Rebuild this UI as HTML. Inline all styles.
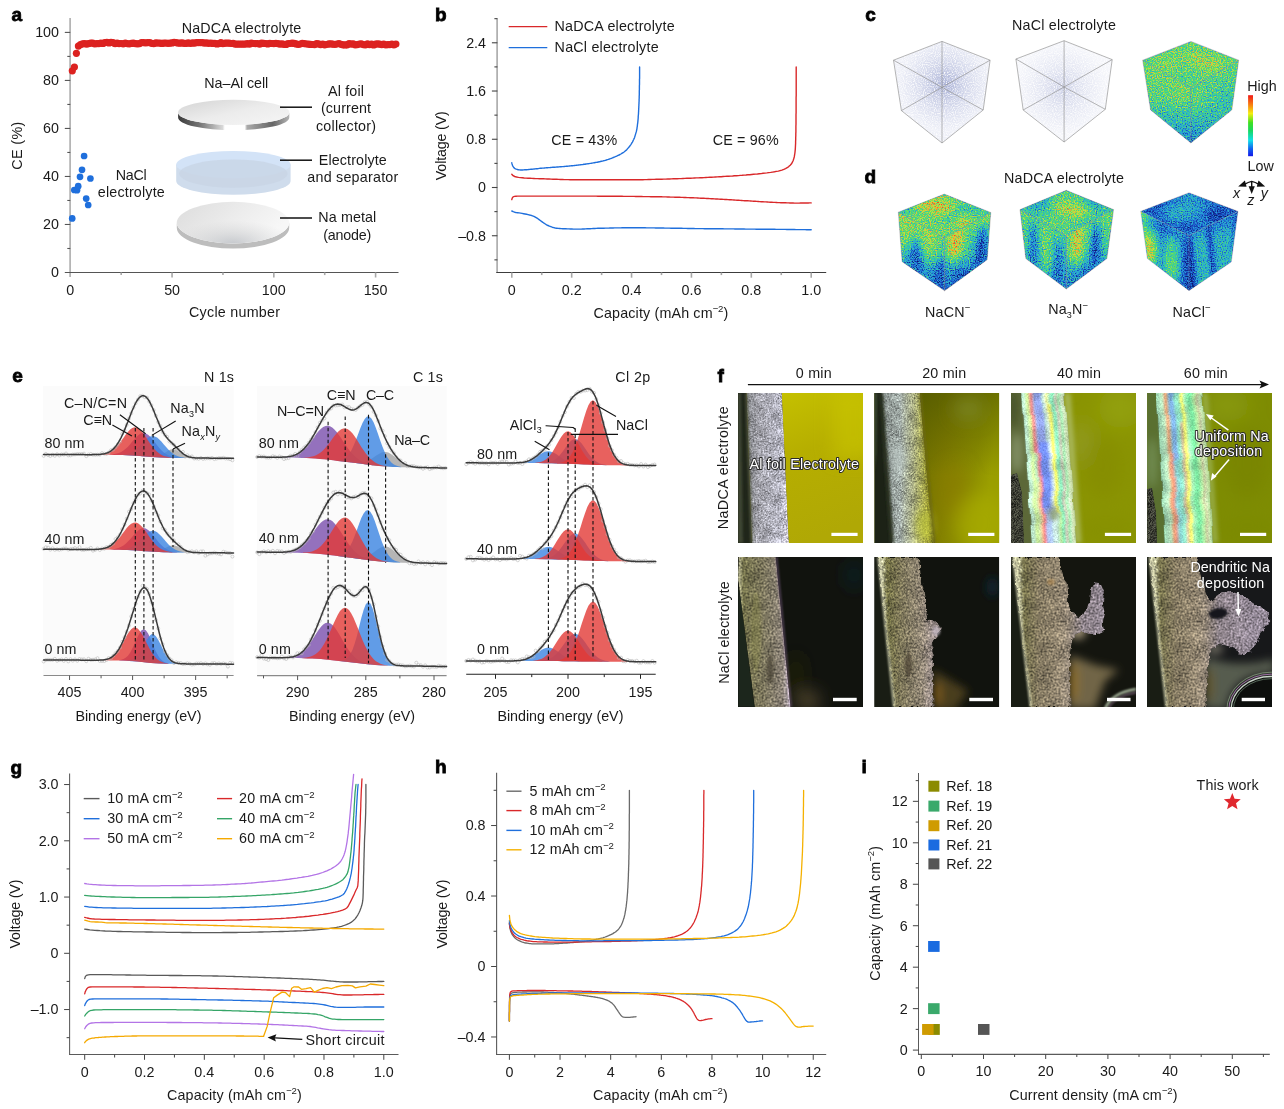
<!DOCTYPE html>
<html><head><meta charset="utf-8"><title>Figure</title>
<style>html,body{margin:0;padding:0;background:#fff}svg{display:block;will-change:transform;transform:translateZ(0)}text{font-family:"Liberation Sans",sans-serif}</style>
</head><body>
<svg width="1284" height="1109" viewBox="0 0 1284 1109">
<rect width="1284" height="1109" fill="#fff"/>
<g id="pa">
<text x="11.5" y="21" font-size="19" font-weight="bold" fill="#000" stroke="#000" stroke-width="0.8">a</text>
<line x1="70.10" y1="18.00" x2="70.10" y2="277.00" stroke="#b2b2b2" stroke-width="1.7"/>
<line x1="64.80" y1="272.50" x2="398.50" y2="272.50" stroke="#555" stroke-width="1.15"/>
<line x1="64.80" y1="224.48" x2="70.30" y2="224.48" stroke="#555" stroke-width="1.1"/><line x1="64.80" y1="176.46" x2="70.30" y2="176.46" stroke="#555" stroke-width="1.1"/><line x1="64.80" y1="128.44" x2="70.30" y2="128.44" stroke="#555" stroke-width="1.1"/><line x1="64.80" y1="80.42" x2="70.30" y2="80.42" stroke="#555" stroke-width="1.1"/><line x1="64.80" y1="32.40" x2="70.30" y2="32.40" stroke="#555" stroke-width="1.1"/><line x1="67.30" y1="248.49" x2="70.30" y2="248.49" stroke="#555" stroke-width="1.1"/><line x1="67.30" y1="200.47" x2="70.30" y2="200.47" stroke="#555" stroke-width="1.1"/><line x1="67.30" y1="152.45" x2="70.30" y2="152.45" stroke="#555" stroke-width="1.1"/><line x1="67.30" y1="104.43" x2="70.30" y2="104.43" stroke="#555" stroke-width="1.1"/><line x1="67.30" y1="56.41" x2="70.30" y2="56.41" stroke="#555" stroke-width="1.1"/>
<line x1="172.06" y1="272.50" x2="172.06" y2="277.50" stroke="#a8a8a8" stroke-width="1.6"/><line x1="273.83" y1="272.50" x2="273.83" y2="277.50" stroke="#a8a8a8" stroke-width="1.6"/><line x1="375.59" y1="272.50" x2="375.59" y2="277.50" stroke="#a8a8a8" stroke-width="1.6"/><line x1="121.18" y1="272.50" x2="121.18" y2="275.10" stroke="#a8a8a8" stroke-width="1.6"/><line x1="222.95" y1="272.50" x2="222.95" y2="275.10" stroke="#a8a8a8" stroke-width="1.6"/><line x1="324.71" y1="272.50" x2="324.71" y2="275.10" stroke="#a8a8a8" stroke-width="1.6"/>
<text x="59.0" y="277.3" font-size="14.3" text-anchor="end" fill="#1a1a1a">0</text>
<text x="59.0" y="229.3" font-size="14.3" text-anchor="end" fill="#1a1a1a">20</text>
<text x="59.0" y="181.3" font-size="14.3" text-anchor="end" fill="#1a1a1a">40</text>
<text x="59.0" y="133.2" font-size="14.3" text-anchor="end" fill="#1a1a1a">60</text>
<text x="59.0" y="85.2" font-size="14.3" text-anchor="end" fill="#1a1a1a">80</text>
<text x="59.0" y="37.2" font-size="14.3" text-anchor="end" fill="#1a1a1a">100</text>
<text x="70.3" y="295.0" font-size="14.3" text-anchor="middle" fill="#1a1a1a">0</text>
<text x="172.1" y="295.0" font-size="14.3" text-anchor="middle" fill="#1a1a1a">50</text>
<text x="273.8" y="295.0" font-size="14.3" text-anchor="middle" fill="#1a1a1a">100</text>
<text x="375.6" y="295.0" font-size="14.3" text-anchor="middle" fill="#1a1a1a">150</text>
<text x="22.3" y="145.5" font-size="14.3" text-anchor="middle" letter-spacing="0.4" transform="rotate(-90 22.3 145.5)" fill="#1a1a1a">CE (%)</text>
<text x="234.5" y="316.5" font-size="14.3" text-anchor="middle" textLength="91.0" lengthAdjust="spacing" fill="#1a1a1a">Cycle number</text>
<text x="241.5" y="33.3" font-size="14.3" text-anchor="middle" textLength="119.6" lengthAdjust="spacing" fill="#1a1a1a">NaDCA electrolyte</text>
<text x="131.3" y="179.8" font-size="14.3" text-anchor="middle" textLength="31.0" lengthAdjust="spacing" fill="#1a1a1a">NaCl</text>
<text x="131.3" y="196.6" font-size="14.3" text-anchor="middle" textLength="67.0" lengthAdjust="spacing" fill="#1a1a1a">electrolyte</text>
<g fill="#dc2220"><circle cx="72.3" cy="70.8" r="3.6"/><circle cx="74.4" cy="67.0" r="3.6"/><circle cx="76.4" cy="53.3" r="3.6"/><circle cx="78.4" cy="46.1" r="3.6"/><circle cx="80.5" cy="44.6" r="3.6"/><circle cx="82.5" cy="43.8" r="3.6"/><circle cx="84.5" cy="43.6" r="3.6"/><circle cx="86.6" cy="44.1" r="3.6"/><circle cx="88.6" cy="43.7" r="3.6"/><circle cx="90.7" cy="43.1" r="3.6"/><circle cx="92.7" cy="43.0" r="3.6"/><circle cx="94.7" cy="44.0" r="3.6"/><circle cx="96.8" cy="43.7" r="3.6"/><circle cx="98.8" cy="43.7" r="3.6"/><circle cx="100.8" cy="43.0" r="3.6"/><circle cx="102.9" cy="43.4" r="3.6"/><circle cx="104.9" cy="42.7" r="3.6"/><circle cx="106.9" cy="42.4" r="3.6"/><circle cx="109.0" cy="42.9" r="3.6"/><circle cx="111.0" cy="42.4" r="3.6"/><circle cx="113.0" cy="42.7" r="3.6"/><circle cx="115.1" cy="43.7" r="3.6"/><circle cx="117.1" cy="43.0" r="3.6"/><circle cx="119.1" cy="43.6" r="3.6"/><circle cx="121.2" cy="43.5" r="3.6"/><circle cx="123.2" cy="43.8" r="3.6"/><circle cx="125.3" cy="43.2" r="3.6"/><circle cx="127.3" cy="43.6" r="3.6"/><circle cx="129.3" cy="44.0" r="3.6"/><circle cx="131.4" cy="43.4" r="3.6"/><circle cx="133.4" cy="43.1" r="3.6"/><circle cx="135.4" cy="43.7" r="3.6"/><circle cx="137.5" cy="43.8" r="3.6"/><circle cx="139.5" cy="43.6" r="3.6"/><circle cx="141.5" cy="42.7" r="3.6"/><circle cx="143.6" cy="42.6" r="3.6"/><circle cx="145.6" cy="43.0" r="3.6"/><circle cx="147.6" cy="42.7" r="3.6"/><circle cx="149.7" cy="42.7" r="3.6"/><circle cx="151.7" cy="43.3" r="3.6"/><circle cx="153.7" cy="43.7" r="3.6"/><circle cx="155.8" cy="42.9" r="3.6"/><circle cx="157.8" cy="43.0" r="3.6"/><circle cx="159.9" cy="43.2" r="3.6"/><circle cx="161.9" cy="43.4" r="3.6"/><circle cx="163.9" cy="43.1" r="3.6"/><circle cx="166.0" cy="43.0" r="3.6"/><circle cx="168.0" cy="43.3" r="3.6"/><circle cx="170.0" cy="43.2" r="3.6"/><circle cx="172.1" cy="42.9" r="3.6"/><circle cx="174.1" cy="42.4" r="3.6"/><circle cx="176.1" cy="42.7" r="3.6"/><circle cx="178.2" cy="43.2" r="3.6"/><circle cx="180.2" cy="43.2" r="3.6"/><circle cx="182.2" cy="42.9" r="3.6"/><circle cx="184.3" cy="43.3" r="3.6"/><circle cx="186.3" cy="43.3" r="3.6"/><circle cx="188.3" cy="42.8" r="3.6"/><circle cx="190.4" cy="43.5" r="3.6"/><circle cx="192.4" cy="42.9" r="3.6"/><circle cx="194.5" cy="43.1" r="3.6"/><circle cx="196.5" cy="42.6" r="3.6"/><circle cx="198.5" cy="42.6" r="3.6"/><circle cx="200.6" cy="42.7" r="3.6"/><circle cx="202.6" cy="42.7" r="3.6"/><circle cx="204.6" cy="43.2" r="3.6"/><circle cx="206.7" cy="42.8" r="3.6"/><circle cx="208.7" cy="43.3" r="3.6"/><circle cx="210.7" cy="43.0" r="3.6"/><circle cx="212.8" cy="43.4" r="3.6"/><circle cx="214.8" cy="43.3" r="3.6"/><circle cx="216.8" cy="43.9" r="3.6"/><circle cx="218.9" cy="43.7" r="3.6"/><circle cx="220.9" cy="42.6" r="3.6"/><circle cx="222.9" cy="43.7" r="3.6"/><circle cx="225.0" cy="43.1" r="3.6"/><circle cx="227.0" cy="43.2" r="3.6"/><circle cx="229.1" cy="43.1" r="3.6"/><circle cx="231.1" cy="43.5" r="3.6"/><circle cx="233.1" cy="43.4" r="3.6"/><circle cx="235.2" cy="44.2" r="3.6"/><circle cx="237.2" cy="44.2" r="3.6"/><circle cx="239.2" cy="44.1" r="3.6"/><circle cx="241.3" cy="44.1" r="3.6"/><circle cx="243.3" cy="44.2" r="3.6"/><circle cx="245.3" cy="44.2" r="3.6"/><circle cx="247.4" cy="43.6" r="3.6"/><circle cx="249.4" cy="44.2" r="3.6"/><circle cx="251.4" cy="43.1" r="3.6"/><circle cx="253.5" cy="43.5" r="3.6"/><circle cx="255.5" cy="43.7" r="3.6"/><circle cx="257.5" cy="43.5" r="3.6"/><circle cx="259.6" cy="44.2" r="3.6"/><circle cx="261.6" cy="43.2" r="3.6"/><circle cx="263.7" cy="43.4" r="3.6"/><circle cx="265.7" cy="43.5" r="3.6"/><circle cx="267.7" cy="43.9" r="3.6"/><circle cx="269.8" cy="43.4" r="3.6"/><circle cx="271.8" cy="43.5" r="3.6"/><circle cx="273.8" cy="43.7" r="3.6"/><circle cx="275.9" cy="43.3" r="3.6"/><circle cx="277.9" cy="43.7" r="3.6"/><circle cx="279.9" cy="44.1" r="3.6"/><circle cx="282.0" cy="43.8" r="3.6"/><circle cx="284.0" cy="44.3" r="3.6"/><circle cx="286.0" cy="44.4" r="3.6"/><circle cx="288.1" cy="43.6" r="3.6"/><circle cx="290.1" cy="43.5" r="3.6"/><circle cx="292.1" cy="43.2" r="3.6"/><circle cx="294.2" cy="43.4" r="3.6"/><circle cx="296.2" cy="43.9" r="3.6"/><circle cx="298.3" cy="44.5" r="3.6"/><circle cx="300.3" cy="44.0" r="3.6"/><circle cx="302.3" cy="43.4" r="3.6"/><circle cx="304.4" cy="43.6" r="3.6"/><circle cx="306.4" cy="44.0" r="3.6"/><circle cx="308.4" cy="44.1" r="3.6"/><circle cx="310.5" cy="44.4" r="3.6"/><circle cx="312.5" cy="44.5" r="3.6"/><circle cx="314.5" cy="44.7" r="3.6"/><circle cx="316.6" cy="43.5" r="3.6"/><circle cx="318.6" cy="43.9" r="3.6"/><circle cx="320.6" cy="44.6" r="3.6"/><circle cx="322.7" cy="44.2" r="3.6"/><circle cx="324.7" cy="44.8" r="3.6"/><circle cx="326.7" cy="44.5" r="3.6"/><circle cx="328.8" cy="43.8" r="3.6"/><circle cx="330.8" cy="43.9" r="3.6"/><circle cx="332.9" cy="44.2" r="3.6"/><circle cx="334.9" cy="44.5" r="3.6"/><circle cx="336.9" cy="44.0" r="3.6"/><circle cx="339.0" cy="43.5" r="3.6"/><circle cx="341.0" cy="44.3" r="3.6"/><circle cx="343.0" cy="44.8" r="3.6"/><circle cx="345.1" cy="44.9" r="3.6"/><circle cx="347.1" cy="44.8" r="3.6"/><circle cx="349.1" cy="43.6" r="3.6"/><circle cx="351.2" cy="44.2" r="3.6"/><circle cx="353.2" cy="43.8" r="3.6"/><circle cx="355.2" cy="44.8" r="3.6"/><circle cx="357.3" cy="44.6" r="3.6"/><circle cx="359.3" cy="44.0" r="3.6"/><circle cx="361.3" cy="43.8" r="3.6"/><circle cx="363.4" cy="44.6" r="3.6"/><circle cx="365.4" cy="45.0" r="3.6"/><circle cx="367.5" cy="43.8" r="3.6"/><circle cx="369.5" cy="44.7" r="3.6"/><circle cx="371.5" cy="44.0" r="3.6"/><circle cx="373.6" cy="44.9" r="3.6"/><circle cx="375.6" cy="44.1" r="3.6"/><circle cx="377.6" cy="43.9" r="3.6"/><circle cx="379.7" cy="44.1" r="3.6"/><circle cx="381.7" cy="44.6" r="3.6"/><circle cx="383.7" cy="44.1" r="3.6"/><circle cx="385.8" cy="45.0" r="3.6"/><circle cx="387.8" cy="44.7" r="3.6"/><circle cx="389.8" cy="44.6" r="3.6"/><circle cx="391.9" cy="44.0" r="3.6"/><circle cx="393.9" cy="45.0" r="3.6"/><circle cx="395.9" cy="44.0" r="3.6"/></g>
<g fill="#1f6fdc"><circle cx="72.2" cy="218.4" r="3.35"/><circle cx="74.3" cy="190.0" r="3.35"/><circle cx="77" cy="190.2" r="3.35"/><circle cx="78.2" cy="186.2" r="3.35"/><circle cx="80" cy="176.8" r="3.35"/><circle cx="82" cy="169.8" r="3.35"/><circle cx="84.1" cy="156" r="3.35"/><circle cx="86.2" cy="198.6" r="3.35"/><circle cx="88.2" cy="205" r="3.35"/><circle cx="90.4" cy="178.5" r="3.35"/></g>
<defs>
<linearGradient id="alTop" x1="0" y1="0" x2="1" y2="1"><stop offset="0" stop-color="#d4d4d4"/><stop offset="0.5" stop-color="#ececec"/><stop offset="1" stop-color="#f6f6f6"/></linearGradient>
<linearGradient id="alRim" x1="0" y1="0" x2="1" y2="0"><stop offset="0" stop-color="#3a3a3a"/><stop offset="0.2" stop-color="#777"/><stop offset="0.4" stop-color="#d8d8d8"/><stop offset="0.42" stop-color="#fff"/><stop offset="0.6" stop-color="#fff"/><stop offset="0.62" stop-color="#aaa"/><stop offset="0.85" stop-color="#666"/><stop offset="1" stop-color="#b5b5b5"/></linearGradient>
<linearGradient id="naTop" x1="0" y1="0" x2="1" y2="0.4"><stop offset="0" stop-color="#dcdcdc"/><stop offset="0.6" stop-color="#ededed"/><stop offset="1" stop-color="#f7f7f7"/></linearGradient>
<radialGradient id="naShade" cx="0.5" cy="1" r="0.55"><stop offset="0" stop-color="#b8bcc2" stop-opacity="0.75"/><stop offset="1" stop-color="#d0d0d0" stop-opacity="0"/></radialGradient>
</defs>
<path d="M178.1 112.4 A55.6 12.6 0 0 0 289.3 112.4 L289.3 117.60000000000001 A55.6 12.6 0 0 1 178.1 117.60000000000001 Z" fill="url(#alRim)"/>
<ellipse cx="233.7" cy="112.4" rx="55.6" ry="12.6" fill="url(#alTop)"/>
<path d="M176.2 164.6 L176.2 181.1 A57.2 13.6 0 0 0 290.6 181.1 L290.6 164.6 Z" fill="#cfdcec"/>
<ellipse cx="233.4" cy="164.6" rx="57.2" ry="13.6" fill="#d3e3f7"/>
<ellipse cx="233.4" cy="173.6" rx="54.2" ry="14.1" fill="#c8d5e5" opacity="0.8"/>
<path d="M176.8 222.6 A56.2 20.8 0 0 0 289.2 222.6 L289.2 227.79999999999998 A56.2 20.8 0 0 1 176.8 227.79999999999998 Z" fill="#bdbdbd"/>
<ellipse cx="233.0" cy="222.6" rx="56.2" ry="20.8" fill="url(#naTop)"/>
<ellipse cx="233.0" cy="222.6" rx="56.2" ry="20.8" fill="url(#naShade)"/>
<line x1="280.00" y1="107.20" x2="312.00" y2="107.20" stroke="#111" stroke-width="1.5"/>
<line x1="280.00" y1="160.20" x2="312.00" y2="160.20" stroke="#111" stroke-width="1.5"/>
<line x1="280.00" y1="218.00" x2="312.00" y2="218.00" stroke="#111" stroke-width="1.5"/>
<text x="236.3" y="87.7" font-size="14.3" text-anchor="middle" textLength="64.0" lengthAdjust="spacing" fill="#1a1a1a">Na–Al cell</text>
<text x="346.0" y="96.0" font-size="14.3" text-anchor="middle" textLength="36.0" lengthAdjust="spacing" fill="#1a1a1a">Al foil</text>
<text x="346.0" y="113.2" font-size="14.3" text-anchor="middle" textLength="50.0" lengthAdjust="spacing" fill="#1a1a1a">(current</text>
<text x="346.0" y="130.5" font-size="14.3" text-anchor="middle" textLength="60.0" lengthAdjust="spacing" fill="#1a1a1a">collector)</text>
<text x="352.8" y="164.9" font-size="14.3" text-anchor="middle" textLength="68.0" lengthAdjust="spacing" fill="#1a1a1a">Electrolyte</text>
<text x="352.8" y="181.9" font-size="14.3" text-anchor="middle" textLength="91.0" lengthAdjust="spacing" fill="#1a1a1a">and separator</text>
<text x="347.3" y="222.0" font-size="14.3" text-anchor="middle" textLength="58.0" lengthAdjust="spacing" fill="#1a1a1a">Na metal</text>
<text x="347.3" y="239.8" font-size="14.3" text-anchor="middle" textLength="48.0" lengthAdjust="spacing" fill="#1a1a1a">(anode)</text>
</g>
<g id="pb">
<text x="434.9" y="21" font-size="19" font-weight="bold" fill="#000" stroke="#000" stroke-width="0.8">b</text>
<line x1="497.10" y1="18.20" x2="497.10" y2="273.00" stroke="#a8a8a8" stroke-width="1.6"/>
<line x1="496.30" y1="272.50" x2="826.20" y2="272.50" stroke="#3c3c3c" stroke-width="1.2"/>
<line x1="491.90" y1="235.74" x2="497.40" y2="235.74" stroke="#444" stroke-width="1.1"/><line x1="491.90" y1="187.50" x2="497.40" y2="187.50" stroke="#444" stroke-width="1.1"/><line x1="491.90" y1="139.26" x2="497.40" y2="139.26" stroke="#444" stroke-width="1.1"/><line x1="491.90" y1="91.02" x2="497.40" y2="91.02" stroke="#444" stroke-width="1.1"/><line x1="491.90" y1="42.78" x2="497.40" y2="42.78" stroke="#444" stroke-width="1.1"/><line x1="494.40" y1="259.86" x2="497.40" y2="259.86" stroke="#444" stroke-width="1.1"/><line x1="494.40" y1="211.62" x2="497.40" y2="211.62" stroke="#444" stroke-width="1.1"/><line x1="494.40" y1="163.38" x2="497.40" y2="163.38" stroke="#444" stroke-width="1.1"/><line x1="494.40" y1="115.14" x2="497.40" y2="115.14" stroke="#444" stroke-width="1.1"/><line x1="494.40" y1="66.90" x2="497.40" y2="66.90" stroke="#444" stroke-width="1.1"/><line x1="494.40" y1="18.66" x2="497.40" y2="18.66" stroke="#444" stroke-width="1.1"/>
<line x1="511.80" y1="272.50" x2="511.80" y2="277.70" stroke="#a8a8a8" stroke-width="1.6"/><line x1="571.68" y1="272.50" x2="571.68" y2="277.70" stroke="#a8a8a8" stroke-width="1.6"/><line x1="631.56" y1="272.50" x2="631.56" y2="277.70" stroke="#a8a8a8" stroke-width="1.6"/><line x1="691.44" y1="272.50" x2="691.44" y2="277.70" stroke="#a8a8a8" stroke-width="1.6"/><line x1="751.32" y1="272.50" x2="751.32" y2="277.70" stroke="#a8a8a8" stroke-width="1.6"/><line x1="811.20" y1="272.50" x2="811.20" y2="277.70" stroke="#a8a8a8" stroke-width="1.6"/><line x1="541.74" y1="272.50" x2="541.74" y2="275.10" stroke="#a8a8a8" stroke-width="1.6"/><line x1="601.62" y1="272.50" x2="601.62" y2="275.10" stroke="#a8a8a8" stroke-width="1.6"/><line x1="661.50" y1="272.50" x2="661.50" y2="275.10" stroke="#a8a8a8" stroke-width="1.6"/><line x1="721.38" y1="272.50" x2="721.38" y2="275.10" stroke="#a8a8a8" stroke-width="1.6"/><line x1="781.26" y1="272.50" x2="781.26" y2="275.10" stroke="#a8a8a8" stroke-width="1.6"/>
<text x="486.0" y="240.5" font-size="14.3" text-anchor="end" fill="#1a1a1a">–0.8</text>
<text x="486.0" y="192.3" font-size="14.3" text-anchor="end" fill="#1a1a1a">0</text>
<text x="486.0" y="144.1" font-size="14.3" text-anchor="end" fill="#1a1a1a">0.8</text>
<text x="486.0" y="95.8" font-size="14.3" text-anchor="end" fill="#1a1a1a">1.6</text>
<text x="486.0" y="47.6" font-size="14.3" text-anchor="end" fill="#1a1a1a">2.4</text>
<text x="511.8" y="295.0" font-size="14.3" text-anchor="middle" fill="#1a1a1a">0</text>
<text x="571.7" y="295.0" font-size="14.3" text-anchor="middle" fill="#1a1a1a">0.2</text>
<text x="631.6" y="295.0" font-size="14.3" text-anchor="middle" fill="#1a1a1a">0.4</text>
<text x="691.4" y="295.0" font-size="14.3" text-anchor="middle" fill="#1a1a1a">0.6</text>
<text x="751.3" y="295.0" font-size="14.3" text-anchor="middle" fill="#1a1a1a">0.8</text>
<text x="811.2" y="295.0" font-size="14.3" text-anchor="middle" fill="#1a1a1a">1.0</text>
<text x="446.5" y="145.7" font-size="14.3" text-anchor="middle" textLength="69.0" lengthAdjust="spacing" transform="rotate(-90 446.5 145.7)" fill="#1a1a1a">Voltage (V)</text>
<text x="661.0" y="317.5" font-size="14.3" text-anchor="middle" letter-spacing="0.15" fill="#1a1a1a">Capacity (mAh cm<tspan dy="-5.6" font-size="9.6" letter-spacing="-0.3">−2</tspan><tspan dy="5.6" font-size="1"> </tspan>)</text>
<line x1="508.70" y1="26.50" x2="547.30" y2="26.50" stroke="#d9282a" stroke-width="1.25"/>
<line x1="508.70" y1="47.50" x2="547.30" y2="47.50" stroke="#1f6fdc" stroke-width="1.25"/>
<text x="554.6" y="30.8" font-size="14.3" textLength="120.0" lengthAdjust="spacing" fill="#1a1a1a">NaDCA electrolyte</text>
<text x="554.6" y="51.9" font-size="14.3" textLength="104.0" lengthAdjust="spacing" fill="#1a1a1a">NaCl electrolyte</text>
<text x="551.3" y="144.7" font-size="14.3" textLength="66.0" lengthAdjust="spacing" fill="#1a1a1a">CE = 43%</text>
<text x="712.7" y="144.7" font-size="14.3" textLength="66.0" lengthAdjust="spacing" fill="#1a1a1a">CE = 96%</text>
<path d="M511.8 162.8 L512.0 163.9 L512.3 164.9 L512.7 165.8 L513.2 166.7 L513.8 167.6 L514.6 168.3 L515.5 168.8 L516.4 169.2 L517.4 169.5 L518.4 169.8 L519.5 169.9 L520.6 170.0 L521.6 170.0 L522.6 170.0 L523.7 169.9 L524.7 169.8 L525.8 169.8 L526.8 169.7 L527.8 169.6 L528.9 169.5 L529.9 169.4 L531.0 169.3 L532.0 169.2 L533.0 169.1 L534.1 169.0 L535.1 168.9 L536.1 168.8 L537.2 168.7 L538.2 168.6 L539.3 168.4 L540.3 168.3 L541.3 168.2 L542.4 168.1 L543.4 168.1 L544.5 168.0 L545.5 167.9 L546.5 167.8 L547.6 167.7 L548.6 167.6 L549.7 167.6 L550.7 167.5 L551.7 167.4 L552.8 167.3 L553.8 167.3 L554.9 167.2 L555.9 167.1 L556.9 167.0 L558.0 167.0 L559.0 166.9 L560.1 166.8 L561.1 166.7 L562.1 166.6 L563.2 166.6 L564.2 166.5 L565.3 166.4 L566.3 166.3 L567.3 166.2 L568.4 166.1 L569.4 166.0 L570.4 165.9 L571.5 165.8 L572.5 165.7 L573.5 165.6 L574.6 165.5 L575.6 165.4 L576.7 165.2 L577.7 165.1 L578.7 165.0 L579.8 164.9 L580.8 164.7 L581.9 164.6 L582.9 164.5 L583.9 164.3 L585.0 164.2 L586.0 164.0 L587.0 163.9 L588.1 163.7 L589.1 163.6 L590.2 163.4 L591.2 163.3 L592.2 163.1 L593.2 162.9 L594.3 162.7 L595.3 162.5 L596.3 162.4 L597.3 162.2 L598.3 162.0 L599.4 161.8 L600.4 161.5 L601.4 161.3 L602.4 161.1 L603.4 160.8 L604.4 160.6 L605.4 160.3 L606.4 160.0 L607.4 159.7 L608.4 159.4 L609.4 159.0 L610.4 158.7 L611.4 158.3 L612.4 157.9 L613.3 157.5 L614.3 157.1 L615.3 156.7 L616.2 156.3 L617.1 155.9 L618.1 155.4 L619.0 155.0 L620.0 154.5 L620.9 154.0 L621.8 153.4 L622.7 152.8 L623.6 152.3 L624.4 151.7 L625.2 151.0 L626.0 150.4 L626.7 149.7 L627.4 148.9 L628.1 148.1 L628.8 147.3 L629.5 146.5 L630.1 145.6 L630.7 144.8 L631.3 143.9 L631.8 143.0 L632.4 142.1 L632.9 141.2 L633.3 140.3 L633.8 139.3 L634.2 138.4 L634.6 137.4 L634.9 136.4 L635.2 135.4 L635.5 134.4 L635.8 133.4 L636.1 132.4 L636.4 131.4 L636.6 130.4 L636.8 129.3 L637.0 128.3 L637.1 127.3 L637.3 126.3 L637.4 125.2 L637.5 124.2 L637.7 123.2 L637.8 122.1 L637.9 121.1 L638.0 120.1 L638.1 119.0 L638.2 118.0 L638.2 116.9 L638.3 115.9 L638.4 114.8 L638.5 113.8 L638.5 112.8 L638.6 111.7 L638.6 110.7 L638.7 109.6 L638.7 108.6 L638.8 107.6 L638.8 106.5 L638.9 105.5 L638.9 104.4 L639.0 103.4 L639.0 102.3 L639.1 101.3 L639.1 100.3 L639.1 99.2 L639.2 98.2 L639.2 97.1 L639.2 96.1 L639.3 95.0 L639.3 94.0 L639.3 93.0 L639.3 91.9 L639.3 90.9 L639.4 89.8 L639.4 88.8 L639.4 87.8 L639.4 86.7 L639.4 85.7 L639.5 84.6 L639.5 83.6 L639.5 82.5 L639.5 81.5 L639.5 80.5 L639.5 79.4 L639.6 78.4 L639.6 77.3 L639.6 76.3 L639.6 75.2 L639.6 74.2 L639.6 73.2 L639.6 72.1 L639.6 71.1 L639.6 70.0 L639.6 69.0 L639.6 67.9 L639.6 66.9" fill="none" stroke="#1f6fdc" stroke-width="1.4" stroke-linejoin="round" stroke-linecap="round"/>
<path d="M511.8 174.2 L513.1 175.7 L514.7 176.5 L516.6 177.0 L518.5 177.4 L520.4 177.6 L522.3 177.8 L524.2 178.0 L526.1 178.1 L528.0 178.2 L530.0 178.3 L531.9 178.4 L533.8 178.5 L535.7 178.6 L537.6 178.6 L539.5 178.7 L541.4 178.7 L543.3 178.8 L545.2 178.9 L547.2 179.0 L549.1 179.0 L551.0 179.1 L552.9 179.2 L554.8 179.3 L556.7 179.3 L558.6 179.4 L560.5 179.5 L562.5 179.5 L564.4 179.6 L566.3 179.6 L568.2 179.6 L570.1 179.7 L572.0 179.7 L573.9 179.7 L575.8 179.7 L577.8 179.7 L579.7 179.7 L581.6 179.7 L583.5 179.7 L585.4 179.7 L587.3 179.7 L589.2 179.7 L591.1 179.7 L593.1 179.7 L595.0 179.7 L596.9 179.7 L598.8 179.7 L600.7 179.8 L602.6 179.8 L604.5 179.8 L606.5 179.8 L608.4 179.8 L610.3 179.8 L612.2 179.8 L614.1 179.8 L616.0 179.8 L617.9 179.8 L619.8 179.8 L621.8 179.8 L623.7 179.8 L625.6 179.8 L627.5 179.8 L629.4 179.8 L631.3 179.8 L633.2 179.8 L635.1 179.8 L637.1 179.7 L639.0 179.7 L640.9 179.7 L642.8 179.7 L644.7 179.6 L646.6 179.6 L648.5 179.5 L650.4 179.5 L652.4 179.4 L654.3 179.4 L656.2 179.3 L658.1 179.3 L660.0 179.2 L661.9 179.2 L663.8 179.1 L665.7 179.1 L667.7 179.0 L669.6 179.0 L671.5 178.9 L673.4 178.8 L675.3 178.8 L677.2 178.7 L679.1 178.6 L681.0 178.6 L683.0 178.5 L684.9 178.4 L686.8 178.3 L688.7 178.3 L690.6 178.2 L692.5 178.1 L694.4 178.0 L696.3 177.9 L698.2 177.9 L700.2 177.8 L702.1 177.7 L704.0 177.6 L705.9 177.5 L707.8 177.4 L709.7 177.3 L711.6 177.2 L713.5 177.1 L715.4 177.0 L717.3 176.9 L719.3 176.8 L721.2 176.7 L723.1 176.5 L725.0 176.4 L726.9 176.3 L728.8 176.2 L730.7 176.1 L732.6 176.0 L734.5 175.8 L736.4 175.7 L738.4 175.6 L740.3 175.4 L742.2 175.3 L744.1 175.1 L746.0 175.0 L747.9 174.8 L749.8 174.7 L751.7 174.5 L753.6 174.3 L755.5 174.1 L757.4 174.0 L759.3 173.8 L761.2 173.6 L763.1 173.3 L765.0 173.1 L766.9 172.9 L768.8 172.6 L770.7 172.4 L772.6 172.1 L774.5 171.8 L776.4 171.4 L778.3 171.1 L780.1 170.6 L781.9 170.1 L783.8 169.4 L785.5 168.6 L787.2 167.7 L788.7 166.6 L790.2 165.2 L791.5 163.8 L792.4 162.2 L793.2 160.5 L793.8 158.6 L794.3 156.7 L794.6 154.9 L794.9 153.0 L795.1 151.1 L795.3 149.1 L795.4 147.2 L795.5 145.3 L795.6 143.4 L795.6 141.5 L795.7 139.6 L795.7 137.7 L795.8 135.8 L795.8 133.9 L795.9 131.9 L795.9 130.0 L795.9 128.1 L795.9 126.2 L796.0 124.3 L796.0 122.4 L796.0 120.5 L796.0 118.6 L796.0 116.6 L796.0 114.7 L796.1 112.8 L796.1 110.9 L796.1 109.0 L796.1 107.1 L796.1 105.2 L796.1 103.2 L796.1 101.3 L796.1 99.4 L796.1 97.5 L796.2 95.6 L796.2 93.7 L796.2 91.8 L796.2 89.9 L796.2 87.9 L796.2 86.0 L796.2 84.1 L796.2 82.2 L796.2 80.3 L796.2 78.4 L796.2 76.5 L796.2 74.6 L796.2 72.6 L796.2 70.7 L796.2 68.8 L796.2 66.9" fill="none" stroke="#d9282a" stroke-width="1.4" stroke-linejoin="round" stroke-linecap="round"/>
<path d="M511.8 199.6 L512.2 198.1 L513.1 196.8 L514.4 196.4 L516.0 196.2 L517.5 196.1 L519.0 196.1 L520.6 196.1 L522.1 196.1 L523.6 196.1 L525.1 196.1 L526.6 196.1 L528.1 196.1 L529.6 196.1 L531.1 196.1 L532.6 196.1 L534.2 196.1 L535.7 196.1 L537.2 196.1 L538.7 196.1 L540.2 196.1 L541.7 196.1 L543.3 196.1 L544.8 196.1 L546.3 196.1 L547.8 196.1 L549.3 196.1 L550.8 196.1 L552.4 196.1 L553.9 196.1 L555.4 196.1 L556.9 196.1 L558.4 196.1 L559.9 196.1 L561.5 196.1 L563.0 196.1 L564.5 196.1 L566.0 196.1 L567.5 196.1 L569.0 196.1 L570.5 196.1 L572.1 196.1 L573.6 196.1 L575.1 196.1 L576.6 196.1 L578.1 196.1 L579.6 196.1 L581.1 196.1 L582.7 196.1 L584.2 196.1 L585.7 196.1 L587.2 196.1 L588.7 196.1 L590.2 196.1 L591.7 196.1 L593.3 196.1 L594.8 196.1 L596.3 196.1 L597.8 196.2 L599.3 196.2 L600.8 196.2 L602.4 196.2 L603.9 196.2 L605.4 196.2 L606.9 196.2 L608.4 196.2 L609.9 196.2 L611.4 196.3 L613.0 196.3 L614.5 196.3 L616.0 196.3 L617.5 196.3 L619.0 196.3 L620.5 196.3 L622.0 196.3 L623.6 196.4 L625.1 196.4 L626.6 196.4 L628.1 196.4 L629.6 196.4 L631.1 196.4 L632.6 196.4 L634.2 196.4 L635.7 196.5 L637.2 196.5 L638.7 196.5 L640.2 196.5 L641.7 196.5 L643.2 196.6 L644.8 196.6 L646.3 196.6 L647.8 196.6 L649.3 196.6 L650.8 196.7 L652.3 196.7 L653.8 196.7 L655.4 196.7 L656.9 196.8 L658.4 196.8 L659.9 196.8 L661.4 196.8 L662.9 196.9 L664.4 196.9 L666.0 196.9 L667.5 197.0 L669.0 197.0 L670.5 197.1 L672.0 197.1 L673.5 197.1 L675.0 197.2 L676.6 197.2 L678.1 197.3 L679.6 197.3 L681.1 197.4 L682.6 197.4 L684.1 197.5 L685.6 197.5 L687.2 197.6 L688.7 197.6 L690.2 197.7 L691.7 197.8 L693.2 197.8 L694.7 197.9 L696.2 197.9 L697.7 198.0 L699.3 198.1 L700.8 198.2 L702.3 198.2 L703.8 198.3 L705.3 198.4 L706.8 198.5 L708.3 198.5 L709.8 198.6 L711.4 198.7 L712.9 198.8 L714.4 198.9 L715.9 199.0 L717.4 199.0 L718.9 199.1 L720.4 199.2 L721.9 199.3 L723.5 199.4 L725.0 199.5 L726.5 199.5 L728.0 199.6 L729.5 199.7 L731.0 199.8 L732.5 199.9 L734.0 200.0 L735.6 200.1 L737.1 200.2 L738.6 200.3 L740.1 200.4 L741.6 200.5 L743.1 200.6 L744.6 200.7 L746.1 200.8 L747.6 200.8 L749.2 200.9 L750.7 201.0 L752.2 201.1 L753.7 201.2 L755.2 201.3 L756.7 201.4 L758.2 201.5 L759.7 201.6 L761.3 201.7 L762.8 201.8 L764.3 201.9 L765.8 201.9 L767.3 202.0 L768.8 202.1 L770.3 202.2 L771.8 202.3 L773.3 202.4 L774.9 202.4 L776.4 202.5 L777.9 202.6 L779.4 202.6 L780.9 202.7 L782.4 202.7 L783.9 202.8 L785.5 202.8 L787.0 202.9 L788.5 202.9 L790.0 203.0 L791.5 203.0 L793.0 203.0 L794.5 203.1 L796.1 203.1 L797.6 203.1 L799.1 203.1 L800.6 203.0 L802.1 203.0 L803.6 203.0 L805.1 203.0 L806.7 203.0 L808.2 203.0 L809.7 202.9 L811.2 202.9" fill="none" stroke="#d9282a" stroke-width="1.4" stroke-linejoin="round" stroke-linecap="round"/>
<path d="M511.8 211.0 L513.2 211.7 L514.6 212.2 L516.1 212.5 L517.6 212.7 L519.1 212.9 L520.6 213.1 L522.1 213.4 L523.6 213.7 L525.1 214.0 L526.6 214.3 L528.1 214.6 L529.6 215.0 L531.1 215.3 L532.5 215.8 L533.9 216.3 L535.3 217.1 L536.6 217.9 L537.9 218.7 L539.1 219.6 L540.3 220.5 L541.5 221.4 L542.8 222.3 L544.0 223.2 L545.3 224.0 L546.6 224.8 L548.0 225.5 L549.4 226.2 L550.8 226.7 L552.2 227.2 L553.7 227.6 L555.2 228.0 L556.7 228.2 L558.2 228.4 L559.7 228.5 L561.2 228.6 L562.8 228.7 L564.3 228.7 L565.8 228.8 L567.3 228.9 L568.9 228.9 L570.4 229.0 L571.9 229.0 L573.4 229.1 L575.0 229.1 L576.5 229.1 L578.0 229.1 L579.5 229.1 L581.1 229.1 L582.6 229.0 L584.1 229.0 L585.6 228.9 L587.2 228.8 L588.7 228.8 L590.2 228.7 L591.7 228.6 L593.2 228.5 L594.8 228.5 L596.3 228.4 L597.8 228.3 L599.3 228.3 L600.9 228.2 L602.4 228.2 L603.9 228.2 L605.4 228.1 L607.0 228.1 L608.5 228.1 L610.0 228.0 L611.5 228.0 L613.1 228.0 L614.6 227.9 L616.1 227.9 L617.6 227.9 L619.1 227.9 L620.7 227.9 L622.2 227.8 L623.7 227.8 L625.2 227.8 L626.8 227.8 L628.3 227.8 L629.8 227.8 L631.3 227.8 L632.9 227.8 L634.4 227.8 L635.9 227.8 L637.4 227.8 L639.0 227.8 L640.5 227.8 L642.0 227.8 L643.5 227.8 L645.1 227.8 L646.6 227.9 L648.1 227.9 L649.6 227.9 L651.2 227.9 L652.7 227.9 L654.2 227.9 L655.7 228.0 L657.3 228.0 L658.8 228.0 L660.3 228.0 L661.8 228.0 L663.4 228.0 L664.9 228.1 L666.4 228.1 L667.9 228.1 L669.4 228.1 L671.0 228.2 L672.5 228.2 L674.0 228.2 L675.5 228.2 L677.1 228.3 L678.6 228.3 L680.1 228.3 L681.6 228.3 L683.2 228.4 L684.7 228.4 L686.2 228.4 L687.7 228.5 L689.3 228.5 L690.8 228.5 L692.3 228.5 L693.8 228.5 L695.4 228.6 L696.9 228.6 L698.4 228.6 L699.9 228.6 L701.5 228.6 L703.0 228.6 L704.5 228.7 L706.0 228.7 L707.6 228.7 L709.1 228.7 L710.6 228.7 L712.1 228.7 L713.6 228.8 L715.2 228.8 L716.7 228.8 L718.2 228.8 L719.7 228.8 L721.3 228.8 L722.8 228.8 L724.3 228.9 L725.8 228.9 L727.4 228.9 L728.9 228.9 L730.4 228.9 L731.9 228.9 L733.5 228.9 L735.0 229.0 L736.5 229.0 L738.0 229.0 L739.6 229.0 L741.1 229.0 L742.6 229.0 L744.1 229.0 L745.7 229.1 L747.2 229.1 L748.7 229.1 L750.2 229.1 L751.8 229.1 L753.3 229.1 L754.8 229.1 L756.3 229.2 L757.9 229.2 L759.4 229.2 L760.9 229.2 L762.4 229.2 L763.9 229.2 L765.5 229.2 L767.0 229.3 L768.5 229.3 L770.0 229.3 L771.6 229.3 L773.1 229.3 L774.6 229.3 L776.1 229.4 L777.7 229.4 L779.2 229.4 L780.7 229.4 L782.2 229.4 L783.8 229.4 L785.3 229.4 L786.8 229.5 L788.3 229.5 L789.9 229.5 L791.4 229.5 L792.9 229.5 L794.4 229.5 L796.0 229.6 L797.5 229.6 L799.0 229.6 L800.5 229.6 L802.1 229.6 L803.6 229.6 L805.1 229.6 L806.6 229.7 L808.2 229.7 L809.7 229.7 L811.2 229.7" fill="none" stroke="#1f6fdc" stroke-width="1.4" stroke-linejoin="round" stroke-linecap="round"/>
</g>
<g id="pcd">
<text x="865.2" y="21" font-size="19" font-weight="bold" fill="#000" stroke="#000" stroke-width="0.8">c</text>
<text x="864.6" y="182.5" font-size="19" font-weight="bold" fill="#000" stroke="#000" stroke-width="0.8">d</text>
<text x="1064.0" y="30.4" font-size="14.3" text-anchor="middle" textLength="104.0" lengthAdjust="spacing" fill="#1a1a1a">NaCl electrolyte</text>
<text x="1064.0" y="183.2" font-size="14.3" text-anchor="middle" textLength="120.0" lengthAdjust="spacing" fill="#1a1a1a">NaDCA electrolyte</text>
<defs><filter id="blob" x="-50%" y="-50%" width="200%" height="200%"><feGaussianBlur stdDeviation="4"/></filter>
<filter id="haze" x="0" y="0" width="1" height="1" color-interpolation-filters="sRGB"><feTurbulence type="fractalNoise" baseFrequency="0.9" numOctaves="1" seed="8" result="n"/><feColorMatrix in="n" type="matrix" values="0 0 0 0 0 0 0 0 0 0 0 0 0 0 0 0 0 0 2.6 -0.5" result="a"/><feComposite in="SourceGraphic" in2="a" operator="in"/></filter>
<linearGradient id="cbar" x1="0" y1="0" x2="0" y2="1"><stop offset="0" stop-color="#f01818"/><stop offset="0.17" stop-color="#f88a10"/><stop offset="0.3" stop-color="#f4ee10"/><stop offset="0.45" stop-color="#40e020"/><stop offset="0.58" stop-color="#18d860"/><stop offset="0.74" stop-color="#10e0e8"/><stop offset="0.88" stop-color="#1060f0"/><stop offset="1" stop-color="#1418e8"/></linearGradient></defs>
<defs><radialGradient id="hz1" gradientUnits="userSpaceOnUse" cx="945" cy="84.3" r="46"><stop offset="0" stop-color="#9aa3cf" stop-opacity="0.85"/><stop offset="0.5" stop-color="#aab2d8" stop-opacity="0.5"/><stop offset="1" stop-color="#bcc3e2" stop-opacity="0.25"/></radialGradient></defs>
<polygon points="893.5,60.2 942.0,41.4 990.1,60.2 983.2,110.0 942.0,143.0 901.4,110.6" fill="url(#hz1)" filter="url(#haze)"/>
<path d="M893.5 60.2 L942.0 41.4 L990.1 60.2 L983.2 110.0 L942.0 143.0 L901.4 110.6Z M942.0 87.3 L893.5 60.2 M942.0 87.3 L942.0 41.4 M942.0 87.3 L990.1 60.2 M942.0 87.3 L983.2 110.0 M942.0 87.3 L942.0 143.0 M942.0 87.3 L901.4 110.6" fill="none" stroke="#8e8e8e" stroke-width="0.65"/>
<defs><radialGradient id="hz2" gradientUnits="userSpaceOnUse" cx="1062.1" cy="89" r="46"><stop offset="0" stop-color="#9aa3cf" stop-opacity="0.51"/><stop offset="0.5" stop-color="#aab2d8" stop-opacity="0.3"/><stop offset="1" stop-color="#bcc3e2" stop-opacity="0.15"/></radialGradient></defs>
<polygon points="1015.9,59.0 1064.1,40.7 1112.2,59.6 1105.3,109.3 1064.1,142.0 1023.2,110.0" fill="url(#hz2)" filter="url(#haze)"/>
<path d="M1015.9 59.0 L1064.1 40.7 L1112.2 59.6 L1105.3 109.3 L1064.1 142.0 L1023.2 110.0Z M1064.1 87.0 L1015.9 59.0 M1064.1 87.0 L1064.1 40.7 M1064.1 87.0 L1112.2 59.6 M1064.1 87.0 L1105.3 109.3 M1064.1 87.0 L1064.1 142.0 M1064.1 87.0 L1023.2 110.0" fill="none" stroke="#8e8e8e" stroke-width="0.65"/>
<defs>
<filter id="jetc3" filterUnits="userSpaceOnUse" x="1140" y="38" width="102" height="108" color-interpolation-filters="sRGB">
<feTurbulence type="fractalNoise" baseFrequency="0.8" numOctaves="2" seed="5" result="n"/>
<feColorMatrix in="n" type="matrix" values="1.8 0 0 0 -0.4  1.8 0 0 0 -0.4  1.8 0 0 0 -0.4  0 0 0 0 1" result="ng"/>
<feComposite in="SourceGraphic" in2="ng" operator="arithmetic" k1="0" k2="1" k3="0.5" k4="-0.25" result="mix"/>
<feComponentTransfer in="mix" result="col"><feFuncR type="table" tableValues="0.047 0.086 0.118 0.157 0.212 0.384 0.769 0.965 0.933"/><feFuncG type="table" tableValues="0.110 0.204 0.408 0.643 0.800 0.863 0.878 0.627 0.251"/><feFuncB type="table" tableValues="0.408 0.659 0.816 0.847 0.643 0.384 0.251 0.188 0.157"/></feComponentTransfer>
<feGaussianBlur in="col" stdDeviation="0.5" result="colb"/>
<feComposite in="colb" in2="SourceGraphic" operator="in"/>
</filter>
<clipPath id="clc3top"><polygon points="1142.7,60.2 1190.9,41.4 1238.7,60.2 1190.9,87.9"/></clipPath>
<linearGradient id="grc3top" gradientUnits="userSpaceOnUse" x1="1143" y1="60" x2="1239" y2="60"><stop offset="0" stop-color="#999999"/><stop offset="0.5" stop-color="#999999"/><stop offset="1" stop-color="#9e9e9e"/></linearGradient>
<clipPath id="clc3left"><polygon points="1142.7,60.2 1190.9,87.9 1190.9,143.0 1150.6,110.0"/></clipPath>
<linearGradient id="grc3left" gradientUnits="userSpaceOnUse" x1="1170" y1="62" x2="1170" y2="140"><stop offset="0" stop-color="#a1a1a1"/><stop offset="0.45" stop-color="#949494"/><stop offset="0.75" stop-color="#737373"/><stop offset="1" stop-color="#525252"/></linearGradient>
<clipPath id="clc3right"><polygon points="1190.9,87.9 1238.7,60.2 1231.8,110.0 1190.9,143.0"/></clipPath>
<linearGradient id="grc3right" gradientUnits="userSpaceOnUse" x1="1212" y1="62" x2="1212" y2="140"><stop offset="0" stop-color="#999999"/><stop offset="0.4" stop-color="#8c8c8c"/><stop offset="0.75" stop-color="#737373"/><stop offset="1" stop-color="#545454"/></linearGradient>
</defs>
<g filter="url(#jetc3)">
<g clip-path="url(#clc3top)">
<polygon points="1142.7,60.2 1190.9,41.4 1238.7,60.2 1190.9,87.9" fill="url(#grc3top)" stroke="url(#grc3top)" stroke-width="0.8"/>
<g filter="url(#blob)">
<ellipse cx="1203" cy="62" rx="20" ry="7" transform="rotate(20 1203 62)" fill="#b8b8b8" opacity="0.8"/>
<ellipse cx="1165" cy="64" rx="14" ry="6" transform="rotate(-20 1165 64)" fill="#adadad" opacity="0.7"/>
<ellipse cx="1188" cy="74" rx="10" ry="4" transform="rotate(0 1188 74)" fill="#808080" opacity="0.6"/>
</g>
</g>
<g clip-path="url(#clc3left)">
<polygon points="1142.7,60.2 1190.9,87.9 1190.9,143.0 1150.6,110.0" fill="url(#grc3left)" stroke="url(#grc3left)" stroke-width="0.8"/>
<g filter="url(#blob)">
<ellipse cx="1180" cy="92" rx="8" ry="12" transform="rotate(0 1180 92)" fill="#adadad" opacity="0.6"/>
</g>
</g>
<g clip-path="url(#clc3right)">
<polygon points="1190.9,87.9 1238.7,60.2 1231.8,110.0 1190.9,143.0" fill="url(#grc3right)" stroke="url(#grc3right)" stroke-width="0.8"/>
<g filter="url(#blob)">
<ellipse cx="1197" cy="100" rx="5" ry="14" transform="rotate(0 1197 100)" fill="#adadad" opacity="0.6"/>
<ellipse cx="1226" cy="95" rx="5" ry="12" transform="rotate(0 1226 95)" fill="#666666" opacity="0.5"/>
</g>
</g>
</g>
<path d="M1142.7 60.2 1190.9 41.4 1238.7 60.2 1231.8 110.0 1190.9 143.0 1150.6 110.0Z M1142.7 60.2 1190.9 87.9 1238.7 60.2 M1190.9 87.9 1190.9 143.0" fill="none" stroke="#7a7466" stroke-width="0.7" stroke-opacity="0.5"/>
<defs>
<filter id="jetd1" filterUnits="userSpaceOnUse" x="895" y="191" width="98" height="103" color-interpolation-filters="sRGB">
<feTurbulence type="fractalNoise" baseFrequency="0.85" numOctaves="2" seed="11" result="n"/>
<feColorMatrix in="n" type="matrix" values="1.8 0 0 0 -0.4  1.8 0 0 0 -0.4  1.8 0 0 0 -0.4  0 0 0 0 1" result="ng"/>
<feComposite in="SourceGraphic" in2="ng" operator="arithmetic" k1="0" k2="1" k3="0.5" k4="-0.25" result="mix"/>
<feComponentTransfer in="mix" result="col"><feFuncR type="table" tableValues="0.047 0.086 0.118 0.157 0.212 0.384 0.769 0.965 0.933"/><feFuncG type="table" tableValues="0.110 0.204 0.408 0.643 0.800 0.863 0.878 0.627 0.251"/><feFuncB type="table" tableValues="0.408 0.659 0.816 0.847 0.643 0.384 0.251 0.188 0.157"/></feComponentTransfer>
<feGaussianBlur in="col" stdDeviation="0.5" result="colb"/>
<feComposite in="colb" in2="SourceGraphic" operator="in"/>
</filter>
<clipPath id="cld1top"><polygon points="898.3,212.2 944.3,194.1 990.8,212.5 944.6,237.9"/></clipPath>
<linearGradient id="grd1top" gradientUnits="userSpaceOnUse" x1="898" y1="212" x2="991" y2="212"><stop offset="0" stop-color="#8f8f8f"/><stop offset="0.5" stop-color="#9e9e9e"/><stop offset="1" stop-color="#8f8f8f"/></linearGradient>
<clipPath id="cld1left"><polygon points="898.3,212.2 944.6,237.9 944.6,290.8 902.1,261.7"/></clipPath>
<linearGradient id="grd1left" gradientUnits="userSpaceOnUse" x1="920" y1="215" x2="920" y2="290"><stop offset="0" stop-color="#adadad"/><stop offset="0.35" stop-color="#949494"/><stop offset="0.7" stop-color="#6b6b6b"/><stop offset="1" stop-color="#424242"/></linearGradient>
<clipPath id="cld1right"><polygon points="944.6,237.9 990.8,212.5 987.2,259.7 944.6,290.8"/></clipPath>
<linearGradient id="grd1right" gradientUnits="userSpaceOnUse" x1="965" y1="215" x2="965" y2="290"><stop offset="0" stop-color="#a8a8a8"/><stop offset="0.35" stop-color="#8a8a8a"/><stop offset="0.7" stop-color="#616161"/><stop offset="1" stop-color="#383838"/></linearGradient>
</defs>
<g filter="url(#jetd1)">
<g clip-path="url(#cld1top)">
<polygon points="898.3,212.2 944.3,194.1 990.8,212.5 944.6,237.9" fill="url(#grd1top)" stroke="url(#grd1top)" stroke-width="0.8"/>
<g filter="url(#blob)">
<ellipse cx="935" cy="206" rx="22" ry="7" transform="rotate(10 935 206)" fill="#cccccc" opacity="0.9"/>
<ellipse cx="964" cy="223" rx="12" ry="6" transform="rotate(30 964 223)" fill="#c7c7c7" opacity="0.8"/>
<ellipse cx="957" cy="213" rx="17" ry="3.5" transform="rotate(-24 957 213)" fill="#575757" opacity="0.9"/>
<ellipse cx="907" cy="206" rx="8" ry="4" transform="rotate(-20 907 206)" fill="#4c4c4c" opacity="0.85"/>
<ellipse cx="917" cy="224" rx="12" ry="5" transform="rotate(25 917 224)" fill="#bdbdbd" opacity="0.7"/>
<ellipse cx="978" cy="210" rx="6" ry="3" transform="rotate(20 978 210)" fill="#595959" opacity="0.7"/>
</g>
</g>
<g clip-path="url(#cld1left)">
<polygon points="898.3,212.2 944.6,237.9 944.6,290.8 902.1,261.7" fill="url(#grd1left)" stroke="url(#grd1left)" stroke-width="0.8"/>
<g filter="url(#blob)">
<ellipse cx="917" cy="257" rx="4.5" ry="19" transform="rotate(-8 917 257)" fill="#1a1a1a" opacity="0.95"/>
<ellipse cx="930" cy="240" rx="5" ry="20" transform="rotate(-3 930 240)" fill="#bdbdbd" opacity="0.75"/>
<ellipse cx="940" cy="274" rx="4.5" ry="16" transform="rotate(0 940 274)" fill="#1f1f1f" opacity="0.9"/>
<ellipse cx="906" cy="232" rx="3.5" ry="14" transform="rotate(0 906 232)" fill="#b8b8b8" opacity="0.6"/>
<ellipse cx="908" cy="262" rx="3" ry="10" transform="rotate(-8 908 262)" fill="#333333" opacity="0.7"/>
</g>
</g>
<g clip-path="url(#cld1right)">
<polygon points="944.6,237.9 990.8,212.5 987.2,259.7 944.6,290.8" fill="url(#grd1right)" stroke="url(#grd1right)" stroke-width="0.8"/>
<g filter="url(#blob)">
<ellipse cx="955" cy="243" rx="7" ry="18" transform="rotate(8 955 243)" fill="#dbdbdb" opacity="0.9"/>
<ellipse cx="981" cy="248" rx="5" ry="22" transform="rotate(5 981 248)" fill="#0d0d0d" opacity="0.97"/>
<ellipse cx="966" cy="277" rx="11" ry="8" transform="rotate(0 966 277)" fill="#262626" opacity="0.85"/>
<ellipse cx="969" cy="240" rx="4" ry="16" transform="rotate(5 969 240)" fill="#808080" opacity="0.5"/>
</g>
</g>
</g>
<path d="M898.3 212.2 944.3 194.1 990.8 212.5 987.2 259.7 944.6 290.8 902.1 261.7Z M898.3 212.2 944.6 237.9 990.8 212.5 M944.6 237.9 944.6 290.8" fill="none" stroke="#7a7466" stroke-width="0.7" stroke-opacity="0.5"/>
<defs>
<filter id="jetd2" filterUnits="userSpaceOnUse" x="1017" y="187" width="100" height="105" color-interpolation-filters="sRGB">
<feTurbulence type="fractalNoise" baseFrequency="0.85" numOctaves="2" seed="17" result="n"/>
<feColorMatrix in="n" type="matrix" values="1.8 0 0 0 -0.4  1.8 0 0 0 -0.4  1.8 0 0 0 -0.4  0 0 0 0 1" result="ng"/>
<feComposite in="SourceGraphic" in2="ng" operator="arithmetic" k1="0" k2="1" k3="0.5" k4="-0.25" result="mix"/>
<feComponentTransfer in="mix" result="col"><feFuncR type="table" tableValues="0.047 0.086 0.118 0.157 0.212 0.384 0.769 0.965 0.933"/><feFuncG type="table" tableValues="0.110 0.204 0.408 0.643 0.800 0.863 0.878 0.627 0.251"/><feFuncB type="table" tableValues="0.408 0.659 0.816 0.847 0.643 0.384 0.251 0.188 0.157"/></feComponentTransfer>
<feGaussianBlur in="col" stdDeviation="0.5" result="colb"/>
<feComposite in="colb" in2="SourceGraphic" operator="in"/>
</filter>
<clipPath id="cld2top"><polygon points="1020.0,209.6 1066.3,190.3 1113.6,209.6 1066.3,235.6"/></clipPath>
<linearGradient id="grd2top" gradientUnits="userSpaceOnUse" x1="1020" y1="209" x2="1114" y2="209"><stop offset="0" stop-color="#7a7a7a"/><stop offset="0.5" stop-color="#949494"/><stop offset="1" stop-color="#7a7a7a"/></linearGradient>
<clipPath id="cld2left"><polygon points="1020.0,209.6 1066.3,235.6 1066.3,289.0 1025.8,258.6"/></clipPath>
<linearGradient id="grd2left" gradientUnits="userSpaceOnUse" x1="1040" y1="212" x2="1040" y2="288"><stop offset="0" stop-color="#949494"/><stop offset="0.5" stop-color="#858585"/><stop offset="1" stop-color="#525252"/></linearGradient>
<clipPath id="cld2right"><polygon points="1066.3,235.6 1113.6,209.6 1106.9,258.6 1066.3,289.0"/></clipPath>
<linearGradient id="grd2right" gradientUnits="userSpaceOnUse" x1="1090" y1="212" x2="1090" y2="288"><stop offset="0" stop-color="#999999"/><stop offset="0.5" stop-color="#808080"/><stop offset="1" stop-color="#4c4c4c"/></linearGradient>
</defs>
<g filter="url(#jetd2)">
<g clip-path="url(#cld2top)">
<polygon points="1020.0,209.6 1066.3,190.3 1113.6,209.6 1066.3,235.6" fill="url(#grd2top)" stroke="url(#grd2top)" stroke-width="0.8"/>
<g filter="url(#blob)">
<ellipse cx="1072" cy="210" rx="18" ry="6" transform="rotate(10 1072 210)" fill="#c7c7c7" opacity="0.85"/>
<ellipse cx="1040" cy="204" rx="12" ry="3.5" transform="rotate(-20 1040 204)" fill="#474747" opacity="0.9"/>
<ellipse cx="1093" cy="203" rx="10" ry="3.5" transform="rotate(20 1093 203)" fill="#474747" opacity="0.9"/>
<ellipse cx="1050" cy="222" rx="10" ry="4" transform="rotate(25 1050 222)" fill="#adadad" opacity="0.6"/>
<ellipse cx="1085" cy="222" rx="10" ry="3" transform="rotate(-22 1085 222)" fill="#5c5c5c" opacity="0.6"/>
</g>
</g>
<g clip-path="url(#cld2left)">
<polygon points="1020.0,209.6 1066.3,235.6 1066.3,289.0 1025.8,258.6" fill="url(#grd2left)" stroke="url(#grd2left)" stroke-width="0.8"/>
<g filter="url(#blob)">
<ellipse cx="1034" cy="245" rx="4.5" ry="24" transform="rotate(-5 1034 245)" fill="#1a1a1a" opacity="0.95"/>
<ellipse cx="1046" cy="250" rx="3.5" ry="24" transform="rotate(-2 1046 250)" fill="#b8b8b8" opacity="0.8"/>
<ellipse cx="1057" cy="262" rx="4" ry="24" transform="rotate(0 1057 262)" fill="#1f1f1f" opacity="0.9"/>
<ellipse cx="1026" cy="232" rx="2.5" ry="16" transform="rotate(0 1026 232)" fill="#9e9e9e" opacity="0.6"/>
</g>
</g>
<g clip-path="url(#cld2right)">
<polygon points="1066.3,235.6 1113.6,209.6 1106.9,258.6 1066.3,289.0" fill="url(#grd2right)" stroke="url(#grd2right)" stroke-width="0.8"/>
<g filter="url(#blob)">
<ellipse cx="1077" cy="242" rx="5.5" ry="22" transform="rotate(5 1077 242)" fill="#dbdbdb" opacity="0.9"/>
<ellipse cx="1096" cy="246" rx="4.5" ry="24" transform="rotate(5 1096 246)" fill="#141414" opacity="0.95"/>
<ellipse cx="1107" cy="232" rx="3" ry="18" transform="rotate(0 1107 232)" fill="#999999" opacity="0.6"/>
<ellipse cx="1086" cy="274" rx="7" ry="8" transform="rotate(0 1086 274)" fill="#333333" opacity="0.7"/>
</g>
</g>
</g>
<path d="M1020.0 209.6 1066.3 190.3 1113.6 209.6 1106.9 258.6 1066.3 289.0 1025.8 258.6Z M1020.0 209.6 1066.3 235.6 1113.6 209.6 M1066.3 235.6 1066.3 289.0" fill="none" stroke="#7a7466" stroke-width="0.7" stroke-opacity="0.5"/>
<defs>
<filter id="jetd3" filterUnits="userSpaceOnUse" x="1138" y="190" width="103" height="104" color-interpolation-filters="sRGB">
<feTurbulence type="fractalNoise" baseFrequency="0.8" numOctaves="2" seed="23" result="n"/>
<feColorMatrix in="n" type="matrix" values="1.8 0 0 0 -0.4  1.8 0 0 0 -0.4  1.8 0 0 0 -0.4  0 0 0 0 1" result="ng"/>
<feComposite in="SourceGraphic" in2="ng" operator="arithmetic" k1="0" k2="1" k3="0.4" k4="-0.2" result="mix"/>
<feComponentTransfer in="mix" result="col"><feFuncR type="table" tableValues="0.047 0.086 0.118 0.157 0.212 0.384 0.769 0.965 0.933"/><feFuncG type="table" tableValues="0.110 0.204 0.408 0.643 0.800 0.863 0.878 0.627 0.251"/><feFuncB type="table" tableValues="0.408 0.659 0.816 0.847 0.643 0.384 0.251 0.188 0.157"/></feComponentTransfer>
<feGaussianBlur in="col" stdDeviation="0.5" result="colb"/>
<feComposite in="colb" in2="SourceGraphic" operator="in"/>
</filter>
<clipPath id="cld3top"><polygon points="1140.7,211.3 1189.0,192.7 1238.0,211.3 1189.0,235.6"/></clipPath>
<linearGradient id="grd3top" gradientUnits="userSpaceOnUse" x1="1141" y1="211" x2="1238" y2="211"><stop offset="0" stop-color="#383838"/><stop offset="0.5" stop-color="#575757"/><stop offset="1" stop-color="#333333"/></linearGradient>
<clipPath id="cld3left"><polygon points="1140.7,211.3 1189.0,235.6 1189.0,290.7 1147.4,258.6"/></clipPath>
<linearGradient id="grd3left" gradientUnits="userSpaceOnUse" x1="1141" y1="240" x2="1189" y2="250"><stop offset="0" stop-color="#999999"/><stop offset="0.2" stop-color="#808080"/><stop offset="0.4" stop-color="#5c5c5c"/><stop offset="0.62" stop-color="#808080"/><stop offset="0.8" stop-color="#6b6b6b"/><stop offset="1" stop-color="#333333"/></linearGradient>
<clipPath id="cld3right"><polygon points="1189.0,235.6 1238.0,211.3 1231.3,262.0 1189.0,290.7"/></clipPath>
<linearGradient id="grd3right" gradientUnits="userSpaceOnUse" x1="1189" y1="240" x2="1238" y2="235"><stop offset="0" stop-color="#242424"/><stop offset="0.12" stop-color="#666666"/><stop offset="0.3" stop-color="#707070"/><stop offset="0.42" stop-color="#333333"/><stop offset="0.55" stop-color="#6b6b6b"/><stop offset="0.8" stop-color="#666666"/><stop offset="1" stop-color="#404040"/></linearGradient>
</defs>
<g filter="url(#jetd3)">
<g clip-path="url(#cld3top)">
<polygon points="1140.7,211.3 1189.0,192.7 1238.0,211.3 1189.0,235.6" fill="url(#grd3top)" stroke="url(#grd3top)" stroke-width="0.8"/>
<g filter="url(#blob)">
<ellipse cx="1178" cy="212" rx="14" ry="5" transform="rotate(-15 1178 212)" fill="#757575" opacity="0.85"/>
<ellipse cx="1203" cy="207" rx="9" ry="3.5" transform="rotate(15 1203 207)" fill="#707070" opacity="0.8"/>
<ellipse cx="1190" cy="200" rx="8" ry="3" transform="rotate(0 1190 200)" fill="#6b6b6b" opacity="0.7"/>
<ellipse cx="1158" cy="200" rx="11" ry="4" transform="rotate(-20 1158 200)" fill="#050505" opacity="0.95"/>
<ellipse cx="1213" cy="214" rx="11" ry="4.5" transform="rotate(20 1213 214)" fill="#0a0a0a" opacity="0.95"/>
<ellipse cx="1205" cy="199" rx="6" ry="2.5" transform="rotate(15 1205 199)" fill="#0d0d0d" opacity="0.8"/>
<ellipse cx="1188" cy="228" rx="12" ry="4" transform="rotate(0 1188 228)" fill="#141414" opacity="0.9"/>
<ellipse cx="1165" cy="222" rx="10" ry="3" transform="rotate(20 1165 222)" fill="#1a1a1a" opacity="0.8"/>
</g>
</g>
<g clip-path="url(#cld3left)">
<polygon points="1140.7,211.3 1189.0,235.6 1189.0,290.7 1147.4,258.6" fill="url(#grd3left)" stroke="url(#grd3left)" stroke-width="0.8"/>
<g filter="url(#blob)">
<ellipse cx="1150" cy="250" rx="3.5" ry="16" transform="rotate(-5 1150 250)" fill="#f7f7f7" opacity="0.95"/>
<ellipse cx="1173" cy="266" rx="3.5" ry="18" transform="rotate(-8 1173 266)" fill="#b2b2b2" opacity="0.9"/>
<ellipse cx="1160" cy="255" rx="3" ry="22" transform="rotate(-6 1160 255)" fill="#474747" opacity="0.8"/>
<ellipse cx="1185" cy="258" rx="2.5" ry="26" transform="rotate(0 1185 258)" fill="#1f1f1f" opacity="0.9"/>
<ellipse cx="1165" cy="228" rx="22" ry="5" transform="rotate(22 1165 228)" fill="#2e2e2e" opacity="0.85"/>
</g>
</g>
<g clip-path="url(#cld3right)">
<polygon points="1189.0,235.6 1238.0,211.3 1231.3,262.0 1189.0,290.7" fill="url(#grd3right)" stroke="url(#grd3right)" stroke-width="0.8"/>
<g filter="url(#blob)">
<ellipse cx="1213" cy="226" rx="24" ry="5" transform="rotate(-18 1213 226)" fill="#333333" opacity="0.7"/>
</g>
</g>
</g>
<path d="M1140.7 211.3 1189.0 192.7 1238.0 211.3 1231.3 262.0 1189.0 290.7 1147.4 258.6Z M1140.7 211.3 1189.0 235.6 1238.0 211.3 M1189.0 235.6 1189.0 290.7" fill="none" stroke="#8a8a96" stroke-width="0.7" stroke-opacity="0.5"/>
<rect x="1248.1" y="95.2" width="4.9" height="61" fill="url(#cbar)"/>
<text x="1247.2" y="90.6" font-size="14.3" textLength="29.5" lengthAdjust="spacing" fill="#1a1a1a">High</text>
<text x="1247.6" y="170.9" font-size="14.3" textLength="26.3" lengthAdjust="spacing" fill="#1a1a1a">Low</text>
<g stroke="#111" stroke-width="1.4" fill="#111"><path d="M1244 184.6 Q1248.5 182 1251.7 181.4 Q1255 182 1259.4 184.6" fill="none"/><line x1="1251.7" y1="181.4" x2="1251.7" y2="188"/><path d="M1238.2 186.5 L1244.9 180.4 L1246.6 186.7Z" stroke="none"/><path d="M1265.2 186.5 L1258.5 180.4 L1256.8 186.7Z" stroke="none"/><path d="M1251.7 194 L1248.6 186.3 L1254.8 186.3Z" stroke="none"/></g>
<text x="1233.0" y="197.8" font-size="14.3" font-style="italic" fill="#1a1a1a">x</text>
<text x="1247.3" y="204.7" font-size="14.3" font-style="italic" fill="#1a1a1a">z</text>
<text x="1260.8" y="197.8" font-size="14.3" font-style="italic" fill="#1a1a1a">y</text>
<text x="947.5" y="317.0" font-size="14.3" text-anchor="middle" letter-spacing="0.2" fill="#1a1a1a">NaCN<tspan dy="-5.6" font-size="9.6" letter-spacing="-0.3">−</tspan><tspan dy="5.6" font-size="1"> </tspan></text>
<text x="1068.0" y="314.3" font-size="14.3" text-anchor="middle" letter-spacing="0.2" fill="#1a1a1a">Na<tspan dy="3.5" font-size="9">3</tspan><tspan dy="-3.5" font-size="1">&#8203;</tspan>N<tspan dy="-5.6" font-size="9.6" letter-spacing="-0.3">−</tspan><tspan dy="5.6" font-size="1"> </tspan></text>
<text x="1191.4" y="317.0" font-size="14.3" text-anchor="middle" letter-spacing="0.2" fill="#1a1a1a">NaCl<tspan dy="-5.6" font-size="9.6" letter-spacing="-0.3">−</tspan><tspan dy="5.6" font-size="1"> </tspan></text>
</g>
<g id="pe">
<text x="12.3" y="382.3" font-size="19" font-weight="bold" fill="#000" stroke="#000" stroke-width="0.8">e</text>
<rect x="43.2" y="386" width="190.4" height="289" fill="#fbfbfb"/>
<path d="M152.6 456.7 L154.8 456.6 L157.1 456.2 L159.3 455.5 L161.6 454.5 L163.8 453.3 L166.1 451.9 L168.3 450.6 L170.6 449.6 L172.8 449.3 L175.0 449.6 L177.3 450.6 L179.5 452.0 L181.8 453.5 L184.0 454.9 L186.3 456.0 L188.5 456.9 L190.8 457.4 L193.0 457.7 L193.0 458.0 L188.5 458.0 L184.0 458.0 L179.5 457.9 L175.0 457.8 L170.6 457.7 L166.1 457.6 L161.6 457.5 L157.1 457.3 L152.6 457.0Z" fill="#a4a4a4" fill-opacity="0.8"/>
<path d="M109.9 454.6 L112.1 454.4 L114.4 454.1 L116.6 453.6 L118.9 452.9 L121.1 451.9 L123.4 450.6 L125.6 448.8 L127.9 446.7 L130.1 444.2 L132.3 441.6 L134.6 438.9 L136.8 436.5 L139.1 434.6 L141.3 433.3 L143.6 432.9 L145.8 433.4 L148.1 434.7 L150.3 436.8 L152.6 439.4 L154.8 442.3 L157.1 445.2 L159.3 448.0 L161.6 450.4 L163.8 452.5 L166.1 454.1 L168.3 455.3 L170.6 456.2 L172.8 456.9 L175.0 457.3 L177.3 457.6 L177.3 457.9 L172.8 457.8 L168.3 457.7 L163.8 457.6 L159.3 457.4 L154.8 457.2 L150.3 456.9 L145.8 456.5 L141.3 456.2 L136.8 455.8 L132.3 455.5 L127.9 455.3 L123.4 455.1 L118.9 455.0 L114.4 454.9 L109.9 454.8Z" fill="#7a4fae" fill-opacity="0.8"/>
<path d="M121.1 454.7 L123.4 454.5 L125.6 454.2 L127.9 453.7 L130.1 452.9 L132.3 451.8 L134.6 450.4 L136.8 448.6 L139.1 446.5 L141.3 444.1 L143.6 441.7 L145.8 439.5 L148.1 437.7 L150.3 436.5 L152.6 436.0 L154.8 436.4 L157.1 437.6 L159.3 439.5 L161.6 441.8 L163.8 444.5 L166.1 447.1 L168.3 449.6 L170.6 451.7 L172.8 453.5 L175.0 454.9 L177.3 456.0 L179.5 456.7 L181.8 457.2 L184.0 457.6 L185.2 458.0 L180.7 457.9 L176.2 457.9 L171.7 457.8 L167.2 457.7 L162.7 457.5 L158.2 457.3 L153.7 457.1 L149.2 456.8 L144.7 456.4 L140.2 456.1 L135.7 455.8 L131.2 455.5 L126.7 455.2 L122.2 455.1Z" fill="#3b84e2" fill-opacity="0.8"/>
<path d="M98.6 454.5 L100.9 454.3 L103.1 454.0 L105.4 453.5 L107.6 452.9 L109.9 451.9 L112.1 450.5 L114.4 448.8 L116.6 446.6 L118.9 443.9 L121.1 441.0 L123.4 437.9 L125.6 434.7 L127.9 431.9 L130.1 429.5 L132.3 427.9 L134.6 427.2 L136.8 427.6 L139.1 428.8 L141.3 431.0 L143.6 433.8 L145.8 437.1 L148.1 440.5 L150.3 443.8 L152.6 446.8 L154.8 449.5 L157.1 451.7 L159.3 453.5 L161.6 454.9 L163.8 455.9 L166.1 456.6 L168.3 457.0 L170.6 457.4 L171.7 457.8 L167.2 457.7 L162.7 457.5 L158.2 457.3 L153.7 457.1 L149.2 456.8 L144.7 456.4 L140.2 456.1 L135.7 455.8 L131.2 455.5 L126.7 455.2 L122.2 455.1 L117.7 454.9 L113.2 454.9 L108.7 454.8 L104.3 454.8 L99.8 454.7Z" fill="#e23a36" fill-opacity="0.8"/>
<g fill="none" stroke="#b9b9b9" stroke-width="0.6"><circle cx="43.6" cy="455.9" r="1.5"/><circle cx="45.8" cy="453.9" r="1.5"/><circle cx="48.1" cy="455.2" r="1.5"/><circle cx="50.3" cy="456.0" r="1.5"/><circle cx="52.6" cy="454.7" r="1.5"/><circle cx="54.8" cy="455.8" r="1.5"/><circle cx="57.1" cy="454.2" r="1.5"/><circle cx="59.3" cy="455.5" r="1.5"/><circle cx="61.6" cy="454.4" r="1.5"/><circle cx="63.8" cy="454.6" r="1.5"/><circle cx="66.0" cy="453.5" r="1.5"/><circle cx="68.3" cy="455.4" r="1.5"/><circle cx="70.5" cy="455.4" r="1.5"/><circle cx="72.8" cy="454.5" r="1.5"/><circle cx="75.0" cy="454.4" r="1.5"/><circle cx="77.3" cy="454.0" r="1.5"/><circle cx="79.5" cy="454.0" r="1.5"/><circle cx="81.8" cy="454.0" r="1.5"/><circle cx="84.0" cy="453.6" r="1.5"/><circle cx="86.3" cy="456.2" r="1.5"/><circle cx="88.5" cy="454.5" r="1.5"/><circle cx="90.8" cy="454.0" r="1.5"/><circle cx="93.0" cy="454.7" r="1.5"/><circle cx="95.3" cy="454.8" r="1.5"/><circle cx="97.5" cy="454.6" r="1.5"/><circle cx="99.8" cy="454.7" r="1.5"/><circle cx="102.0" cy="453.1" r="1.5"/><circle cx="104.3" cy="453.6" r="1.5"/><circle cx="106.5" cy="453.9" r="1.5"/><circle cx="108.7" cy="452.5" r="1.5"/><circle cx="111.0" cy="450.2" r="1.5"/><circle cx="113.2" cy="449.5" r="1.5"/><circle cx="115.5" cy="447.1" r="1.5"/><circle cx="117.7" cy="444.6" r="1.5"/><circle cx="120.0" cy="441.7" r="1.5"/><circle cx="122.2" cy="433.9" r="1.5"/><circle cx="124.5" cy="430.3" r="1.5"/><circle cx="126.7" cy="424.9" r="1.5"/><circle cx="129.0" cy="418.5" r="1.5"/><circle cx="131.2" cy="413.3" r="1.5"/><circle cx="133.5" cy="407.5" r="1.5"/><circle cx="135.7" cy="403.2" r="1.5"/><circle cx="138.0" cy="399.5" r="1.5"/><circle cx="140.2" cy="396.2" r="1.5"/><circle cx="142.5" cy="395.8" r="1.5"/><circle cx="144.7" cy="397.2" r="1.5"/><circle cx="147.0" cy="397.6" r="1.5"/><circle cx="149.2" cy="401.5" r="1.5"/><circle cx="151.4" cy="405.2" r="1.5"/><circle cx="153.7" cy="410.1" r="1.5"/><circle cx="155.9" cy="415.8" r="1.5"/><circle cx="158.2" cy="422.1" r="1.5"/><circle cx="160.4" cy="425.9" r="1.5"/><circle cx="162.7" cy="432.1" r="1.5"/><circle cx="164.9" cy="434.9" r="1.5"/><circle cx="167.2" cy="436.9" r="1.5"/><circle cx="169.4" cy="441.4" r="1.5"/><circle cx="171.7" cy="443.1" r="1.5"/><circle cx="173.9" cy="444.9" r="1.5"/><circle cx="176.2" cy="448.2" r="1.5"/><circle cx="178.4" cy="449.4" r="1.5"/><circle cx="180.7" cy="452.8" r="1.5"/><circle cx="182.9" cy="451.9" r="1.5"/><circle cx="185.2" cy="456.6" r="1.5"/><circle cx="187.4" cy="455.2" r="1.5"/><circle cx="189.7" cy="456.9" r="1.5"/><circle cx="191.9" cy="456.4" r="1.5"/><circle cx="194.2" cy="458.5" r="1.5"/><circle cx="196.4" cy="458.4" r="1.5"/><circle cx="198.6" cy="458.8" r="1.5"/><circle cx="200.9" cy="457.9" r="1.5"/><circle cx="203.1" cy="458.9" r="1.5"/><circle cx="205.4" cy="458.6" r="1.5"/><circle cx="207.6" cy="458.2" r="1.5"/><circle cx="209.9" cy="458.4" r="1.5"/><circle cx="212.1" cy="457.9" r="1.5"/><circle cx="214.4" cy="459.1" r="1.5"/><circle cx="216.6" cy="458.6" r="1.5"/><circle cx="218.9" cy="458.1" r="1.5"/><circle cx="221.1" cy="458.2" r="1.5"/><circle cx="223.4" cy="457.8" r="1.5"/><circle cx="225.6" cy="458.5" r="1.5"/><circle cx="227.9" cy="458.7" r="1.5"/><circle cx="230.1" cy="459.2" r="1.5"/><circle cx="232.4" cy="460.3" r="1.5"/></g>
<path d="M43.6 454.4 L44.7 454.4 L45.8 454.4 L46.9 454.4 L48.1 454.4 L49.2 454.4 L50.3 454.4 L51.4 454.4 L52.6 454.5 L53.7 454.5 L54.8 454.5 L55.9 454.5 L57.1 454.5 L58.2 454.5 L59.3 454.5 L60.4 454.5 L61.6 454.5 L62.7 454.5 L63.8 454.5 L64.9 454.5 L66.0 454.5 L67.2 454.5 L68.3 454.6 L69.4 454.6 L70.5 454.6 L71.7 454.6 L72.8 454.6 L73.9 454.6 L75.0 454.6 L76.2 454.6 L77.3 454.6 L78.4 454.6 L79.5 454.6 L80.7 454.6 L81.8 454.6 L82.9 454.6 L84.0 454.6 L85.2 454.7 L86.3 454.7 L87.4 454.7 L88.5 454.7 L89.6 454.7 L90.8 454.7 L91.9 454.7 L93.0 454.6 L94.1 454.6 L95.3 454.6 L96.4 454.6 L97.5 454.5 L98.6 454.5 L99.8 454.4 L100.9 454.3 L102.0 454.1 L103.1 454.0 L104.3 453.8 L105.4 453.5 L106.5 453.1 L107.6 452.7 L108.7 452.2 L109.9 451.6 L111.0 450.9 L112.1 450.0 L113.2 449.1 L114.4 447.9 L115.5 446.6 L116.6 445.2 L117.7 443.5 L118.9 441.7 L120.0 439.7 L121.1 437.6 L122.2 435.2 L123.4 432.7 L124.5 430.1 L125.6 427.4 L126.7 424.6 L127.9 421.7 L129.0 418.8 L130.1 415.9 L131.2 413.0 L132.3 410.3 L133.5 407.7 L134.6 405.2 L135.7 403.0 L136.8 401.0 L138.0 399.3 L139.1 397.9 L140.2 396.8 L141.3 396.1 L142.5 395.7 L143.6 395.7 L144.7 396.1 L145.8 396.8 L147.0 398.0 L148.1 399.4 L149.2 401.2 L150.3 403.2 L151.4 405.5 L152.6 408.0 L153.7 410.6 L154.8 413.4 L155.9 416.2 L157.1 419.0 L158.2 421.7 L159.3 424.4 L160.4 426.9 L161.6 429.2 L162.7 431.4 L163.8 433.4 L164.9 435.1 L166.1 436.7 L167.2 438.1 L168.3 439.4 L169.4 440.6 L170.6 441.7 L171.7 442.8 L172.8 443.9 L173.9 444.9 L175.0 446.0 L176.2 447.2 L177.3 448.3 L178.4 449.4 L179.5 450.6 L180.7 451.6 L181.8 452.6 L182.9 453.6 L184.0 454.4 L185.2 455.1 L186.3 455.8 L187.4 456.3 L188.5 456.7 L189.7 457.1 L190.8 457.3 L191.9 457.5 L193.0 457.7 L194.2 457.8 L195.3 457.9 L196.4 458.0 L197.5 458.0 L198.6 458.0 L199.8 458.1 L200.9 458.1 L202.0 458.1 L203.1 458.1 L204.3 458.1 L205.4 458.1 L206.5 458.1 L207.6 458.1 L208.8 458.1 L209.9 458.2 L211.0 458.2 L212.1 458.2 L213.3 458.2 L214.4 458.2 L215.5 458.2 L216.6 458.2 L217.7 458.2 L218.9 458.2 L220.0 458.2 L221.1 458.2 L222.2 458.2 L223.4 458.2 L224.5 458.2 L225.6 458.3 L226.7 458.3 L227.9 458.3 L229.0 458.3 L230.1 458.3 L231.2 458.3 L232.4 458.3 L233.5 458.3" fill="none" stroke="#3a3a3a" stroke-width="1.5" stroke-linejoin="round" stroke-linecap="round"/>
<path d="M153.7 551.4 L155.9 551.2 L158.2 550.8 L160.4 550.2 L162.7 549.2 L164.9 548.1 L167.2 547.0 L169.4 546.0 L171.7 545.5 L173.9 545.5 L176.2 546.1 L178.4 547.1 L180.7 548.3 L182.9 549.5 L185.2 550.5 L187.4 551.4 L189.7 551.9 L191.9 552.3 L193.0 552.7 L188.5 552.6 L184.0 552.6 L179.5 552.6 L175.0 552.5 L170.6 552.4 L166.1 552.3 L161.6 552.1 L157.1 551.9Z" fill="#a4a4a4" fill-opacity="0.8"/>
<path d="M109.9 549.4 L112.1 549.2 L114.4 548.9 L116.6 548.4 L118.9 547.8 L121.1 546.8 L123.4 545.4 L125.6 543.7 L127.9 541.6 L130.1 539.2 L132.3 536.7 L134.6 534.1 L136.8 531.7 L139.1 529.8 L141.3 528.5 L143.6 528.1 L145.8 528.6 L148.1 529.9 L150.3 531.9 L152.6 534.5 L154.8 537.3 L157.1 540.2 L159.3 542.9 L161.6 545.2 L163.8 547.2 L166.1 548.8 L168.3 550.0 L170.6 550.9 L172.8 551.5 L175.0 551.9 L177.3 552.2 L177.3 552.5 L172.8 552.4 L168.3 552.3 L163.8 552.2 L159.3 552.1 L154.8 551.8 L150.3 551.6 L145.8 551.2 L141.3 550.9 L136.8 550.6 L132.3 550.3 L127.9 550.1 L123.4 549.9 L118.9 549.8 L114.4 549.7 L109.9 549.6Z" fill="#7a4fae" fill-opacity="0.8"/>
<path d="M121.1 549.5 L123.4 549.3 L125.6 549.0 L127.9 548.5 L130.1 547.7 L132.3 546.6 L134.6 545.1 L136.8 543.3 L139.1 541.2 L141.3 538.8 L143.6 536.5 L145.8 534.2 L148.1 532.4 L150.3 531.2 L152.6 530.7 L154.8 531.1 L157.1 532.3 L159.3 534.2 L161.6 536.5 L163.8 539.1 L166.1 541.7 L168.3 544.2 L170.6 546.4 L172.8 548.1 L175.0 549.6 L177.3 550.6 L179.5 551.3 L181.8 551.8 L184.0 552.2 L185.2 552.6 L180.7 552.6 L176.2 552.5 L171.7 552.4 L167.2 552.3 L162.7 552.2 L158.2 552.0 L153.7 551.8 L149.2 551.5 L144.7 551.2 L140.2 550.8 L135.7 550.5 L131.2 550.2 L126.7 550.0 L122.2 549.8Z" fill="#3b84e2" fill-opacity="0.8"/>
<path d="M97.5 549.3 L99.8 549.1 L102.0 548.8 L104.3 548.4 L106.5 547.8 L108.7 546.9 L111.0 545.6 L113.2 544.0 L115.5 542.0 L117.7 539.6 L120.0 536.9 L122.2 533.9 L124.5 530.9 L126.7 528.1 L129.0 525.6 L131.2 523.8 L133.5 522.7 L135.7 522.5 L138.0 523.3 L140.2 524.9 L142.5 527.2 L144.7 530.1 L147.0 533.3 L149.2 536.5 L151.4 539.6 L153.7 542.4 L155.9 544.9 L158.2 546.9 L160.4 548.5 L162.7 549.7 L164.9 550.6 L167.2 551.3 L169.4 551.7 L171.7 552.0 L172.8 552.4 L168.3 552.3 L163.8 552.2 L159.3 552.1 L154.8 551.8 L150.3 551.6 L145.8 551.2 L141.3 550.9 L136.8 550.6 L132.3 550.3 L127.9 550.1 L123.4 549.9 L118.9 549.8 L114.4 549.7 L109.9 549.6 L105.4 549.6 L100.9 549.5Z" fill="#e23a36" fill-opacity="0.8"/>
<g fill="none" stroke="#b9b9b9" stroke-width="0.6"><circle cx="43.6" cy="548.8" r="1.5"/><circle cx="45.8" cy="547.3" r="1.5"/><circle cx="48.1" cy="547.6" r="1.5"/><circle cx="50.3" cy="549.7" r="1.5"/><circle cx="52.6" cy="548.3" r="1.5"/><circle cx="54.8" cy="549.8" r="1.5"/><circle cx="57.1" cy="549.3" r="1.5"/><circle cx="59.3" cy="549.8" r="1.5"/><circle cx="61.6" cy="549.3" r="1.5"/><circle cx="63.8" cy="548.6" r="1.5"/><circle cx="66.0" cy="548.5" r="1.5"/><circle cx="68.3" cy="549.6" r="1.5"/><circle cx="70.5" cy="549.1" r="1.5"/><circle cx="72.8" cy="548.8" r="1.5"/><circle cx="75.0" cy="548.1" r="1.5"/><circle cx="77.3" cy="549.2" r="1.5"/><circle cx="79.5" cy="547.2" r="1.5"/><circle cx="81.8" cy="549.8" r="1.5"/><circle cx="84.0" cy="549.9" r="1.5"/><circle cx="86.3" cy="549.4" r="1.5"/><circle cx="88.5" cy="549.2" r="1.5"/><circle cx="90.8" cy="547.8" r="1.5"/><circle cx="93.0" cy="550.7" r="1.5"/><circle cx="95.3" cy="549.9" r="1.5"/><circle cx="97.5" cy="548.5" r="1.5"/><circle cx="99.8" cy="550.0" r="1.5"/><circle cx="102.0" cy="548.5" r="1.5"/><circle cx="104.3" cy="548.7" r="1.5"/><circle cx="106.5" cy="547.1" r="1.5"/><circle cx="108.7" cy="546.9" r="1.5"/><circle cx="111.0" cy="544.9" r="1.5"/><circle cx="113.2" cy="543.4" r="1.5"/><circle cx="115.5" cy="539.1" r="1.5"/><circle cx="117.7" cy="537.3" r="1.5"/><circle cx="120.0" cy="534.6" r="1.5"/><circle cx="122.2" cy="529.2" r="1.5"/><circle cx="124.5" cy="524.5" r="1.5"/><circle cx="126.7" cy="518.6" r="1.5"/><circle cx="129.0" cy="511.6" r="1.5"/><circle cx="131.2" cy="509.1" r="1.5"/><circle cx="133.5" cy="503.1" r="1.5"/><circle cx="135.7" cy="499.4" r="1.5"/><circle cx="138.0" cy="494.5" r="1.5"/><circle cx="140.2" cy="493.5" r="1.5"/><circle cx="142.5" cy="490.7" r="1.5"/><circle cx="144.7" cy="491.6" r="1.5"/><circle cx="147.0" cy="493.1" r="1.5"/><circle cx="149.2" cy="494.4" r="1.5"/><circle cx="151.4" cy="500.5" r="1.5"/><circle cx="153.7" cy="506.3" r="1.5"/><circle cx="155.9" cy="511.8" r="1.5"/><circle cx="158.2" cy="515.4" r="1.5"/><circle cx="160.4" cy="521.5" r="1.5"/><circle cx="162.7" cy="528.2" r="1.5"/><circle cx="164.9" cy="529.9" r="1.5"/><circle cx="167.2" cy="533.5" r="1.5"/><circle cx="169.4" cy="535.7" r="1.5"/><circle cx="171.7" cy="538.6" r="1.5"/><circle cx="173.9" cy="540.4" r="1.5"/><circle cx="176.2" cy="545.5" r="1.5"/><circle cx="178.4" cy="544.3" r="1.5"/><circle cx="180.7" cy="546.9" r="1.5"/><circle cx="182.9" cy="549.6" r="1.5"/><circle cx="185.2" cy="550.9" r="1.5"/><circle cx="187.4" cy="552.2" r="1.5"/><circle cx="189.7" cy="551.7" r="1.5"/><circle cx="191.9" cy="551.3" r="1.5"/><circle cx="194.2" cy="552.3" r="1.5"/><circle cx="196.4" cy="551.3" r="1.5"/><circle cx="198.6" cy="553.1" r="1.5"/><circle cx="200.9" cy="551.4" r="1.5"/><circle cx="203.1" cy="551.3" r="1.5"/><circle cx="205.4" cy="555.7" r="1.5"/><circle cx="207.6" cy="554.4" r="1.5"/><circle cx="209.9" cy="553.4" r="1.5"/><circle cx="212.1" cy="553.3" r="1.5"/><circle cx="214.4" cy="552.6" r="1.5"/><circle cx="216.6" cy="553.4" r="1.5"/><circle cx="218.9" cy="553.8" r="1.5"/><circle cx="221.1" cy="554.4" r="1.5"/><circle cx="223.4" cy="551.7" r="1.5"/><circle cx="225.6" cy="552.4" r="1.5"/><circle cx="227.9" cy="553.0" r="1.5"/><circle cx="230.1" cy="553.1" r="1.5"/><circle cx="232.4" cy="556.6" r="1.5"/></g>
<path d="M43.6 549.2 L44.7 549.2 L45.8 549.2 L46.9 549.2 L48.1 549.2 L49.2 549.2 L50.3 549.2 L51.4 549.2 L52.6 549.3 L53.7 549.3 L54.8 549.3 L55.9 549.3 L57.1 549.3 L58.2 549.3 L59.3 549.3 L60.4 549.3 L61.6 549.3 L62.7 549.3 L63.8 549.3 L64.9 549.3 L66.0 549.3 L67.2 549.3 L68.3 549.3 L69.4 549.4 L70.5 549.4 L71.7 549.4 L72.8 549.4 L73.9 549.4 L75.0 549.4 L76.2 549.4 L77.3 549.4 L78.4 549.4 L79.5 549.4 L80.7 549.4 L81.8 549.4 L82.9 549.4 L84.0 549.4 L85.2 549.4 L86.3 549.4 L87.4 549.4 L88.5 549.4 L89.6 549.4 L90.8 549.4 L91.9 549.4 L93.0 549.4 L94.1 549.4 L95.3 549.4 L96.4 549.3 L97.5 549.3 L98.6 549.2 L99.8 549.1 L100.9 549.0 L102.0 548.8 L103.1 548.6 L104.3 548.3 L105.4 548.0 L106.5 547.6 L107.6 547.2 L108.7 546.7 L109.9 546.0 L111.0 545.3 L112.1 544.4 L113.2 543.4 L114.4 542.2 L115.5 541.0 L116.6 539.5 L117.7 537.9 L118.9 536.1 L120.0 534.2 L121.1 532.1 L122.2 529.8 L123.4 527.4 L124.5 524.9 L125.6 522.3 L126.7 519.5 L127.9 516.8 L129.0 514.0 L130.1 511.2 L131.2 508.4 L132.3 505.8 L133.5 503.2 L134.6 500.8 L135.7 498.6 L136.8 496.6 L138.0 494.9 L139.1 493.4 L140.2 492.3 L141.3 491.5 L142.5 491.1 L143.6 491.0 L144.7 491.3 L145.8 491.9 L147.0 493.0 L148.1 494.3 L149.2 496.0 L150.3 498.0 L151.4 500.2 L152.6 502.6 L153.7 505.2 L154.8 508.0 L155.9 510.8 L157.1 513.6 L158.2 516.4 L159.3 519.2 L160.4 521.8 L161.6 524.2 L162.7 526.5 L163.8 528.6 L164.9 530.5 L166.1 532.3 L167.2 533.8 L168.3 535.2 L169.4 536.5 L170.6 537.7 L171.7 538.9 L172.8 540.0 L173.9 541.0 L175.0 542.1 L176.2 543.2 L177.3 544.2 L178.4 545.2 L179.5 546.2 L180.7 547.2 L181.8 548.0 L182.9 548.8 L184.0 549.6 L185.2 550.2 L186.3 550.7 L187.4 551.2 L188.5 551.5 L189.7 551.8 L190.8 552.1 L191.9 552.2 L193.0 552.4 L194.2 552.5 L195.3 552.5 L196.4 552.6 L197.5 552.6 L198.6 552.7 L199.8 552.7 L200.9 552.7 L202.0 552.7 L203.1 552.7 L204.3 552.7 L205.4 552.7 L206.5 552.7 L207.6 552.7 L208.8 552.8 L209.9 552.8 L211.0 552.8 L212.1 552.8 L213.3 552.8 L214.4 552.8 L215.5 552.8 L216.6 552.8 L217.7 552.8 L218.9 552.8 L220.0 552.8 L221.1 552.8 L222.2 552.8 L223.4 552.8 L224.5 552.8 L225.6 552.9 L226.7 552.9 L227.9 552.9 L229.0 552.9 L230.1 552.9 L231.2 552.9 L232.4 552.9 L233.5 552.9" fill="none" stroke="#3a3a3a" stroke-width="1.5" stroke-linejoin="round" stroke-linecap="round"/>
<path d="M118.9 660.2 L121.1 659.8 L123.4 659.1 L125.6 657.8 L127.9 655.8 L130.1 652.7 L132.3 648.6 L134.6 643.7 L136.8 638.6 L139.1 633.9 L141.3 630.5 L143.6 629.2 L145.8 630.2 L148.1 633.5 L150.3 638.3 L152.6 643.8 L154.8 649.2 L157.1 653.8 L159.3 657.5 L161.6 660.1 L163.8 661.7 L166.1 662.7 L168.3 663.3 L169.4 663.7 L164.9 663.7 L160.4 663.5 L155.9 663.3 L151.4 663.0 L147.0 662.5 L142.5 662.1 L138.0 661.6 L133.5 661.2 L129.0 660.9 L124.5 660.7 L120.0 660.5Z" fill="#7a4fae" fill-opacity="0.8"/>
<path d="M126.7 660.5 L129.0 660.3 L131.2 659.8 L133.5 658.9 L135.7 657.4 L138.0 655.1 L140.2 651.9 L142.5 648.0 L144.7 643.7 L147.0 639.5 L149.2 636.2 L151.4 634.3 L153.7 634.3 L155.9 636.2 L158.2 639.7 L160.4 644.1 L162.7 648.7 L164.9 653.1 L167.2 656.6 L169.4 659.3 L171.7 661.2 L173.9 662.4 L176.2 663.1 L178.4 663.5 L178.4 663.8 L173.9 663.8 L169.4 663.7 L164.9 663.7 L160.4 663.5 L155.9 663.3 L151.4 663.0 L147.0 662.5 L142.5 662.1 L138.0 661.6 L133.5 661.2 L129.0 660.9Z" fill="#3b84e2" fill-opacity="0.8"/>
<path d="M102.0 660.0 L104.3 659.7 L106.5 659.3 L108.7 658.6 L111.0 657.5 L113.2 656.0 L115.5 653.8 L117.7 651.1 L120.0 647.7 L122.2 643.8 L124.5 639.7 L126.7 635.6 L129.0 631.9 L131.2 629.2 L133.5 627.6 L135.7 627.4 L138.0 628.7 L140.2 631.4 L142.5 635.0 L144.7 639.3 L147.0 643.8 L149.2 648.1 L151.4 652.0 L153.7 655.3 L155.9 657.9 L158.2 659.9 L160.4 661.3 L162.7 662.3 L164.9 662.9 L167.2 663.3 L168.3 663.7 L163.8 663.6 L159.3 663.5 L154.8 663.2 L150.3 662.9 L145.8 662.4 L141.3 661.9 L136.8 661.5 L132.3 661.1 L127.9 660.8 L123.4 660.6 L118.9 660.5 L114.4 660.4 L109.9 660.4 L105.4 660.3Z" fill="#e23a36" fill-opacity="0.8"/>
<g fill="none" stroke="#b9b9b9" stroke-width="0.6"><circle cx="43.6" cy="661.5" r="1.5"/><circle cx="45.8" cy="660.0" r="1.5"/><circle cx="48.1" cy="659.7" r="1.5"/><circle cx="50.3" cy="659.9" r="1.5"/><circle cx="52.6" cy="659.9" r="1.5"/><circle cx="54.8" cy="658.8" r="1.5"/><circle cx="57.1" cy="660.8" r="1.5"/><circle cx="59.3" cy="660.1" r="1.5"/><circle cx="61.6" cy="659.5" r="1.5"/><circle cx="63.8" cy="660.9" r="1.5"/><circle cx="66.0" cy="659.0" r="1.5"/><circle cx="68.3" cy="661.4" r="1.5"/><circle cx="70.5" cy="659.2" r="1.5"/><circle cx="72.8" cy="660.7" r="1.5"/><circle cx="75.0" cy="659.4" r="1.5"/><circle cx="77.3" cy="660.8" r="1.5"/><circle cx="79.5" cy="659.0" r="1.5"/><circle cx="81.8" cy="659.4" r="1.5"/><circle cx="84.0" cy="659.3" r="1.5"/><circle cx="86.3" cy="661.2" r="1.5"/><circle cx="88.5" cy="658.7" r="1.5"/><circle cx="90.8" cy="659.9" r="1.5"/><circle cx="93.0" cy="659.7" r="1.5"/><circle cx="95.3" cy="659.4" r="1.5"/><circle cx="97.5" cy="658.2" r="1.5"/><circle cx="99.8" cy="661.0" r="1.5"/><circle cx="102.0" cy="661.0" r="1.5"/><circle cx="104.3" cy="661.1" r="1.5"/><circle cx="106.5" cy="660.0" r="1.5"/><circle cx="108.7" cy="658.0" r="1.5"/><circle cx="111.0" cy="658.4" r="1.5"/><circle cx="113.2" cy="655.7" r="1.5"/><circle cx="115.5" cy="653.1" r="1.5"/><circle cx="117.7" cy="651.0" r="1.5"/><circle cx="120.0" cy="647.5" r="1.5"/><circle cx="122.2" cy="641.8" r="1.5"/><circle cx="124.5" cy="637.3" r="1.5"/><circle cx="126.7" cy="631.8" r="1.5"/><circle cx="129.0" cy="625.4" r="1.5"/><circle cx="131.2" cy="616.4" r="1.5"/><circle cx="133.5" cy="609.1" r="1.5"/><circle cx="135.7" cy="603.7" r="1.5"/><circle cx="138.0" cy="596.9" r="1.5"/><circle cx="140.2" cy="591.6" r="1.5"/><circle cx="142.5" cy="585.8" r="1.5"/><circle cx="144.7" cy="587.3" r="1.5"/><circle cx="147.0" cy="589.0" r="1.5"/><circle cx="149.2" cy="594.0" r="1.5"/><circle cx="151.4" cy="602.0" r="1.5"/><circle cx="153.7" cy="609.6" r="1.5"/><circle cx="155.9" cy="619.9" r="1.5"/><circle cx="158.2" cy="628.4" r="1.5"/><circle cx="160.4" cy="638.3" r="1.5"/><circle cx="162.7" cy="644.3" r="1.5"/><circle cx="164.9" cy="651.5" r="1.5"/><circle cx="167.2" cy="655.1" r="1.5"/><circle cx="169.4" cy="658.4" r="1.5"/><circle cx="171.7" cy="660.3" r="1.5"/><circle cx="173.9" cy="663.1" r="1.5"/><circle cx="176.2" cy="662.3" r="1.5"/><circle cx="178.4" cy="662.9" r="1.5"/><circle cx="180.7" cy="663.0" r="1.5"/><circle cx="182.9" cy="664.0" r="1.5"/><circle cx="185.2" cy="663.8" r="1.5"/><circle cx="187.4" cy="663.3" r="1.5"/><circle cx="189.7" cy="663.7" r="1.5"/><circle cx="191.9" cy="664.6" r="1.5"/><circle cx="194.2" cy="664.4" r="1.5"/><circle cx="196.4" cy="663.5" r="1.5"/><circle cx="198.6" cy="663.5" r="1.5"/><circle cx="200.9" cy="663.2" r="1.5"/><circle cx="203.1" cy="664.1" r="1.5"/><circle cx="205.4" cy="663.4" r="1.5"/><circle cx="207.6" cy="664.4" r="1.5"/><circle cx="209.9" cy="664.8" r="1.5"/><circle cx="212.1" cy="663.3" r="1.5"/><circle cx="214.4" cy="663.0" r="1.5"/><circle cx="216.6" cy="664.1" r="1.5"/><circle cx="218.9" cy="663.4" r="1.5"/><circle cx="221.1" cy="664.0" r="1.5"/><circle cx="223.4" cy="663.4" r="1.5"/><circle cx="225.6" cy="663.9" r="1.5"/><circle cx="227.9" cy="666.6" r="1.5"/><circle cx="230.1" cy="662.8" r="1.5"/><circle cx="232.4" cy="663.2" r="1.5"/></g>
<path d="M43.6 659.9 L44.7 659.9 L45.8 659.9 L46.9 659.9 L48.1 659.9 L49.2 659.9 L50.3 659.9 L51.4 660.0 L52.6 660.0 L53.7 660.0 L54.8 660.0 L55.9 660.0 L57.1 660.0 L58.2 660.0 L59.3 660.0 L60.4 660.0 L61.6 660.0 L62.7 660.0 L63.8 660.0 L64.9 660.0 L66.0 660.1 L67.2 660.1 L68.3 660.1 L69.4 660.1 L70.5 660.1 L71.7 660.1 L72.8 660.1 L73.9 660.1 L75.0 660.1 L76.2 660.1 L77.3 660.1 L78.4 660.1 L79.5 660.1 L80.7 660.2 L81.8 660.2 L82.9 660.2 L84.0 660.2 L85.2 660.2 L86.3 660.2 L87.4 660.2 L88.5 660.2 L89.6 660.2 L90.8 660.2 L91.9 660.2 L93.0 660.2 L94.1 660.2 L95.3 660.2 L96.4 660.2 L97.5 660.2 L98.6 660.2 L99.8 660.1 L100.9 660.1 L102.0 660.0 L103.1 659.9 L104.3 659.7 L105.4 659.5 L106.5 659.3 L107.6 659.0 L108.7 658.6 L109.9 658.1 L111.0 657.5 L112.1 656.8 L113.2 655.9 L114.4 654.9 L115.5 653.7 L116.6 652.4 L117.7 650.8 L118.9 649.1 L120.0 647.2 L121.1 645.0 L122.2 642.7 L123.4 640.1 L124.5 637.4 L125.6 634.5 L126.7 631.4 L127.9 628.2 L129.0 624.8 L130.1 621.3 L131.2 617.7 L132.3 614.0 L133.5 610.4 L134.6 606.7 L135.7 603.2 L136.8 599.8 L138.0 596.7 L139.1 594.0 L140.2 591.6 L141.3 589.8 L142.5 588.5 L143.6 587.8 L144.7 587.8 L145.8 588.5 L147.0 589.8 L148.1 591.9 L149.2 594.5 L150.3 597.7 L151.4 601.4 L152.6 605.5 L153.7 609.9 L154.8 614.5 L155.9 619.2 L157.1 623.9 L158.2 628.5 L159.3 633.0 L160.4 637.2 L161.6 641.2 L162.7 644.8 L163.8 648.0 L164.9 650.9 L166.1 653.4 L167.2 655.5 L168.3 657.3 L169.4 658.8 L170.6 660.0 L171.7 661.0 L172.8 661.7 L173.9 662.3 L175.0 662.7 L176.2 663.1 L177.3 663.3 L178.4 663.5 L179.5 663.6 L180.7 663.7 L181.8 663.7 L182.9 663.8 L184.0 663.8 L185.2 663.8 L186.3 663.9 L187.4 663.9 L188.5 663.9 L189.7 663.9 L190.8 663.9 L191.9 663.9 L193.0 663.9 L194.2 663.9 L195.3 663.9 L196.4 663.9 L197.5 664.0 L198.6 664.0 L199.8 664.0 L200.9 664.0 L202.0 664.0 L203.1 664.0 L204.3 664.0 L205.4 664.0 L206.5 664.0 L207.6 664.0 L208.8 664.0 L209.9 664.0 L211.0 664.0 L212.1 664.1 L213.3 664.1 L214.4 664.1 L215.5 664.1 L216.6 664.1 L217.7 664.1 L218.9 664.1 L220.0 664.1 L221.1 664.1 L222.2 664.1 L223.4 664.1 L224.5 664.1 L225.6 664.1 L226.7 664.2 L227.9 664.2 L229.0 664.2 L230.1 664.2 L231.2 664.2 L232.4 664.2 L233.5 664.2" fill="none" stroke="#3a3a3a" stroke-width="1.5" stroke-linejoin="round" stroke-linecap="round"/>
<line x1="135.3" y1="428.0" x2="135.3" y2="661.0" stroke="#111" stroke-width="1.1" stroke-dasharray="3.6 2.4"/>
<line x1="143.9" y1="428.0" x2="143.9" y2="661.0" stroke="#111" stroke-width="1.1" stroke-dasharray="3.6 2.4"/>
<line x1="153.1" y1="428.0" x2="153.1" y2="661.0" stroke="#111" stroke-width="1.1" stroke-dasharray="3.6 2.4"/>
<line x1="173.0" y1="449.0" x2="173.0" y2="547.0" stroke="#111" stroke-width="1.1" stroke-dasharray="3.6 2.4"/>
<line x1="43.50" y1="675.50" x2="233.60" y2="675.50" stroke="#8a8a8a" stroke-width="1.1"/>
<line x1="69.55" y1="675.50" x2="69.55" y2="680.00" stroke="#555" stroke-width="1"/>
<line x1="132.60" y1="675.50" x2="132.60" y2="680.00" stroke="#555" stroke-width="1"/>
<line x1="195.65" y1="675.50" x2="195.65" y2="680.00" stroke="#555" stroke-width="1"/>
<line x1="101.07" y1="675.50" x2="101.07" y2="678.30" stroke="#555" stroke-width="1"/>
<line x1="164.12" y1="675.50" x2="164.12" y2="678.30" stroke="#555" stroke-width="1"/>
<line x1="227.17" y1="675.50" x2="227.17" y2="678.30" stroke="#555" stroke-width="1"/>
<text x="69.5" y="697.4" font-size="14.3" text-anchor="middle" fill="#1a1a1a">405</text>
<text x="132.6" y="697.4" font-size="14.3" text-anchor="middle" fill="#1a1a1a">400</text>
<text x="195.6" y="697.4" font-size="14.3" text-anchor="middle" fill="#1a1a1a">395</text>
<text x="138.4" y="720.7" font-size="14.3" text-anchor="middle" textLength="126.0" lengthAdjust="spacing" fill="#1a1a1a">Binding energy (eV)</text>
<text x="234.0" y="382.3" font-size="14.3" text-anchor="end" textLength="30.0" lengthAdjust="spacing" fill="#1a1a1a">N 1s</text>
<text x="44.5" y="447.8" font-size="14.3" textLength="40.0" lengthAdjust="spacing" fill="#1a1a1a">80 nm</text>
<text x="44.5" y="543.8" font-size="14.3" textLength="40.0" lengthAdjust="spacing" fill="#1a1a1a">40 nm</text>
<text x="44.5" y="654.0" font-size="14.3" textLength="32.0" lengthAdjust="spacing" fill="#1a1a1a">0 nm</text>
<text x="64.0" y="408.0" font-size="14.3" textLength="63.0" lengthAdjust="spacing" fill="#1a1a1a">C–N/C=N</text>
<text x="83.2" y="425.1" font-size="14.3" textLength="29.0" lengthAdjust="spacing" fill="#1a1a1a">C≡N</text>
<text x="170.3" y="413.1" font-size="14.3" letter-spacing="0.2" fill="#1a1a1a">Na<tspan dy="3.5" font-size="9">3</tspan><tspan dy="-3.5" font-size="1">&#8203;</tspan>N</text>
<text x="181.6" y="436.0" font-size="14.3" letter-spacing="0.2" fill="#1a1a1a">Na<tspan dy="3.5" font-size="9"><tspan font-style="italic">x</tspan></tspan><tspan dy="-3.5" font-size="1">&#8203;</tspan>N<tspan dy="3.5" font-size="9"><tspan font-style="italic">y</tspan></tspan><tspan dy="-3.5" font-size="1">&#8203;</tspan></text>
<line x1="119.90" y1="414.80" x2="145.60" y2="433.70" stroke="#111" stroke-width="1.1"/>
<line x1="112.40" y1="425.10" x2="131.90" y2="436.00" stroke="#111" stroke-width="1.1"/>
<line x1="175.70" y1="421.00" x2="151.80" y2="435.40" stroke="#111" stroke-width="1.1"/>
<line x1="185.00" y1="443.20" x2="173.00" y2="449.00" stroke="#111" stroke-width="1.1"/>
<rect x="257" y="386" width="189.6" height="289" fill="#fbfbfb"/>
<path d="M354.6 462.6 L356.9 462.7 L359.1 462.7 L361.3 462.5 L363.6 462.1 L365.8 461.5 L368.1 460.6 L370.3 459.5 L372.6 458.1 L374.8 456.6 L377.0 455.1 L379.3 453.7 L381.5 452.6 L383.8 452.0 L386.0 452.0 L388.3 452.6 L390.5 453.7 L392.7 455.2 L395.0 457.0 L397.2 458.8 L399.5 460.7 L401.7 462.3 L403.9 463.7 L406.2 464.8 L408.4 465.7 L410.7 466.3 L412.9 466.8 L415.2 467.1 L416.3 467.5 L411.8 467.4 L407.3 467.3 L402.8 467.2 L398.3 467.1 L393.9 466.9 L389.4 466.7 L384.9 466.4 L380.4 466.1 L375.9 465.6 L371.4 465.1 L367.0 464.5 L362.5 463.9 L358.0 463.3Z" fill="#a4a4a4" fill-opacity="0.8"/>
<path d="M282.9 457.2 L285.1 457.0 L287.4 456.8 L289.6 456.5 L291.8 456.0 L294.1 455.3 L296.3 454.4 L298.6 453.3 L300.8 451.8 L303.1 450.0 L305.3 447.8 L307.5 445.3 L309.8 442.6 L312.0 439.7 L314.3 436.7 L316.5 433.7 L318.7 431.1 L321.0 428.8 L323.2 427.0 L325.5 426.0 L327.7 425.7 L330.0 426.2 L332.2 427.4 L334.4 429.4 L336.7 432.0 L338.9 435.0 L341.2 438.3 L343.4 441.7 L345.7 445.1 L347.9 448.3 L350.1 451.2 L352.4 453.8 L354.6 456.1 L356.9 458.1 L359.1 459.7 L361.3 461.1 L363.6 462.2 L365.8 463.0 L368.1 463.8 L370.3 464.4 L372.6 464.9 L373.7 465.4 L369.2 464.8 L364.7 464.2 L360.2 463.6 L355.7 463.0 L351.3 462.5 L346.8 462.0 L342.3 461.4 L337.8 460.9 L333.3 460.3 L328.8 459.8 L324.4 459.3 L319.9 458.9 L315.4 458.5 L310.9 458.3 L306.4 458.0 L301.9 457.9 L297.4 457.8 L293.0 457.6 L288.5 457.6 L284.0 457.5Z" fill="#7a4fae" fill-opacity="0.8"/>
<path d="M335.6 460.3 L337.8 460.3 L340.0 460.0 L342.3 459.5 L344.5 458.4 L346.8 456.6 L349.0 454.0 L351.3 450.4 L353.5 445.8 L355.7 440.4 L358.0 434.4 L360.2 428.4 L362.5 423.0 L364.7 418.9 L367.0 416.5 L369.2 416.4 L371.4 418.5 L373.7 422.5 L375.9 428.0 L378.2 434.4 L380.4 440.9 L382.6 447.1 L384.9 452.5 L387.1 456.9 L389.4 460.3 L391.6 462.8 L393.9 464.5 L396.1 465.6 L398.3 466.3 L400.6 466.7 L401.7 467.2 L397.2 467.0 L392.7 466.9 L388.3 466.6 L383.8 466.3 L379.3 466.0 L374.8 465.5 L370.3 464.9 L365.8 464.3 L361.3 463.7 L356.9 463.2 L352.4 462.6 L347.9 462.1 L343.4 461.6 L338.9 461.0Z" fill="#3b84e2" fill-opacity="0.8"/>
<path d="M303.1 457.6 L305.3 457.5 L307.5 457.4 L309.8 457.1 L312.0 456.6 L314.3 456.0 L316.5 455.0 L318.7 453.8 L321.0 452.2 L323.2 450.2 L325.5 447.8 L327.7 445.1 L330.0 442.2 L332.2 439.1 L334.4 436.1 L336.7 433.3 L338.9 431.0 L341.2 429.3 L343.4 428.4 L345.7 428.4 L347.9 429.2 L350.1 430.9 L352.4 433.3 L354.6 436.3 L356.9 439.7 L359.1 443.3 L361.3 446.9 L363.6 450.3 L365.8 453.5 L368.1 456.3 L370.3 458.7 L372.6 460.6 L374.8 462.2 L377.0 463.5 L379.3 464.4 L381.5 465.2 L383.8 465.7 L386.0 466.1 L387.1 466.6 L382.6 466.3 L378.2 465.9 L373.7 465.4 L369.2 464.8 L364.7 464.2 L360.2 463.6 L355.7 463.0 L351.3 462.5 L346.8 462.0 L342.3 461.4 L337.8 460.9 L333.3 460.3 L328.8 459.8 L324.4 459.3 L319.9 458.9 L315.4 458.5 L310.9 458.3 L306.4 458.0Z" fill="#e23a36" fill-opacity="0.8"/>
<g fill="none" stroke="#b9b9b9" stroke-width="0.6"><circle cx="257.1" cy="457.0" r="1.5"/><circle cx="259.3" cy="456.1" r="1.5"/><circle cx="261.6" cy="456.7" r="1.5"/><circle cx="263.8" cy="456.5" r="1.5"/><circle cx="266.1" cy="457.5" r="1.5"/><circle cx="268.3" cy="457.7" r="1.5"/><circle cx="270.5" cy="457.6" r="1.5"/><circle cx="272.8" cy="456.2" r="1.5"/><circle cx="275.0" cy="456.7" r="1.5"/><circle cx="277.3" cy="457.9" r="1.5"/><circle cx="279.5" cy="456.4" r="1.5"/><circle cx="281.8" cy="457.3" r="1.5"/><circle cx="284.0" cy="459.1" r="1.5"/><circle cx="286.2" cy="458.4" r="1.5"/><circle cx="288.5" cy="458.1" r="1.5"/><circle cx="290.7" cy="455.7" r="1.5"/><circle cx="293.0" cy="455.7" r="1.5"/><circle cx="295.2" cy="453.9" r="1.5"/><circle cx="297.4" cy="455.7" r="1.5"/><circle cx="299.7" cy="452.2" r="1.5"/><circle cx="301.9" cy="449.7" r="1.5"/><circle cx="304.2" cy="447.4" r="1.5"/><circle cx="306.4" cy="445.9" r="1.5"/><circle cx="308.7" cy="442.8" r="1.5"/><circle cx="310.9" cy="439.6" r="1.5"/><circle cx="313.1" cy="436.8" r="1.5"/><circle cx="315.4" cy="432.2" r="1.5"/><circle cx="317.6" cy="427.4" r="1.5"/><circle cx="319.9" cy="422.7" r="1.5"/><circle cx="322.1" cy="420.4" r="1.5"/><circle cx="324.4" cy="418.4" r="1.5"/><circle cx="326.6" cy="412.7" r="1.5"/><circle cx="328.8" cy="409.9" r="1.5"/><circle cx="331.1" cy="408.4" r="1.5"/><circle cx="333.3" cy="405.6" r="1.5"/><circle cx="335.6" cy="405.5" r="1.5"/><circle cx="337.8" cy="405.3" r="1.5"/><circle cx="340.0" cy="405.1" r="1.5"/><circle cx="342.3" cy="404.5" r="1.5"/><circle cx="344.5" cy="407.4" r="1.5"/><circle cx="346.8" cy="407.0" r="1.5"/><circle cx="349.0" cy="407.0" r="1.5"/><circle cx="351.3" cy="408.9" r="1.5"/><circle cx="353.5" cy="409.4" r="1.5"/><circle cx="355.7" cy="409.9" r="1.5"/><circle cx="358.0" cy="407.7" r="1.5"/><circle cx="360.2" cy="406.0" r="1.5"/><circle cx="362.5" cy="404.8" r="1.5"/><circle cx="364.7" cy="402.3" r="1.5"/><circle cx="367.0" cy="401.7" r="1.5"/><circle cx="369.2" cy="404.4" r="1.5"/><circle cx="371.4" cy="406.9" r="1.5"/><circle cx="373.7" cy="411.8" r="1.5"/><circle cx="375.9" cy="415.3" r="1.5"/><circle cx="378.2" cy="421.0" r="1.5"/><circle cx="380.4" cy="428.5" r="1.5"/><circle cx="382.6" cy="430.7" r="1.5"/><circle cx="384.9" cy="436.2" r="1.5"/><circle cx="387.1" cy="443.4" r="1.5"/><circle cx="389.4" cy="447.0" r="1.5"/><circle cx="391.6" cy="450.6" r="1.5"/><circle cx="393.9" cy="453.2" r="1.5"/><circle cx="396.1" cy="457.1" r="1.5"/><circle cx="398.3" cy="459.6" r="1.5"/><circle cx="400.6" cy="460.5" r="1.5"/><circle cx="402.8" cy="463.8" r="1.5"/><circle cx="405.1" cy="463.1" r="1.5"/><circle cx="407.3" cy="466.3" r="1.5"/><circle cx="409.6" cy="466.3" r="1.5"/><circle cx="411.8" cy="466.0" r="1.5"/><circle cx="414.0" cy="466.2" r="1.5"/><circle cx="416.3" cy="466.9" r="1.5"/><circle cx="418.5" cy="467.4" r="1.5"/><circle cx="420.8" cy="467.4" r="1.5"/><circle cx="423.0" cy="468.8" r="1.5"/><circle cx="425.2" cy="467.7" r="1.5"/><circle cx="427.5" cy="467.2" r="1.5"/><circle cx="429.7" cy="469.1" r="1.5"/><circle cx="432.0" cy="468.4" r="1.5"/><circle cx="434.2" cy="467.6" r="1.5"/><circle cx="436.5" cy="467.5" r="1.5"/><circle cx="438.7" cy="466.5" r="1.5"/><circle cx="440.9" cy="467.8" r="1.5"/><circle cx="443.2" cy="468.3" r="1.5"/><circle cx="445.4" cy="468.0" r="1.5"/></g>
<path d="M257.1 457.0 L258.2 457.0 L259.3 457.0 L260.5 457.1 L261.6 457.1 L262.7 457.1 L263.8 457.1 L264.9 457.1 L266.1 457.2 L267.2 457.2 L268.3 457.2 L269.4 457.2 L270.5 457.2 L271.7 457.2 L272.8 457.2 L273.9 457.3 L275.0 457.3 L276.1 457.3 L277.3 457.3 L278.4 457.3 L279.5 457.2 L280.6 457.2 L281.8 457.2 L282.9 457.1 L284.0 457.1 L285.1 457.0 L286.2 456.9 L287.4 456.8 L288.5 456.6 L289.6 456.5 L290.7 456.2 L291.8 456.0 L293.0 455.7 L294.1 455.3 L295.2 454.9 L296.3 454.4 L297.4 453.8 L298.6 453.2 L299.7 452.4 L300.8 451.6 L301.9 450.7 L303.1 449.7 L304.2 448.6 L305.3 447.3 L306.4 446.0 L307.5 444.6 L308.7 443.1 L309.8 441.5 L310.9 439.8 L312.0 438.0 L313.1 436.1 L314.3 434.2 L315.4 432.2 L316.5 430.2 L317.6 428.1 L318.7 426.0 L319.9 424.0 L321.0 422.0 L322.1 420.0 L323.2 418.0 L324.4 416.2 L325.5 414.4 L326.6 412.7 L327.7 411.1 L328.8 409.7 L330.0 408.4 L331.1 407.2 L332.2 406.3 L333.3 405.5 L334.4 404.9 L335.6 404.4 L336.7 404.2 L337.8 404.1 L338.9 404.2 L340.0 404.4 L341.2 404.8 L342.3 405.3 L343.4 405.9 L344.5 406.6 L345.7 407.3 L346.8 408.0 L347.9 408.6 L349.0 409.2 L350.1 409.6 L351.3 409.9 L352.4 410.0 L353.5 409.9 L354.6 409.6 L355.7 409.1 L356.9 408.4 L358.0 407.6 L359.1 406.7 L360.2 405.8 L361.3 404.8 L362.5 404.0 L363.6 403.3 L364.7 402.7 L365.8 402.5 L367.0 402.6 L368.1 403.0 L369.2 403.7 L370.3 404.9 L371.4 406.4 L372.6 408.2 L373.7 410.3 L374.8 412.7 L375.9 415.3 L377.0 418.1 L378.2 420.9 L379.3 423.8 L380.4 426.7 L381.5 429.5 L382.6 432.3 L383.8 434.9 L384.9 437.5 L386.0 439.9 L387.1 442.2 L388.3 444.4 L389.4 446.4 L390.5 448.4 L391.6 450.2 L392.7 451.9 L393.9 453.5 L395.0 455.0 L396.1 456.4 L397.2 457.8 L398.3 459.0 L399.5 460.1 L400.6 461.1 L401.7 462.0 L402.8 462.8 L403.9 463.6 L405.1 464.2 L406.2 464.8 L407.3 465.3 L408.4 465.7 L409.6 466.0 L410.7 466.3 L411.8 466.6 L412.9 466.8 L414.0 466.9 L415.2 467.1 L416.3 467.2 L417.4 467.3 L418.5 467.4 L419.6 467.4 L420.8 467.5 L421.9 467.5 L423.0 467.5 L424.1 467.6 L425.2 467.6 L426.4 467.6 L427.5 467.7 L428.6 467.7 L429.7 467.7 L430.9 467.7 L432.0 467.7 L433.1 467.8 L434.2 467.8 L435.3 467.8 L436.5 467.8 L437.6 467.8 L438.7 467.9 L439.8 467.9 L440.9 467.9 L442.1 467.9 L443.2 467.9 L444.3 468.0 L445.4 468.0 L446.5 468.0" fill="none" stroke="#3a3a3a" stroke-width="1.5" stroke-linejoin="round" stroke-linecap="round"/>
<path d="M354.6 558.0 L356.9 558.1 L359.1 558.0 L361.3 557.9 L363.6 557.4 L365.8 556.8 L368.1 555.8 L370.3 554.6 L372.6 553.1 L374.8 551.4 L377.0 549.8 L379.3 548.3 L381.5 547.2 L383.8 546.5 L386.0 546.5 L388.3 547.0 L390.5 548.2 L392.7 549.8 L395.0 551.7 L397.2 553.7 L399.5 555.7 L401.7 557.4 L403.9 558.9 L406.2 560.1 L408.4 561.1 L410.7 561.7 L412.9 562.2 L415.2 562.5 L416.3 562.9 L411.8 562.9 L407.3 562.8 L402.8 562.7 L398.3 562.5 L393.9 562.4 L389.4 562.1 L384.9 561.9 L380.4 561.5 L375.9 561.1 L371.4 560.5 L367.0 559.9 L362.5 559.3 L358.0 558.7Z" fill="#a4a4a4" fill-opacity="0.8"/>
<path d="M282.9 552.2 L285.1 552.0 L287.4 551.8 L289.6 551.4 L291.8 550.9 L294.1 550.3 L296.3 549.3 L298.6 548.1 L300.8 546.5 L303.1 544.6 L305.3 542.4 L307.5 539.8 L309.8 536.9 L312.0 533.9 L314.3 530.8 L316.5 527.7 L318.7 524.9 L321.0 522.5 L323.2 520.7 L325.5 519.6 L327.7 519.3 L330.0 519.8 L332.2 521.1 L334.4 523.2 L336.7 525.9 L338.9 529.0 L341.2 532.5 L343.4 536.0 L345.7 539.6 L347.9 542.9 L350.1 546.0 L352.4 548.8 L354.6 551.2 L356.9 553.2 L359.1 555.0 L361.3 556.4 L363.6 557.5 L365.8 558.4 L368.1 559.2 L370.3 559.8 L372.6 560.3 L373.7 560.8 L369.2 560.3 L364.7 559.6 L360.2 559.0 L355.7 558.4 L351.3 557.8 L346.8 557.2 L342.3 556.7 L337.8 556.0 L333.3 555.5 L328.8 554.9 L324.4 554.4 L319.9 553.9 L315.4 553.6 L310.9 553.3 L306.4 553.1 L301.9 552.9 L297.4 552.8 L293.0 552.7 L288.5 552.6 L284.0 552.5Z" fill="#7a4fae" fill-opacity="0.8"/>
<path d="M334.4 555.3 L336.7 555.4 L338.9 555.2 L341.2 554.7 L343.4 553.7 L345.7 552.0 L347.9 549.5 L350.1 546.1 L352.4 541.5 L354.6 536.1 L356.9 530.0 L359.1 523.8 L361.3 518.1 L363.6 513.5 L365.8 510.7 L368.1 510.1 L370.3 511.8 L372.6 515.6 L374.8 521.0 L377.0 527.5 L379.3 534.2 L381.5 540.7 L383.8 546.4 L386.0 551.2 L388.3 554.9 L390.5 557.6 L392.7 559.5 L395.0 560.8 L397.2 561.6 L399.5 562.1 L400.6 562.6 L396.1 562.5 L391.6 562.3 L387.1 562.0 L382.6 561.7 L378.2 561.3 L373.7 560.8 L369.2 560.3 L364.7 559.6 L360.2 559.0 L355.7 558.4 L351.3 557.8 L346.8 557.2 L342.3 556.7 L337.8 556.0Z" fill="#3b84e2" fill-opacity="0.8"/>
<path d="M303.1 552.6 L305.3 552.5 L307.5 552.3 L309.8 551.9 L312.0 551.4 L314.3 550.6 L316.5 549.4 L318.7 547.9 L321.0 546.0 L323.2 543.6 L325.5 540.8 L327.7 537.6 L330.0 534.1 L332.2 530.5 L334.4 526.9 L336.7 523.6 L338.9 520.8 L341.2 518.8 L343.4 517.7 L345.7 517.6 L347.9 518.6 L350.1 520.6 L352.4 523.4 L354.6 526.9 L356.9 530.9 L359.1 535.1 L361.3 539.3 L363.6 543.3 L365.8 547.0 L368.1 550.3 L370.3 553.0 L372.6 555.3 L374.8 557.1 L377.0 558.5 L379.3 559.6 L381.5 560.4 L383.8 561.0 L386.0 561.5 L388.3 561.8 L388.3 562.1 L383.8 561.8 L379.3 561.4 L374.8 561.0 L370.3 560.4 L365.8 559.8 L361.3 559.2 L356.9 558.6 L352.4 558.0 L347.9 557.4 L343.4 556.8 L338.9 556.2 L334.4 555.6 L330.0 555.0 L325.5 554.5 L321.0 554.1 L316.5 553.7 L312.0 553.4 L307.5 553.1 L303.1 553.0Z" fill="#e23a36" fill-opacity="0.8"/>
<g fill="none" stroke="#b9b9b9" stroke-width="0.6"><circle cx="257.1" cy="552.4" r="1.5"/><circle cx="259.3" cy="554.2" r="1.5"/><circle cx="261.6" cy="552.2" r="1.5"/><circle cx="263.8" cy="551.3" r="1.5"/><circle cx="266.1" cy="552.3" r="1.5"/><circle cx="268.3" cy="551.1" r="1.5"/><circle cx="270.5" cy="551.9" r="1.5"/><circle cx="272.8" cy="550.8" r="1.5"/><circle cx="275.0" cy="553.3" r="1.5"/><circle cx="277.3" cy="550.9" r="1.5"/><circle cx="279.5" cy="551.4" r="1.5"/><circle cx="281.8" cy="551.4" r="1.5"/><circle cx="284.0" cy="553.0" r="1.5"/><circle cx="286.2" cy="552.0" r="1.5"/><circle cx="288.5" cy="551.6" r="1.5"/><circle cx="290.7" cy="551.9" r="1.5"/><circle cx="293.0" cy="550.6" r="1.5"/><circle cx="295.2" cy="549.7" r="1.5"/><circle cx="297.4" cy="548.8" r="1.5"/><circle cx="299.7" cy="547.1" r="1.5"/><circle cx="301.9" cy="545.1" r="1.5"/><circle cx="304.2" cy="543.2" r="1.5"/><circle cx="306.4" cy="540.7" r="1.5"/><circle cx="308.7" cy="538.4" r="1.5"/><circle cx="310.9" cy="533.5" r="1.5"/><circle cx="313.1" cy="531.2" r="1.5"/><circle cx="315.4" cy="524.5" r="1.5"/><circle cx="317.6" cy="520.7" r="1.5"/><circle cx="319.9" cy="516.6" r="1.5"/><circle cx="322.1" cy="512.8" r="1.5"/><circle cx="324.4" cy="507.6" r="1.5"/><circle cx="326.6" cy="503.7" r="1.5"/><circle cx="328.8" cy="500.9" r="1.5"/><circle cx="331.1" cy="498.5" r="1.5"/><circle cx="333.3" cy="492.5" r="1.5"/><circle cx="335.6" cy="491.8" r="1.5"/><circle cx="337.8" cy="494.4" r="1.5"/><circle cx="340.0" cy="491.7" r="1.5"/><circle cx="342.3" cy="494.1" r="1.5"/><circle cx="344.5" cy="493.9" r="1.5"/><circle cx="346.8" cy="497.5" r="1.5"/><circle cx="349.0" cy="497.4" r="1.5"/><circle cx="351.3" cy="498.4" r="1.5"/><circle cx="353.5" cy="497.0" r="1.5"/><circle cx="355.7" cy="496.4" r="1.5"/><circle cx="358.0" cy="497.0" r="1.5"/><circle cx="360.2" cy="494.6" r="1.5"/><circle cx="362.5" cy="493.1" r="1.5"/><circle cx="364.7" cy="492.9" r="1.5"/><circle cx="367.0" cy="494.6" r="1.5"/><circle cx="369.2" cy="497.1" r="1.5"/><circle cx="371.4" cy="498.4" r="1.5"/><circle cx="373.7" cy="505.2" r="1.5"/><circle cx="375.9" cy="509.5" r="1.5"/><circle cx="378.2" cy="515.1" r="1.5"/><circle cx="380.4" cy="522.2" r="1.5"/><circle cx="382.6" cy="528.5" r="1.5"/><circle cx="384.9" cy="530.8" r="1.5"/><circle cx="387.1" cy="537.9" r="1.5"/><circle cx="389.4" cy="540.2" r="1.5"/><circle cx="391.6" cy="546.5" r="1.5"/><circle cx="393.9" cy="548.2" r="1.5"/><circle cx="396.1" cy="549.9" r="1.5"/><circle cx="398.3" cy="553.7" r="1.5"/><circle cx="400.6" cy="554.7" r="1.5"/><circle cx="402.8" cy="557.7" r="1.5"/><circle cx="405.1" cy="559.1" r="1.5"/><circle cx="407.3" cy="561.4" r="1.5"/><circle cx="409.6" cy="563.3" r="1.5"/><circle cx="411.8" cy="562.7" r="1.5"/><circle cx="414.0" cy="564.0" r="1.5"/><circle cx="416.3" cy="563.7" r="1.5"/><circle cx="418.5" cy="561.4" r="1.5"/><circle cx="420.8" cy="562.9" r="1.5"/><circle cx="423.0" cy="562.2" r="1.5"/><circle cx="425.2" cy="564.4" r="1.5"/><circle cx="427.5" cy="562.2" r="1.5"/><circle cx="429.7" cy="563.5" r="1.5"/><circle cx="432.0" cy="565.2" r="1.5"/><circle cx="434.2" cy="562.1" r="1.5"/><circle cx="436.5" cy="562.7" r="1.5"/><circle cx="438.7" cy="563.5" r="1.5"/><circle cx="440.9" cy="562.9" r="1.5"/><circle cx="443.2" cy="563.0" r="1.5"/><circle cx="445.4" cy="563.2" r="1.5"/></g>
<path d="M257.1 552.0 L258.2 552.0 L259.3 552.0 L260.5 552.1 L261.6 552.1 L262.7 552.1 L263.8 552.1 L264.9 552.1 L266.1 552.2 L267.2 552.2 L268.3 552.2 L269.4 552.2 L270.5 552.2 L271.7 552.2 L272.8 552.3 L273.9 552.3 L275.0 552.3 L276.1 552.3 L277.3 552.3 L278.4 552.3 L279.5 552.3 L280.6 552.2 L281.8 552.2 L282.9 552.2 L284.0 552.1 L285.1 552.0 L286.2 551.9 L287.4 551.8 L288.5 551.6 L289.6 551.4 L290.7 551.2 L291.8 550.9 L293.0 550.6 L294.1 550.2 L295.2 549.8 L296.3 549.3 L297.4 548.7 L298.6 548.0 L299.7 547.2 L300.8 546.3 L301.9 545.4 L303.1 544.3 L304.2 543.1 L305.3 541.9 L306.4 540.5 L307.5 539.0 L308.7 537.3 L309.8 535.6 L310.9 533.8 L312.0 531.9 L313.1 529.9 L314.3 527.8 L315.4 525.7 L316.5 523.5 L317.6 521.2 L318.7 519.0 L319.9 516.7 L321.0 514.5 L322.1 512.3 L323.2 510.1 L324.4 507.9 L325.5 505.9 L326.6 503.9 L327.7 502.1 L328.8 500.4 L330.0 498.8 L331.1 497.4 L332.2 496.2 L333.3 495.1 L334.4 494.2 L335.6 493.5 L336.7 493.0 L337.8 492.7 L338.9 492.6 L340.0 492.7 L341.2 493.0 L342.3 493.3 L343.4 493.8 L344.5 494.4 L345.7 495.0 L346.8 495.6 L347.9 496.2 L349.0 496.8 L350.1 497.2 L351.3 497.5 L352.4 497.6 L353.5 497.6 L354.6 497.4 L355.7 497.1 L356.9 496.6 L358.0 496.0 L359.1 495.4 L360.2 494.7 L361.3 494.1 L362.5 493.7 L363.6 493.4 L364.7 493.3 L365.8 493.6 L367.0 494.2 L368.1 495.1 L369.2 496.4 L370.3 498.0 L371.4 500.0 L372.6 502.2 L373.7 504.7 L374.8 507.4 L375.9 510.3 L377.0 513.3 L378.2 516.2 L379.3 519.2 L380.4 522.2 L381.5 525.0 L382.6 527.7 L383.8 530.4 L384.9 532.9 L386.0 535.2 L387.1 537.4 L388.3 539.6 L389.4 541.6 L390.5 543.4 L391.6 545.2 L392.7 546.9 L393.9 548.5 L395.0 550.0 L396.1 551.5 L397.2 552.8 L398.3 554.0 L399.5 555.2 L400.6 556.2 L401.7 557.2 L402.8 558.0 L403.9 558.8 L405.1 559.5 L406.2 560.1 L407.3 560.6 L408.4 561.0 L409.6 561.4 L410.7 561.7 L411.8 562.0 L412.9 562.2 L414.0 562.4 L415.2 562.5 L416.3 562.7 L417.4 562.7 L418.5 562.8 L419.6 562.9 L420.8 562.9 L421.9 563.0 L423.0 563.0 L424.1 563.1 L425.2 563.1 L426.4 563.1 L427.5 563.1 L428.6 563.2 L429.7 563.2 L430.9 563.2 L432.0 563.2 L433.1 563.3 L434.2 563.3 L435.3 563.3 L436.5 563.3 L437.6 563.3 L438.7 563.4 L439.8 563.4 L440.9 563.4 L442.1 563.4 L443.2 563.4 L444.3 563.5 L445.4 563.5 L446.5 563.5" fill="none" stroke="#3a3a3a" stroke-width="1.5" stroke-linejoin="round" stroke-linecap="round"/>
<path d="M285.1 657.6 L287.4 657.5 L289.6 657.3 L291.8 656.9 L294.1 656.4 L296.3 655.6 L298.6 654.6 L300.8 653.2 L303.1 651.4 L305.3 649.2 L307.5 646.5 L309.8 643.5 L312.0 640.1 L314.3 636.6 L316.5 633.1 L318.7 629.7 L321.0 626.8 L323.2 624.6 L325.5 623.1 L327.7 622.7 L330.0 623.2 L332.2 624.7 L334.4 627.1 L336.7 630.2 L338.9 633.8 L341.2 637.7 L343.4 641.7 L345.7 645.5 L347.9 649.0 L350.1 652.1 L352.4 654.8 L354.6 657.1 L356.9 658.9 L359.1 660.4 L361.3 661.6 L363.6 662.5 L365.8 663.2 L368.1 663.8 L370.3 664.2 L370.3 664.6 L365.8 664.0 L361.3 663.5 L356.9 663.0 L352.4 662.5 L347.9 662.0 L343.4 661.5 L338.9 660.9 L334.4 660.4 L330.0 659.9 L325.5 659.4 L321.0 659.1 L316.5 658.8 L312.0 658.5 L307.5 658.4 L303.1 658.2 L298.6 658.1 L294.1 658.0 L289.6 658.0 L285.1 657.9Z" fill="#7a4fae" fill-opacity="0.8"/>
<path d="M338.9 660.6 L341.2 660.6 L343.4 660.2 L345.7 659.2 L347.9 657.5 L350.1 654.5 L352.4 650.0 L354.6 643.8 L356.9 636.0 L359.1 627.1 L361.3 618.0 L363.6 610.0 L365.8 604.3 L368.1 601.9 L370.3 603.3 L372.6 608.3 L374.8 616.0 L377.0 625.2 L379.3 634.7 L381.5 643.4 L383.8 650.6 L386.0 656.1 L388.3 660.0 L390.5 662.5 L392.7 664.0 L395.0 664.9 L397.2 665.4 L398.3 665.8 L393.9 665.7 L389.4 665.7 L384.9 665.6 L380.4 665.4 L375.9 665.1 L371.4 664.7 L367.0 664.2 L362.5 663.6 L358.0 663.1 L353.5 662.6 L349.0 662.1 L344.5 661.6 L340.0 661.1Z" fill="#3b84e2" fill-opacity="0.8"/>
<path d="M301.9 657.9 L304.2 657.8 L306.4 657.5 L308.7 657.1 L310.9 656.5 L313.1 655.6 L315.4 654.3 L317.6 652.5 L319.9 650.2 L322.1 647.2 L324.4 643.6 L326.6 639.3 L328.8 634.6 L331.1 629.4 L333.3 624.2 L335.6 619.2 L337.8 614.7 L340.0 611.1 L342.3 608.7 L344.5 607.7 L346.8 608.2 L349.0 610.1 L351.3 613.4 L353.5 617.8 L355.7 622.9 L358.0 628.6 L360.2 634.3 L362.5 639.9 L364.7 645.0 L367.0 649.5 L369.2 653.4 L371.4 656.6 L373.7 659.2 L375.9 661.2 L378.2 662.6 L380.4 663.7 L382.6 664.4 L384.9 664.9 L387.1 665.2 L388.3 665.6 L383.8 665.5 L379.3 665.3 L374.8 665.0 L370.3 664.6 L365.8 664.0 L361.3 663.5 L356.9 663.0 L352.4 662.5 L347.9 662.0 L343.4 661.5 L338.9 660.9 L334.4 660.4 L330.0 659.9 L325.5 659.4 L321.0 659.1 L316.5 658.8 L312.0 658.5 L307.5 658.4 L303.1 658.2Z" fill="#e23a36" fill-opacity="0.8"/>
<g fill="none" stroke="#b9b9b9" stroke-width="0.6"><circle cx="257.1" cy="657.2" r="1.5"/><circle cx="259.3" cy="657.7" r="1.5"/><circle cx="261.6" cy="655.3" r="1.5"/><circle cx="263.8" cy="658.6" r="1.5"/><circle cx="266.1" cy="659.1" r="1.5"/><circle cx="268.3" cy="660.0" r="1.5"/><circle cx="270.5" cy="657.4" r="1.5"/><circle cx="272.8" cy="657.8" r="1.5"/><circle cx="275.0" cy="657.8" r="1.5"/><circle cx="277.3" cy="658.3" r="1.5"/><circle cx="279.5" cy="658.1" r="1.5"/><circle cx="281.8" cy="656.5" r="1.5"/><circle cx="284.0" cy="658.4" r="1.5"/><circle cx="286.2" cy="659.0" r="1.5"/><circle cx="288.5" cy="657.2" r="1.5"/><circle cx="290.7" cy="656.6" r="1.5"/><circle cx="293.0" cy="657.4" r="1.5"/><circle cx="295.2" cy="656.1" r="1.5"/><circle cx="297.4" cy="653.2" r="1.5"/><circle cx="299.7" cy="653.4" r="1.5"/><circle cx="301.9" cy="653.3" r="1.5"/><circle cx="304.2" cy="649.2" r="1.5"/><circle cx="306.4" cy="647.0" r="1.5"/><circle cx="308.7" cy="644.9" r="1.5"/><circle cx="310.9" cy="639.4" r="1.5"/><circle cx="313.1" cy="635.7" r="1.5"/><circle cx="315.4" cy="630.1" r="1.5"/><circle cx="317.6" cy="624.6" r="1.5"/><circle cx="319.9" cy="620.8" r="1.5"/><circle cx="322.1" cy="614.2" r="1.5"/><circle cx="324.4" cy="608.4" r="1.5"/><circle cx="326.6" cy="602.4" r="1.5"/><circle cx="328.8" cy="598.0" r="1.5"/><circle cx="331.1" cy="593.7" r="1.5"/><circle cx="333.3" cy="587.8" r="1.5"/><circle cx="335.6" cy="588.1" r="1.5"/><circle cx="337.8" cy="587.1" r="1.5"/><circle cx="340.0" cy="585.7" r="1.5"/><circle cx="342.3" cy="586.2" r="1.5"/><circle cx="344.5" cy="587.9" r="1.5"/><circle cx="346.8" cy="590.4" r="1.5"/><circle cx="349.0" cy="590.7" r="1.5"/><circle cx="351.3" cy="594.2" r="1.5"/><circle cx="353.5" cy="595.8" r="1.5"/><circle cx="355.7" cy="596.2" r="1.5"/><circle cx="358.0" cy="594.2" r="1.5"/><circle cx="360.2" cy="590.7" r="1.5"/><circle cx="362.5" cy="590.2" r="1.5"/><circle cx="364.7" cy="586.8" r="1.5"/><circle cx="367.0" cy="587.4" r="1.5"/><circle cx="369.2" cy="589.8" r="1.5"/><circle cx="371.4" cy="597.2" r="1.5"/><circle cx="373.7" cy="604.3" r="1.5"/><circle cx="375.9" cy="616.6" r="1.5"/><circle cx="378.2" cy="626.5" r="1.5"/><circle cx="380.4" cy="637.0" r="1.5"/><circle cx="382.6" cy="646.2" r="1.5"/><circle cx="384.9" cy="653.5" r="1.5"/><circle cx="387.1" cy="659.9" r="1.5"/><circle cx="389.4" cy="661.1" r="1.5"/><circle cx="391.6" cy="663.5" r="1.5"/><circle cx="393.9" cy="664.5" r="1.5"/><circle cx="396.1" cy="664.7" r="1.5"/><circle cx="398.3" cy="664.5" r="1.5"/><circle cx="400.6" cy="665.1" r="1.5"/><circle cx="402.8" cy="665.4" r="1.5"/><circle cx="405.1" cy="666.3" r="1.5"/><circle cx="407.3" cy="666.0" r="1.5"/><circle cx="409.6" cy="665.7" r="1.5"/><circle cx="411.8" cy="666.3" r="1.5"/><circle cx="414.0" cy="666.6" r="1.5"/><circle cx="416.3" cy="662.7" r="1.5"/><circle cx="418.5" cy="665.0" r="1.5"/><circle cx="420.8" cy="665.2" r="1.5"/><circle cx="423.0" cy="666.8" r="1.5"/><circle cx="425.2" cy="665.3" r="1.5"/><circle cx="427.5" cy="667.5" r="1.5"/><circle cx="429.7" cy="667.5" r="1.5"/><circle cx="432.0" cy="666.7" r="1.5"/><circle cx="434.2" cy="666.8" r="1.5"/><circle cx="436.5" cy="667.1" r="1.5"/><circle cx="438.7" cy="665.7" r="1.5"/><circle cx="440.9" cy="666.3" r="1.5"/><circle cx="443.2" cy="666.7" r="1.5"/><circle cx="445.4" cy="666.4" r="1.5"/></g>
<path d="M257.1 657.5 L258.2 657.5 L259.3 657.5 L260.5 657.5 L261.6 657.6 L262.7 657.6 L263.8 657.6 L264.9 657.6 L266.1 657.6 L267.2 657.6 L268.3 657.7 L269.4 657.7 L270.5 657.7 L271.7 657.7 L272.8 657.7 L273.9 657.7 L275.0 657.7 L276.1 657.7 L277.3 657.8 L278.4 657.8 L279.5 657.8 L280.6 657.7 L281.8 657.7 L282.9 657.7 L284.0 657.7 L285.1 657.6 L286.2 657.6 L287.4 657.5 L288.5 657.4 L289.6 657.3 L290.7 657.1 L291.8 656.9 L293.0 656.7 L294.1 656.4 L295.2 656.0 L296.3 655.6 L297.4 655.1 L298.6 654.5 L299.7 653.8 L300.8 653.0 L301.9 652.1 L303.1 651.1 L304.2 649.9 L305.3 648.6 L306.4 647.1 L307.5 645.6 L308.7 643.8 L309.8 641.9 L310.9 639.9 L312.0 637.7 L313.1 635.4 L314.3 633.0 L315.4 630.4 L316.5 627.8 L317.6 625.1 L318.7 622.3 L319.9 619.4 L321.0 616.6 L322.1 613.7 L323.2 610.8 L324.4 608.0 L325.5 605.3 L326.6 602.6 L327.7 600.0 L328.8 597.6 L330.0 595.4 L331.1 593.3 L332.2 591.4 L333.3 589.7 L334.4 588.3 L335.6 587.2 L336.7 586.3 L337.8 585.7 L338.9 585.4 L340.0 585.4 L341.2 585.7 L342.3 586.2 L343.4 587.0 L344.5 587.9 L345.7 589.0 L346.8 590.2 L347.9 591.5 L349.0 592.7 L350.1 593.7 L351.3 594.7 L352.4 595.3 L353.5 595.7 L354.6 595.7 L355.7 595.4 L356.9 594.7 L358.0 593.7 L359.1 592.5 L360.2 591.1 L361.3 589.7 L362.5 588.5 L363.6 587.4 L364.7 586.8 L365.8 586.8 L367.0 587.3 L368.1 588.6 L369.2 590.7 L370.3 593.5 L371.4 597.1 L372.6 601.3 L373.7 606.0 L374.8 611.1 L375.9 616.5 L377.0 621.9 L378.2 627.3 L379.3 632.5 L380.4 637.5 L381.5 642.0 L382.6 646.1 L383.8 649.7 L384.9 652.9 L386.0 655.6 L387.1 657.8 L388.3 659.7 L389.4 661.1 L390.5 662.3 L391.6 663.2 L392.7 663.9 L393.9 664.5 L395.0 664.9 L396.1 665.2 L397.2 665.4 L398.3 665.5 L399.5 665.6 L400.6 665.7 L401.7 665.8 L402.8 665.8 L403.9 665.9 L405.1 665.9 L406.2 665.9 L407.3 665.9 L408.4 666.0 L409.6 666.0 L410.7 666.0 L411.8 666.0 L412.9 666.0 L414.0 666.0 L415.2 666.1 L416.3 666.1 L417.4 666.1 L418.5 666.1 L419.6 666.1 L420.8 666.1 L421.9 666.1 L423.0 666.2 L424.1 666.2 L425.2 666.2 L426.4 666.2 L427.5 666.2 L428.6 666.2 L429.7 666.3 L430.9 666.3 L432.0 666.3 L433.1 666.3 L434.2 666.3 L435.3 666.3 L436.5 666.4 L437.6 666.4 L438.7 666.4 L439.8 666.4 L440.9 666.4 L442.1 666.4 L443.2 666.5 L444.3 666.5 L445.4 666.5 L446.5 666.5" fill="none" stroke="#3a3a3a" stroke-width="1.5" stroke-linejoin="round" stroke-linecap="round"/>
<line x1="328.1" y1="421.7" x2="328.1" y2="658.8" stroke="#111" stroke-width="1.1" stroke-dasharray="3.6 2.4"/>
<line x1="345.2" y1="416.5" x2="345.2" y2="658.0" stroke="#111" stroke-width="1.1" stroke-dasharray="3.6 2.4"/>
<line x1="368.5" y1="414.8" x2="368.5" y2="663.3" stroke="#111" stroke-width="1.1" stroke-dasharray="3.6 2.4"/>
<line x1="385.6" y1="454.2" x2="385.6" y2="563.0" stroke="#111" stroke-width="1.1" stroke-dasharray="3.6 2.4"/>
<line x1="257.10" y1="675.60" x2="446.60" y2="675.60" stroke="#8a8a8a" stroke-width="1.1"/>
<line x1="297.60" y1="675.60" x2="297.60" y2="680.10" stroke="#555" stroke-width="1"/>
<line x1="365.80" y1="675.60" x2="365.80" y2="680.10" stroke="#555" stroke-width="1"/>
<line x1="434.00" y1="675.60" x2="434.00" y2="680.10" stroke="#555" stroke-width="1"/>
<line x1="263.50" y1="675.60" x2="263.50" y2="678.40" stroke="#555" stroke-width="1"/>
<line x1="331.70" y1="675.60" x2="331.70" y2="678.40" stroke="#555" stroke-width="1"/>
<line x1="399.90" y1="675.60" x2="399.90" y2="678.40" stroke="#555" stroke-width="1"/>
<text x="297.6" y="697.4" font-size="14.3" text-anchor="middle" fill="#1a1a1a">290</text>
<text x="365.8" y="697.4" font-size="14.3" text-anchor="middle" fill="#1a1a1a">285</text>
<text x="434.0" y="697.4" font-size="14.3" text-anchor="middle" fill="#1a1a1a">280</text>
<text x="352.1" y="720.7" font-size="14.3" text-anchor="middle" textLength="126.0" lengthAdjust="spacing" fill="#1a1a1a">Binding energy (eV)</text>
<text x="442.9" y="382.3" font-size="14.3" text-anchor="end" textLength="30.0" lengthAdjust="spacing" fill="#1a1a1a">C 1s</text>
<text x="258.8" y="448.4" font-size="14.3" textLength="40.0" lengthAdjust="spacing" fill="#1a1a1a">80 nm</text>
<text x="258.8" y="542.5" font-size="14.3" textLength="40.0" lengthAdjust="spacing" fill="#1a1a1a">40 nm</text>
<text x="258.8" y="654.0" font-size="14.3" textLength="32.0" lengthAdjust="spacing" fill="#1a1a1a">0 nm</text>
<text x="277.0" y="415.5" font-size="14.3" textLength="47.0" lengthAdjust="spacing" fill="#1a1a1a">N–C=N</text>
<text x="326.7" y="400.1" font-size="14.3" textLength="29.0" lengthAdjust="spacing" fill="#1a1a1a">C≡N</text>
<text x="366.1" y="400.1" font-size="14.3" textLength="28.0" lengthAdjust="spacing" fill="#1a1a1a">C–C</text>
<text x="394.2" y="445.0" font-size="14.3" textLength="36.0" lengthAdjust="spacing" fill="#1a1a1a">Na–C</text>
<path d="M518.9 462.7 L521.2 462.5 L523.4 462.2 L525.6 461.7 L527.9 461.1 L530.1 460.2 L532.4 459.1 L534.6 457.8 L536.9 456.3 L539.1 454.8 L541.3 453.5 L543.6 452.3 L545.8 451.6 L548.1 451.3 L550.3 451.5 L552.6 452.2 L554.8 453.3 L557.0 454.6 L559.3 456.2 L561.5 457.7 L563.8 459.2 L566.0 460.4 L568.3 461.5 L570.5 462.3 L572.7 462.9 L575.0 463.4 L577.2 463.7 L578.3 464.1 L573.9 464.0 L569.4 463.8 L564.9 463.6 L560.4 463.5 L555.9 463.4 L551.4 463.3 L547.0 463.2 L542.5 463.2 L538.0 463.1 L533.5 463.1 L529.0 463.1 L524.5 463.1 L520.0 463.0Z" fill="#3b84e2" fill-opacity="0.8"/>
<path d="M543.6 462.9 L545.8 462.8 L548.1 462.4 L550.3 461.8 L552.6 461.0 L554.8 459.7 L557.0 458.0 L559.3 455.7 L561.5 453.0 L563.8 449.9 L566.0 446.8 L568.3 443.8 L570.5 441.3 L572.7 439.6 L575.0 439.0 L577.2 439.5 L579.5 441.2 L581.7 443.6 L584.0 446.7 L586.2 450.1 L588.4 453.3 L590.7 456.3 L592.9 458.8 L595.2 460.8 L597.4 462.3 L599.7 463.4 L601.9 464.1 L604.1 464.6 L606.4 464.9 L606.4 465.2 L601.9 465.1 L597.4 464.9 L592.9 464.8 L588.4 464.6 L584.0 464.4 L579.5 464.2 L575.0 464.0 L570.5 463.8 L566.0 463.7 L561.5 463.5 L557.0 463.4 L552.6 463.3 L548.1 463.3 L543.6 463.2Z" fill="#3b84e2" fill-opacity="0.8"/>
<path d="M534.6 462.9 L536.9 462.6 L539.1 462.3 L541.3 461.7 L543.6 460.8 L545.8 459.4 L548.1 457.5 L550.3 454.9 L552.6 451.8 L554.8 448.1 L557.0 444.1 L559.3 440.1 L561.5 436.4 L563.8 433.5 L566.0 431.7 L568.3 431.3 L570.5 432.2 L572.7 434.4 L575.0 437.7 L577.2 441.6 L579.5 445.8 L581.7 449.9 L584.0 453.6 L586.2 456.8 L588.4 459.3 L590.7 461.2 L592.9 462.6 L595.2 463.5 L597.4 464.2 L599.7 464.6 L600.8 465.1 L596.3 464.9 L591.8 464.7 L587.3 464.5 L582.8 464.3 L578.3 464.1 L573.9 464.0 L569.4 463.8 L564.9 463.6 L560.4 463.5 L555.9 463.4 L551.4 463.3 L547.0 463.2 L542.5 463.2 L538.0 463.1Z" fill="#e23a36" fill-opacity="0.8"/>
<path d="M557.0 463.1 L559.3 462.9 L561.5 462.4 L563.8 461.7 L566.0 460.4 L568.3 458.5 L570.5 455.7 L572.7 451.9 L575.0 446.9 L577.2 440.8 L579.5 433.6 L581.7 425.9 L584.0 418.1 L586.2 411.0 L588.4 405.2 L590.7 401.5 L592.9 400.3 L595.2 401.7 L597.4 405.5 L599.7 411.5 L601.9 418.7 L604.1 426.7 L606.4 434.5 L608.6 441.8 L610.9 448.1 L613.1 453.2 L615.4 457.2 L617.6 460.0 L619.8 462.1 L622.1 463.4 L624.3 464.2 L626.6 464.8 L628.8 465.1 L628.8 465.4 L624.3 465.4 L619.8 465.3 L615.4 465.3 L610.9 465.3 L606.4 465.2 L601.9 465.1 L597.4 464.9 L592.9 464.8 L588.4 464.6 L584.0 464.4 L579.5 464.2 L575.0 464.0 L570.5 463.8 L566.0 463.7 L561.5 463.5 L557.0 463.4Z" fill="#e23a36" fill-opacity="0.8"/>
<g fill="none" stroke="#b9b9b9" stroke-width="0.6"><circle cx="466.2" cy="464.3" r="1.5"/><circle cx="468.5" cy="462.8" r="1.5"/><circle cx="470.7" cy="462.1" r="1.5"/><circle cx="472.9" cy="462.8" r="1.5"/><circle cx="475.2" cy="463.8" r="1.5"/><circle cx="477.4" cy="462.3" r="1.5"/><circle cx="479.7" cy="463.3" r="1.5"/><circle cx="481.9" cy="462.6" r="1.5"/><circle cx="484.2" cy="463.4" r="1.5"/><circle cx="486.4" cy="463.1" r="1.5"/><circle cx="488.6" cy="464.4" r="1.5"/><circle cx="490.9" cy="462.6" r="1.5"/><circle cx="493.1" cy="462.9" r="1.5"/><circle cx="495.4" cy="462.6" r="1.5"/><circle cx="497.6" cy="463.9" r="1.5"/><circle cx="499.9" cy="462.3" r="1.5"/><circle cx="502.1" cy="461.5" r="1.5"/><circle cx="504.3" cy="461.1" r="1.5"/><circle cx="506.6" cy="461.9" r="1.5"/><circle cx="508.8" cy="464.6" r="1.5"/><circle cx="511.1" cy="463.7" r="1.5"/><circle cx="513.3" cy="463.4" r="1.5"/><circle cx="515.6" cy="461.3" r="1.5"/><circle cx="517.8" cy="463.1" r="1.5"/><circle cx="520.0" cy="462.9" r="1.5"/><circle cx="522.3" cy="464.1" r="1.5"/><circle cx="524.5" cy="462.1" r="1.5"/><circle cx="526.8" cy="461.3" r="1.5"/><circle cx="529.0" cy="459.3" r="1.5"/><circle cx="531.3" cy="459.5" r="1.5"/><circle cx="533.5" cy="457.9" r="1.5"/><circle cx="535.7" cy="456.6" r="1.5"/><circle cx="538.0" cy="454.5" r="1.5"/><circle cx="540.2" cy="451.8" r="1.5"/><circle cx="542.5" cy="450.5" r="1.5"/><circle cx="544.7" cy="449.8" r="1.5"/><circle cx="547.0" cy="446.1" r="1.5"/><circle cx="549.2" cy="444.5" r="1.5"/><circle cx="551.4" cy="440.3" r="1.5"/><circle cx="553.7" cy="436.1" r="1.5"/><circle cx="555.9" cy="432.5" r="1.5"/><circle cx="558.2" cy="427.4" r="1.5"/><circle cx="560.4" cy="421.6" r="1.5"/><circle cx="562.6" cy="415.9" r="1.5"/><circle cx="564.9" cy="412.2" r="1.5"/><circle cx="567.1" cy="406.4" r="1.5"/><circle cx="569.4" cy="401.8" r="1.5"/><circle cx="571.6" cy="397.9" r="1.5"/><circle cx="573.9" cy="398.0" r="1.5"/><circle cx="576.1" cy="393.8" r="1.5"/><circle cx="578.3" cy="391.9" r="1.5"/><circle cx="580.6" cy="391.8" r="1.5"/><circle cx="582.8" cy="390.6" r="1.5"/><circle cx="585.1" cy="390.5" r="1.5"/><circle cx="587.3" cy="390.2" r="1.5"/><circle cx="589.6" cy="388.7" r="1.5"/><circle cx="591.8" cy="391.6" r="1.5"/><circle cx="594.0" cy="392.9" r="1.5"/><circle cx="596.3" cy="399.1" r="1.5"/><circle cx="598.5" cy="405.1" r="1.5"/><circle cx="600.8" cy="413.1" r="1.5"/><circle cx="603.0" cy="422.4" r="1.5"/><circle cx="605.3" cy="430.1" r="1.5"/><circle cx="607.5" cy="438.5" r="1.5"/><circle cx="609.7" cy="445.8" r="1.5"/><circle cx="612.0" cy="450.2" r="1.5"/><circle cx="614.2" cy="454.8" r="1.5"/><circle cx="616.5" cy="457.7" r="1.5"/><circle cx="618.7" cy="461.2" r="1.5"/><circle cx="621.0" cy="461.0" r="1.5"/><circle cx="623.2" cy="463.2" r="1.5"/><circle cx="625.4" cy="464.1" r="1.5"/><circle cx="627.7" cy="463.8" r="1.5"/><circle cx="629.9" cy="464.9" r="1.5"/><circle cx="632.2" cy="465.0" r="1.5"/><circle cx="634.4" cy="465.4" r="1.5"/><circle cx="636.7" cy="465.2" r="1.5"/><circle cx="638.9" cy="466.4" r="1.5"/><circle cx="641.1" cy="464.0" r="1.5"/><circle cx="643.4" cy="466.5" r="1.5"/><circle cx="645.6" cy="464.6" r="1.5"/><circle cx="647.9" cy="467.1" r="1.5"/><circle cx="650.1" cy="465.9" r="1.5"/><circle cx="652.4" cy="464.9" r="1.5"/><circle cx="654.6" cy="464.5" r="1.5"/></g>
<path d="M466.2 462.8 L467.3 462.8 L468.5 462.8 L469.6 462.8 L470.7 462.8 L471.8 462.8 L472.9 462.8 L474.1 462.8 L475.2 462.8 L476.3 462.8 L477.4 462.8 L478.5 462.9 L479.7 462.9 L480.8 462.9 L481.9 462.9 L483.0 462.9 L484.2 462.9 L485.3 462.9 L486.4 462.9 L487.5 462.9 L488.6 462.9 L489.8 462.9 L490.9 462.9 L492.0 462.9 L493.1 462.9 L494.2 462.9 L495.4 462.9 L496.5 462.9 L497.6 462.9 L498.7 462.9 L499.9 462.9 L501.0 462.9 L502.1 463.0 L503.2 463.0 L504.3 463.0 L505.5 463.0 L506.6 463.0 L507.7 463.0 L508.8 463.0 L509.9 463.0 L511.1 463.0 L512.2 462.9 L513.3 462.9 L514.4 462.9 L515.6 462.9 L516.7 462.8 L517.8 462.8 L518.9 462.7 L520.0 462.6 L521.2 462.5 L522.3 462.4 L523.4 462.2 L524.5 462.0 L525.6 461.7 L526.8 461.4 L527.9 461.0 L529.0 460.6 L530.1 460.1 L531.3 459.5 L532.4 458.9 L533.5 458.2 L534.6 457.5 L535.7 456.7 L536.9 455.8 L538.0 454.9 L539.1 453.9 L540.2 452.9 L541.3 451.9 L542.5 450.8 L543.6 449.6 L544.7 448.5 L545.8 447.2 L547.0 446.0 L548.1 444.6 L549.2 443.2 L550.3 441.6 L551.4 440.0 L552.6 438.2 L553.7 436.3 L554.8 434.2 L555.9 431.9 L557.0 429.6 L558.2 427.1 L559.3 424.4 L560.4 421.7 L561.5 419.0 L562.6 416.2 L563.8 413.5 L564.9 410.8 L566.0 408.3 L567.1 405.9 L568.3 403.8 L569.4 401.8 L570.5 400.0 L571.6 398.5 L572.7 397.1 L573.9 396.0 L575.0 395.0 L576.1 394.1 L577.2 393.4 L578.3 392.7 L579.5 392.0 L580.6 391.4 L581.7 390.8 L582.8 390.2 L584.0 389.6 L585.1 389.2 L586.2 388.8 L587.3 388.6 L588.4 388.7 L589.6 389.0 L590.7 389.6 L591.8 390.7 L592.9 392.1 L594.0 394.0 L595.2 396.3 L596.3 399.0 L597.4 402.2 L598.5 405.6 L599.7 409.4 L600.8 413.4 L601.9 417.6 L603.0 421.8 L604.1 426.0 L605.3 430.2 L606.4 434.2 L607.5 438.0 L608.6 441.6 L609.7 445.0 L610.9 448.0 L612.0 450.7 L613.1 453.2 L614.2 455.3 L615.4 457.1 L616.5 458.7 L617.6 460.0 L618.7 461.1 L619.8 462.1 L621.0 462.8 L622.1 463.4 L623.2 463.9 L624.3 464.2 L625.4 464.5 L626.6 464.8 L627.7 464.9 L628.8 465.1 L629.9 465.2 L631.1 465.2 L632.2 465.3 L633.3 465.3 L634.4 465.4 L635.5 465.4 L636.7 465.4 L637.8 465.4 L638.9 465.4 L640.0 465.4 L641.1 465.4 L642.3 465.4 L643.4 465.4 L644.5 465.5 L645.6 465.5 L646.8 465.5 L647.9 465.5 L649.0 465.5 L650.1 465.5 L651.2 465.5 L652.4 465.5 L653.5 465.5 L654.6 465.5 L655.7 465.5" fill="none" stroke="#3a3a3a" stroke-width="1.5" stroke-linejoin="round" stroke-linecap="round"/>
<path d="M517.8 558.8 L520.0 558.6 L522.3 558.3 L524.5 557.9 L526.8 557.3 L529.0 556.4 L531.3 555.4 L533.5 554.1 L535.7 552.7 L538.0 551.2 L540.2 549.7 L542.5 548.4 L544.7 547.4 L547.0 546.9 L549.2 546.8 L551.4 547.3 L553.7 548.2 L555.9 549.5 L558.2 551.0 L560.4 552.6 L562.6 554.1 L564.9 555.6 L567.1 556.8 L569.4 557.8 L571.6 558.5 L573.9 559.1 L576.1 559.5 L578.3 559.8 L578.3 560.2 L573.9 560.0 L569.4 559.8 L564.9 559.6 L560.4 559.5 L555.9 559.4 L551.4 559.3 L547.0 559.2 L542.5 559.2 L538.0 559.1 L533.5 559.1 L529.0 559.1 L524.5 559.1 L520.0 559.0Z" fill="#3b84e2" fill-opacity="0.8"/>
<path d="M542.5 558.9 L544.7 558.6 L547.0 558.3 L549.2 557.7 L551.4 556.8 L553.7 555.5 L555.9 553.7 L558.2 551.5 L560.4 548.8 L562.6 545.8 L564.9 542.6 L567.1 539.5 L569.4 536.8 L571.6 534.8 L573.9 533.7 L576.1 533.6 L578.3 534.7 L580.6 536.7 L582.8 539.4 L585.1 542.6 L587.3 546.0 L589.6 549.2 L591.8 552.2 L594.0 554.6 L596.3 556.6 L598.5 558.1 L600.8 559.2 L603.0 560.0 L605.3 560.5 L607.5 560.8 L608.6 561.2 L604.1 561.1 L599.7 561.0 L595.2 560.9 L590.7 560.7 L586.2 560.5 L581.7 560.3 L577.2 560.1 L572.7 559.9 L568.3 559.8 L563.8 559.6 L559.3 559.5 L554.8 559.4 L550.3 559.3 L545.8 559.2Z" fill="#3b84e2" fill-opacity="0.8"/>
<path d="M534.6 558.8 L536.9 558.6 L539.1 558.2 L541.3 557.5 L543.6 556.6 L545.8 555.2 L548.1 553.3 L550.3 550.9 L552.6 547.9 L554.8 544.5 L557.0 540.8 L559.3 537.2 L561.5 533.9 L563.8 531.3 L566.0 529.7 L568.3 529.3 L570.5 530.1 L572.7 532.1 L575.0 535.1 L577.2 538.6 L579.5 542.5 L581.7 546.2 L584.0 549.7 L586.2 552.7 L588.4 555.1 L590.7 557.0 L592.9 558.4 L595.2 559.4 L597.4 560.1 L599.7 560.5 L601.9 560.8 L601.9 561.1 L597.4 560.9 L592.9 560.8 L588.4 560.6 L584.0 560.4 L579.5 560.2 L575.0 560.0 L570.5 559.8 L566.0 559.7 L561.5 559.5 L557.0 559.4 L552.6 559.3 L548.1 559.3 L543.6 559.2 L539.1 559.2 L534.6 559.1Z" fill="#e23a36" fill-opacity="0.8"/>
<path d="M555.9 559.1 L558.2 558.9 L560.4 558.5 L562.6 557.9 L564.9 556.9 L567.1 555.2 L569.4 552.9 L571.6 549.7 L573.9 545.4 L576.1 540.1 L578.3 533.8 L580.6 526.9 L582.8 519.8 L585.1 512.9 L587.3 507.1 L589.6 502.8 L591.8 500.5 L594.0 500.6 L596.3 503.0 L598.5 507.5 L600.8 513.5 L603.0 520.4 L605.3 527.8 L607.5 534.8 L609.7 541.2 L612.0 546.6 L614.2 551.0 L616.5 554.4 L618.7 556.8 L621.0 558.5 L623.2 559.7 L625.4 560.4 L627.7 560.8 L629.9 561.1 L629.9 561.4 L625.4 561.4 L621.0 561.3 L616.5 561.3 L612.0 561.3 L607.5 561.2 L603.0 561.1 L598.5 561.0 L594.0 560.8 L589.6 560.6 L585.1 560.4 L580.6 560.3 L576.1 560.1 L571.6 559.9 L567.1 559.7 L562.6 559.6 L558.2 559.5Z" fill="#e23a36" fill-opacity="0.8"/>
<g fill="none" stroke="#b9b9b9" stroke-width="0.6"><circle cx="466.2" cy="558.9" r="1.5"/><circle cx="468.5" cy="557.1" r="1.5"/><circle cx="470.7" cy="556.8" r="1.5"/><circle cx="472.9" cy="560.4" r="1.5"/><circle cx="475.2" cy="559.6" r="1.5"/><circle cx="477.4" cy="557.8" r="1.5"/><circle cx="479.7" cy="557.8" r="1.5"/><circle cx="481.9" cy="558.5" r="1.5"/><circle cx="484.2" cy="559.7" r="1.5"/><circle cx="486.4" cy="558.8" r="1.5"/><circle cx="488.6" cy="560.1" r="1.5"/><circle cx="490.9" cy="558.7" r="1.5"/><circle cx="493.1" cy="557.4" r="1.5"/><circle cx="495.4" cy="559.4" r="1.5"/><circle cx="497.6" cy="559.1" r="1.5"/><circle cx="499.9" cy="560.2" r="1.5"/><circle cx="502.1" cy="559.0" r="1.5"/><circle cx="504.3" cy="558.9" r="1.5"/><circle cx="506.6" cy="559.4" r="1.5"/><circle cx="508.8" cy="558.5" r="1.5"/><circle cx="511.1" cy="558.1" r="1.5"/><circle cx="513.3" cy="559.1" r="1.5"/><circle cx="515.6" cy="558.7" r="1.5"/><circle cx="517.8" cy="560.3" r="1.5"/><circle cx="520.0" cy="555.8" r="1.5"/><circle cx="522.3" cy="556.6" r="1.5"/><circle cx="524.5" cy="558.0" r="1.5"/><circle cx="526.8" cy="558.6" r="1.5"/><circle cx="529.0" cy="555.6" r="1.5"/><circle cx="531.3" cy="555.6" r="1.5"/><circle cx="533.5" cy="554.0" r="1.5"/><circle cx="535.7" cy="552.7" r="1.5"/><circle cx="538.0" cy="550.1" r="1.5"/><circle cx="540.2" cy="548.0" r="1.5"/><circle cx="542.5" cy="548.2" r="1.5"/><circle cx="544.7" cy="543.7" r="1.5"/><circle cx="547.0" cy="541.0" r="1.5"/><circle cx="549.2" cy="538.4" r="1.5"/><circle cx="551.4" cy="536.2" r="1.5"/><circle cx="553.7" cy="530.5" r="1.5"/><circle cx="555.9" cy="527.1" r="1.5"/><circle cx="558.2" cy="522.2" r="1.5"/><circle cx="560.4" cy="517.2" r="1.5"/><circle cx="562.6" cy="512.2" r="1.5"/><circle cx="564.9" cy="506.4" r="1.5"/><circle cx="567.1" cy="502.1" r="1.5"/><circle cx="569.4" cy="495.6" r="1.5"/><circle cx="571.6" cy="496.6" r="1.5"/><circle cx="573.9" cy="491.8" r="1.5"/><circle cx="576.1" cy="489.7" r="1.5"/><circle cx="578.3" cy="489.2" r="1.5"/><circle cx="580.6" cy="487.2" r="1.5"/><circle cx="582.8" cy="486.4" r="1.5"/><circle cx="585.1" cy="484.7" r="1.5"/><circle cx="587.3" cy="487.1" r="1.5"/><circle cx="589.6" cy="485.2" r="1.5"/><circle cx="591.8" cy="490.5" r="1.5"/><circle cx="594.0" cy="492.0" r="1.5"/><circle cx="596.3" cy="497.1" r="1.5"/><circle cx="598.5" cy="503.4" r="1.5"/><circle cx="600.8" cy="509.1" r="1.5"/><circle cx="603.0" cy="520.7" r="1.5"/><circle cx="605.3" cy="526.8" r="1.5"/><circle cx="607.5" cy="534.2" r="1.5"/><circle cx="609.7" cy="539.9" r="1.5"/><circle cx="612.0" cy="546.2" r="1.5"/><circle cx="614.2" cy="549.7" r="1.5"/><circle cx="616.5" cy="553.0" r="1.5"/><circle cx="618.7" cy="557.3" r="1.5"/><circle cx="621.0" cy="558.2" r="1.5"/><circle cx="623.2" cy="560.0" r="1.5"/><circle cx="625.4" cy="561.7" r="1.5"/><circle cx="627.7" cy="560.4" r="1.5"/><circle cx="629.9" cy="560.3" r="1.5"/><circle cx="632.2" cy="561.3" r="1.5"/><circle cx="634.4" cy="561.4" r="1.5"/><circle cx="636.7" cy="561.2" r="1.5"/><circle cx="638.9" cy="560.9" r="1.5"/><circle cx="641.1" cy="561.4" r="1.5"/><circle cx="643.4" cy="561.1" r="1.5"/><circle cx="645.6" cy="560.7" r="1.5"/><circle cx="647.9" cy="562.1" r="1.5"/><circle cx="650.1" cy="562.0" r="1.5"/><circle cx="652.4" cy="561.5" r="1.5"/><circle cx="654.6" cy="562.0" r="1.5"/></g>
<path d="M466.2 558.8 L467.3 558.8 L468.5 558.8 L469.6 558.8 L470.7 558.8 L471.8 558.8 L472.9 558.8 L474.1 558.8 L475.2 558.8 L476.3 558.8 L477.4 558.8 L478.5 558.9 L479.7 558.9 L480.8 558.9 L481.9 558.9 L483.0 558.9 L484.2 558.9 L485.3 558.9 L486.4 558.9 L487.5 558.9 L488.6 558.9 L489.8 558.9 L490.9 558.9 L492.0 558.9 L493.1 558.9 L494.2 558.9 L495.4 558.9 L496.5 558.9 L497.6 558.9 L498.7 558.9 L499.9 558.9 L501.0 558.9 L502.1 559.0 L503.2 559.0 L504.3 559.0 L505.5 559.0 L506.6 559.0 L507.7 559.0 L508.8 559.0 L509.9 559.0 L511.1 559.0 L512.2 558.9 L513.3 558.9 L514.4 558.9 L515.6 558.9 L516.7 558.8 L517.8 558.8 L518.9 558.7 L520.0 558.6 L521.2 558.4 L522.3 558.3 L523.4 558.1 L524.5 557.8 L525.6 557.6 L526.8 557.2 L527.9 556.8 L529.0 556.4 L530.1 555.8 L531.3 555.3 L532.4 554.6 L533.5 553.9 L534.6 553.1 L535.7 552.2 L536.9 551.3 L538.0 550.3 L539.1 549.3 L540.2 548.2 L541.3 547.1 L542.5 546.0 L543.6 544.8 L544.7 543.6 L545.8 542.3 L547.0 540.9 L548.1 539.5 L549.2 538.0 L550.3 536.5 L551.4 534.8 L552.6 533.0 L553.7 531.0 L554.8 529.0 L555.9 526.8 L557.0 524.5 L558.2 522.0 L559.3 519.5 L560.4 516.9 L561.5 514.2 L562.6 511.6 L563.8 509.0 L564.9 506.4 L566.0 504.0 L567.1 501.7 L568.3 499.5 L569.4 497.6 L570.5 495.8 L571.6 494.3 L572.7 492.9 L573.9 491.8 L575.0 490.7 L576.1 489.9 L577.2 489.1 L578.3 488.4 L579.5 487.8 L580.6 487.3 L581.7 486.8 L582.8 486.4 L584.0 486.1 L585.1 485.9 L586.2 485.8 L587.3 485.9 L588.4 486.3 L589.6 486.9 L590.7 487.8 L591.8 489.0 L592.9 490.6 L594.0 492.6 L595.2 494.9 L596.3 497.6 L597.4 500.6 L598.5 504.0 L599.7 507.5 L600.8 511.3 L601.9 515.2 L603.0 519.1 L604.1 523.1 L605.3 527.0 L606.4 530.8 L607.5 534.4 L608.6 537.8 L609.7 541.0 L610.9 543.9 L612.0 546.5 L613.1 548.9 L614.2 551.0 L615.4 552.8 L616.5 554.4 L617.6 555.7 L618.7 556.8 L619.8 557.8 L621.0 558.5 L622.1 559.2 L623.2 559.7 L624.3 560.1 L625.4 560.4 L626.6 560.6 L627.7 560.8 L628.8 561.0 L629.9 561.1 L631.1 561.2 L632.2 561.3 L633.3 561.3 L634.4 561.3 L635.5 561.4 L636.7 561.4 L637.8 561.4 L638.9 561.4 L640.0 561.4 L641.1 561.4 L642.3 561.4 L643.4 561.4 L644.5 561.5 L645.6 561.5 L646.8 561.5 L647.9 561.5 L649.0 561.5 L650.1 561.5 L651.2 561.5 L652.4 561.5 L653.5 561.5 L654.6 561.5 L655.7 561.5" fill="none" stroke="#3a3a3a" stroke-width="1.5" stroke-linejoin="round" stroke-linecap="round"/>
<path d="M516.7 660.7 L518.9 660.5 L521.2 660.2 L523.4 659.8 L525.6 659.2 L527.9 658.4 L530.1 657.3 L532.4 656.1 L534.6 654.6 L536.9 653.0 L539.1 651.4 L541.3 649.9 L543.6 648.7 L545.8 647.9 L548.1 647.6 L550.3 647.8 L552.6 648.5 L554.8 649.6 L557.0 651.0 L559.3 652.6 L561.5 654.3 L563.8 655.8 L566.0 657.2 L568.3 658.3 L570.5 659.2 L572.7 659.9 L575.0 660.5 L577.2 660.8 L579.5 661.1 L579.5 661.4 L575.0 661.3 L570.5 661.3 L566.0 661.2 L561.5 661.2 L557.0 661.1 L552.6 661.1 L548.1 661.1 L543.6 661.0 L539.1 661.0 L534.6 661.0 L530.1 661.0 L525.6 661.0 L521.2 661.0 L516.7 661.0Z" fill="#3b84e2" fill-opacity="0.8"/>
<path d="M540.2 660.7 L542.5 660.5 L544.7 660.2 L547.0 659.6 L549.2 658.9 L551.4 657.7 L553.7 656.2 L555.9 654.2 L558.2 651.8 L560.4 649.0 L562.6 645.9 L564.9 642.7 L567.1 639.7 L569.4 637.0 L571.6 635.1 L573.9 634.0 L576.1 633.9 L578.3 634.8 L580.6 636.7 L582.8 639.2 L585.1 642.2 L587.3 645.5 L589.6 648.7 L591.8 651.6 L594.0 654.2 L596.3 656.3 L598.5 658.0 L600.8 659.2 L603.0 660.1 L605.3 660.7 L607.5 661.1 L609.7 661.4 L609.7 661.7 L605.3 661.7 L600.8 661.7 L596.3 661.6 L591.8 661.5 L587.3 661.5 L582.8 661.4 L578.3 661.4 L573.9 661.3 L569.4 661.2 L564.9 661.2 L560.4 661.1 L555.9 661.1 L551.4 661.1 L547.0 661.1 L542.5 661.0Z" fill="#3b84e2" fill-opacity="0.8"/>
<path d="M532.4 660.7 L534.6 660.5 L536.9 660.2 L539.1 659.6 L541.3 658.9 L543.6 657.7 L545.8 656.1 L548.1 654.1 L550.3 651.5 L552.6 648.5 L554.8 645.1 L557.0 641.6 L559.3 638.1 L561.5 635.1 L563.8 632.6 L566.0 631.1 L568.3 630.7 L570.5 631.5 L572.7 633.2 L575.0 635.9 L577.2 639.1 L579.5 642.7 L581.7 646.2 L584.0 649.6 L586.2 652.6 L588.4 655.0 L590.7 657.0 L592.9 658.5 L595.2 659.6 L597.4 660.4 L599.7 660.9 L601.9 661.2 L603.0 661.7 L598.5 661.6 L594.0 661.6 L589.6 661.5 L585.1 661.5 L580.6 661.4 L576.1 661.3 L571.6 661.3 L567.1 661.2 L562.6 661.2 L558.2 661.1 L553.7 661.1 L549.2 661.1 L544.7 661.0 L540.2 661.0 L535.7 661.0Z" fill="#e23a36" fill-opacity="0.8"/>
<path d="M554.8 660.8 L557.0 660.6 L559.3 660.2 L561.5 659.6 L563.8 658.6 L566.0 657.1 L568.3 655.0 L570.5 652.0 L572.7 648.1 L575.0 643.2 L577.2 637.4 L579.5 630.8 L581.7 623.8 L584.0 617.0 L586.2 610.8 L588.4 605.8 L590.7 602.7 L592.9 601.6 L595.2 602.7 L597.4 605.9 L599.7 610.9 L601.9 617.1 L604.1 624.0 L606.4 631.0 L608.6 637.7 L610.9 643.5 L613.1 648.5 L615.4 652.5 L617.6 655.5 L619.8 657.7 L622.1 659.2 L624.3 660.2 L626.6 660.9 L628.8 661.3 L631.1 661.5 L631.1 661.8 L626.6 661.8 L622.1 661.8 L617.6 661.7 L613.1 661.7 L608.6 661.7 L604.1 661.7 L599.7 661.6 L595.2 661.6 L590.7 661.5 L586.2 661.5 L581.7 661.4 L577.2 661.3 L572.7 661.3 L568.3 661.2 L563.8 661.2 L559.3 661.1 L554.8 661.1Z" fill="#e23a36" fill-opacity="0.8"/>
<g fill="none" stroke="#b9b9b9" stroke-width="0.6"><circle cx="466.2" cy="660.9" r="1.5"/><circle cx="468.5" cy="659.9" r="1.5"/><circle cx="470.7" cy="660.6" r="1.5"/><circle cx="472.9" cy="659.5" r="1.5"/><circle cx="475.2" cy="660.7" r="1.5"/><circle cx="477.4" cy="661.5" r="1.5"/><circle cx="479.7" cy="661.2" r="1.5"/><circle cx="481.9" cy="662.6" r="1.5"/><circle cx="484.2" cy="662.3" r="1.5"/><circle cx="486.4" cy="660.8" r="1.5"/><circle cx="488.6" cy="661.5" r="1.5"/><circle cx="490.9" cy="661.8" r="1.5"/><circle cx="493.1" cy="661.4" r="1.5"/><circle cx="495.4" cy="661.1" r="1.5"/><circle cx="497.6" cy="660.5" r="1.5"/><circle cx="499.9" cy="660.9" r="1.5"/><circle cx="502.1" cy="658.5" r="1.5"/><circle cx="504.3" cy="660.7" r="1.5"/><circle cx="506.6" cy="662.0" r="1.5"/><circle cx="508.8" cy="662.1" r="1.5"/><circle cx="511.1" cy="660.3" r="1.5"/><circle cx="513.3" cy="660.4" r="1.5"/><circle cx="515.6" cy="660.4" r="1.5"/><circle cx="517.8" cy="662.4" r="1.5"/><circle cx="520.0" cy="659.8" r="1.5"/><circle cx="522.3" cy="658.9" r="1.5"/><circle cx="524.5" cy="658.9" r="1.5"/><circle cx="526.8" cy="656.4" r="1.5"/><circle cx="529.0" cy="657.2" r="1.5"/><circle cx="531.3" cy="657.2" r="1.5"/><circle cx="533.5" cy="656.5" r="1.5"/><circle cx="535.7" cy="650.6" r="1.5"/><circle cx="538.0" cy="651.3" r="1.5"/><circle cx="540.2" cy="648.2" r="1.5"/><circle cx="542.5" cy="645.9" r="1.5"/><circle cx="544.7" cy="641.7" r="1.5"/><circle cx="547.0" cy="640.3" r="1.5"/><circle cx="549.2" cy="636.8" r="1.5"/><circle cx="551.4" cy="632.8" r="1.5"/><circle cx="553.7" cy="630.3" r="1.5"/><circle cx="555.9" cy="624.9" r="1.5"/><circle cx="558.2" cy="620.6" r="1.5"/><circle cx="560.4" cy="615.7" r="1.5"/><circle cx="562.6" cy="610.8" r="1.5"/><circle cx="564.9" cy="606.3" r="1.5"/><circle cx="567.1" cy="601.3" r="1.5"/><circle cx="569.4" cy="597.5" r="1.5"/><circle cx="571.6" cy="593.4" r="1.5"/><circle cx="573.9" cy="591.8" r="1.5"/><circle cx="576.1" cy="588.0" r="1.5"/><circle cx="578.3" cy="587.2" r="1.5"/><circle cx="580.6" cy="585.9" r="1.5"/><circle cx="582.8" cy="583.6" r="1.5"/><circle cx="585.1" cy="585.0" r="1.5"/><circle cx="587.3" cy="585.0" r="1.5"/><circle cx="589.6" cy="586.6" r="1.5"/><circle cx="591.8" cy="588.6" r="1.5"/><circle cx="594.0" cy="592.8" r="1.5"/><circle cx="596.3" cy="597.9" r="1.5"/><circle cx="598.5" cy="601.6" r="1.5"/><circle cx="600.8" cy="610.5" r="1.5"/><circle cx="603.0" cy="617.5" r="1.5"/><circle cx="605.3" cy="626.2" r="1.5"/><circle cx="607.5" cy="632.8" r="1.5"/><circle cx="609.7" cy="640.1" r="1.5"/><circle cx="612.0" cy="645.9" r="1.5"/><circle cx="614.2" cy="649.8" r="1.5"/><circle cx="616.5" cy="653.5" r="1.5"/><circle cx="618.7" cy="657.9" r="1.5"/><circle cx="621.0" cy="657.6" r="1.5"/><circle cx="623.2" cy="661.2" r="1.5"/><circle cx="625.4" cy="661.4" r="1.5"/><circle cx="627.7" cy="660.0" r="1.5"/><circle cx="629.9" cy="660.9" r="1.5"/><circle cx="632.2" cy="660.9" r="1.5"/><circle cx="634.4" cy="661.6" r="1.5"/><circle cx="636.7" cy="660.7" r="1.5"/><circle cx="638.9" cy="662.7" r="1.5"/><circle cx="641.1" cy="662.7" r="1.5"/><circle cx="643.4" cy="661.1" r="1.5"/><circle cx="645.6" cy="662.4" r="1.5"/><circle cx="647.9" cy="662.4" r="1.5"/><circle cx="650.1" cy="662.5" r="1.5"/><circle cx="652.4" cy="661.0" r="1.5"/><circle cx="654.6" cy="662.8" r="1.5"/></g>
<path d="M466.2 660.9 L467.3 660.9 L468.5 660.9 L469.6 660.9 L470.7 660.9 L471.8 660.9 L472.9 660.9 L474.1 660.9 L475.2 660.9 L476.3 660.9 L477.4 660.9 L478.5 660.9 L479.7 660.9 L480.8 660.9 L481.9 660.9 L483.0 660.9 L484.2 660.9 L485.3 660.9 L486.4 660.9 L487.5 660.9 L488.6 660.9 L489.8 660.9 L490.9 660.9 L492.0 660.9 L493.1 660.9 L494.2 660.9 L495.4 660.9 L496.5 660.9 L497.6 660.9 L498.7 660.9 L499.9 660.9 L501.0 660.9 L502.1 660.9 L503.2 660.9 L504.3 660.9 L505.5 660.9 L506.6 660.9 L507.7 660.9 L508.8 660.9 L509.9 660.9 L511.1 660.9 L512.2 660.9 L513.3 660.9 L514.4 660.8 L515.6 660.8 L516.7 660.7 L517.8 660.6 L518.9 660.5 L520.0 660.4 L521.2 660.2 L522.3 660.0 L523.4 659.8 L524.5 659.5 L525.6 659.2 L526.8 658.8 L527.9 658.3 L529.0 657.8 L530.1 657.2 L531.3 656.5 L532.4 655.8 L533.5 654.9 L534.6 654.1 L535.7 653.1 L536.9 652.1 L538.0 651.0 L539.1 649.8 L540.2 648.6 L541.3 647.4 L542.5 646.1 L543.6 644.7 L544.7 643.3 L545.8 641.9 L547.0 640.4 L548.1 638.8 L549.2 637.1 L550.3 635.4 L551.4 633.6 L552.6 631.7 L553.7 629.7 L554.8 627.5 L555.9 625.3 L557.0 623.0 L558.2 620.6 L559.3 618.1 L560.4 615.5 L561.5 613.0 L562.6 610.4 L563.8 607.9 L564.9 605.4 L566.0 603.0 L567.1 600.8 L568.3 598.7 L569.4 596.7 L570.5 594.9 L571.6 593.3 L572.7 591.8 L573.9 590.6 L575.0 589.4 L576.1 588.4 L577.2 587.5 L578.3 586.7 L579.5 586.0 L580.6 585.5 L581.7 585.0 L582.8 584.6 L584.0 584.3 L585.1 584.2 L586.2 584.2 L587.3 584.5 L588.4 585.0 L589.6 585.7 L590.7 586.8 L591.8 588.2 L592.9 589.9 L594.0 592.0 L595.2 594.4 L596.3 597.2 L597.4 600.3 L598.5 603.6 L599.7 607.2 L600.8 610.9 L601.9 614.7 L603.0 618.7 L604.1 622.6 L605.3 626.4 L606.4 630.2 L607.5 633.8 L608.6 637.2 L609.7 640.3 L610.9 643.3 L612.0 645.9 L613.1 648.4 L614.2 650.5 L615.4 652.4 L616.5 654.0 L617.6 655.4 L618.7 656.6 L619.8 657.7 L621.0 658.5 L622.1 659.2 L623.2 659.8 L624.3 660.2 L625.4 660.6 L626.6 660.9 L627.7 661.1 L628.8 661.3 L629.9 661.4 L631.1 661.5 L632.2 661.6 L633.3 661.6 L634.4 661.7 L635.5 661.7 L636.7 661.7 L637.8 661.7 L638.9 661.8 L640.0 661.8 L641.1 661.8 L642.3 661.8 L643.4 661.8 L644.5 661.8 L645.6 661.8 L646.8 661.8 L647.9 661.8 L649.0 661.8 L650.1 661.8 L651.2 661.8 L652.4 661.8 L653.5 661.8 L654.6 661.8 L655.7 661.8" fill="none" stroke="#3a3a3a" stroke-width="1.5" stroke-linejoin="round" stroke-linecap="round"/>
<line x1="548.4" y1="452.5" x2="548.4" y2="661.6" stroke="#111" stroke-width="1.1" stroke-dasharray="3.6 2.4"/>
<line x1="568.0" y1="432.0" x2="568.0" y2="660.0" stroke="#111" stroke-width="1.1" stroke-dasharray="3.6 2.4"/>
<line x1="575.2" y1="428.5" x2="575.2" y2="661.6" stroke="#111" stroke-width="1.1" stroke-dasharray="3.6 2.4"/>
<line x1="593.0" y1="401.0" x2="593.0" y2="658.0" stroke="#111" stroke-width="1.1" stroke-dasharray="3.6 2.4"/>
<line x1="466.20" y1="674.30" x2="655.70" y2="674.30" stroke="#222" stroke-width="1.1"/>
<line x1="495.50" y1="674.30" x2="495.50" y2="678.80" stroke="#222" stroke-width="1"/>
<line x1="568.00" y1="674.30" x2="568.00" y2="678.80" stroke="#222" stroke-width="1"/>
<line x1="640.50" y1="674.30" x2="640.50" y2="678.80" stroke="#222" stroke-width="1"/>
<line x1="531.75" y1="674.30" x2="531.75" y2="677.10" stroke="#222" stroke-width="1"/>
<line x1="604.25" y1="674.30" x2="604.25" y2="677.10" stroke="#222" stroke-width="1"/>
<text x="495.5" y="697.4" font-size="14.3" text-anchor="middle" fill="#1a1a1a">205</text>
<text x="568.0" y="697.4" font-size="14.3" text-anchor="middle" fill="#1a1a1a">200</text>
<text x="640.5" y="697.4" font-size="14.3" text-anchor="middle" fill="#1a1a1a">195</text>
<text x="560.4" y="720.7" font-size="14.3" text-anchor="middle" textLength="126.0" lengthAdjust="spacing" fill="#1a1a1a">Binding energy (eV)</text>
<text x="650.2" y="382.3" font-size="14.3" text-anchor="end" textLength="35.0" lengthAdjust="spacing" fill="#1a1a1a">Cl 2p</text>
<text x="477.1" y="458.7" font-size="14.3" textLength="40.0" lengthAdjust="spacing" fill="#1a1a1a">80 nm</text>
<text x="477.1" y="553.6" font-size="14.3" textLength="40.0" lengthAdjust="spacing" fill="#1a1a1a">40 nm</text>
<text x="477.1" y="654.0" font-size="14.3" textLength="32.0" lengthAdjust="spacing" fill="#1a1a1a">0 nm</text>
<text x="509.7" y="429.6" font-size="14.3" letter-spacing="0.2" fill="#1a1a1a">AlCl<tspan dy="3.5" font-size="9">3</tspan><tspan dy="-3.5" font-size="1">&#8203;</tspan></text>
<text x="615.9" y="429.6" font-size="14.3" textLength="32.0" lengthAdjust="spacing" fill="#1a1a1a">NaCl</text>
<path d="M546.0 425.8 L573.0 427.5 L575.2 429.0" fill="none" stroke="#111" stroke-width="1.1" stroke-linejoin="round" stroke-linecap="round"/>
<line x1="534.70" y1="441.20" x2="549.50" y2="449.80" stroke="#111" stroke-width="1.1"/>
<line x1="616.00" y1="416.50" x2="596.40" y2="405.20" stroke="#111" stroke-width="1.1"/>
<line x1="618.00" y1="434.40" x2="570.70" y2="434.40" stroke="#111" stroke-width="1.1"/>
</g>
<g id="pf">
<defs><clipPath id="fclip"><rect x="0" y="0" width="125" height="150"/></clipPath><filter id="fspk" x="0" y="0" width="1" height="1" color-interpolation-filters="sRGB">
<feTurbulence type="fractalNoise" baseFrequency="0.6" numOctaves="2" seed="4" result="n1"/>
<feTurbulence type="fractalNoise" baseFrequency="0.09" numOctaves="2" seed="7" result="n2"/>
<feComposite in="n1" in2="n2" operator="arithmetic" k1="0" k2="0.65" k3="0.35" k4="0" result="nn"/>
<feColorMatrix in="nn" type="matrix" values="1.7 0 0 0 -0.35  1.7 0 0 0 -0.35  1.7 0 0 0 -0.35  0 0 0 0 1" result="ng"/>
<feComposite in="SourceGraphic" in2="ng" operator="arithmetic" k1="0.95" k2="0.52" k3="0" k4="0" result="m"/>
<feGaussianBlur in="m" stdDeviation="0.55" result="mb"/>
<feComposite in="mb" in2="SourceGraphic" operator="in"/>
</filter><filter id="fspkb" x="0" y="0" width="1" height="1" color-interpolation-filters="sRGB">
<feTurbulence type="fractalNoise" baseFrequency="0.5" numOctaves="2" seed="12" result="n1"/>
<feTurbulence type="fractalNoise" baseFrequency="0.07" numOctaves="2" seed="15" result="n2"/>
<feComposite in="n1" in2="n2" operator="arithmetic" k1="0" k2="0.75" k3="0.25" k4="0" result="nn"/>
<feColorMatrix in="nn" type="matrix" values="1.5 0 0 0 -0.25  1.5 0 0 0 -0.25  1.5 0 0 0 -0.25  0 0 0 0 1" result="ng"/>
<feComposite in="SourceGraphic" in2="ng" operator="arithmetic" k1="1.0" k2="0.38" k3="0" k4="0" result="m"/>
<feGaussianBlur in="m" stdDeviation="0.6" result="mb"/>
<feComposite in="mb" in2="SourceGraphic" operator="in"/>
</filter><filter id="fspk2" x="0" y="0" width="1" height="1" color-interpolation-filters="sRGB">
<feTurbulence type="fractalNoise" baseFrequency="0.9" numOctaves="2" seed="9" result="n1"/>
<feTurbulence type="fractalNoise" baseFrequency="0.2" numOctaves="2" seed="12" result="n2"/>
<feComposite in="n1" in2="n2" operator="arithmetic" k1="0" k2="0.65" k3="0.35" k4="0" result="nn"/>
<feColorMatrix in="nn" type="matrix" values="3.2 0 0 0 -1.1  3.2 0 0 0 -1.1  3.2 0 0 0 -1.1  0 0 0 0 1" result="ng"/>
<feComposite in="SourceGraphic" in2="ng" operator="arithmetic" k1="1.1" k2="0.45" k3="0" k4="0" result="m"/>
<feGaussianBlur in="m" stdDeviation="0.5" result="mb"/>
<feComposite in="mb" in2="SourceGraphic" operator="in"/>
</filter><filter id="fspkr" x="0" y="0" width="1" height="1" color-interpolation-filters="sRGB">
<feTurbulence type="fractalNoise" baseFrequency="0.6" numOctaves="2" seed="21" result="n1"/>
<feTurbulence type="fractalNoise" baseFrequency="0.06" numOctaves="2" seed="24" result="n2"/>
<feComposite in="n1" in2="n2" operator="arithmetic" k1="0" k2="0.5" k3="0.5" k4="0" result="nn"/>
<feColorMatrix in="nn" type="matrix" values="1.5 0 0 0 -0.25  1.5 0 0 0 -0.25  1.5 0 0 0 -0.25  0 0 0 0 1" result="ng"/>
<feComposite in="SourceGraphic" in2="ng" operator="arithmetic" k1="0.6" k2="0.76" k3="0" k4="0" result="m"/>
<feGaussianBlur in="m" stdDeviation="0.7" result="mb"/>
<feComposite in="mb" in2="SourceGraphic" operator="in"/>
</filter>
<filter id="frough" x="-10%" y="-5%" width="130%" height="110%">
<feTurbulence type="fractalNoise" baseFrequency="0.2" numOctaves="3" seed="2" result="n"/>
<feDisplacementMap in="SourceGraphic" in2="n" scale="5" xChannelSelector="R" yChannelSelector="G"/>
</filter>
<filter id="frough2" x="-20%" y="-20%" width="140%" height="140%">
<feTurbulence type="fractalNoise" baseFrequency="0.3" numOctaves="3" seed="7" result="n"/>
<feDisplacementMap in="SourceGraphic" in2="n" scale="8" xChannelSelector="R" yChannelSelector="G"/>
</filter>
<filter id="fwav" x="-10%" y="-5%" width="120%" height="110%">
<feTurbulence type="fractalNoise" baseFrequency="0.01 0.035" numOctaves="2" seed="5" result="n"/>
<feDisplacementMap in="SourceGraphic" in2="n" scale="5" xChannelSelector="R" yChannelSelector="G"/>
</filter>
<filter id="fb05" x="-30%" y="-30%" width="160%" height="160%"><feGaussianBlur stdDeviation="0.6"/></filter>
<filter id="fb1" x="-30%" y="-30%" width="160%" height="160%"><feGaussianBlur stdDeviation="1"/></filter>
<filter id="fb2" x="-30%" y="-30%" width="160%" height="160%"><feGaussianBlur stdDeviation="2.2"/></filter>
<filter id="fb4" x="-40%" y="-40%" width="180%" height="180%"><feGaussianBlur stdDeviation="4.5"/></filter>
<filter id="fb8" x="-50%" y="-50%" width="200%" height="200%"><feGaussianBlur stdDeviation="9"/></filter>
<linearGradient id="yel1" x1="0.2" y1="0" x2="0.5" y2="1"><stop offset="0" stop-color="#c6c200"/><stop offset="0.45" stop-color="#b6ae00"/><stop offset="1" stop-color="#b0a805"/></linearGradient>
<linearGradient id="yel2" x1="0.35" y1="0" x2="1" y2="0.1"><stop offset="0" stop-color="#6c6e00"/><stop offset="0.4" stop-color="#807c00"/><stop offset="0.8" stop-color="#8e9000"/><stop offset="1" stop-color="#9a9e00"/></linearGradient><linearGradient id="yel2d" x1="0" y1="0" x2="0" y2="1"><stop offset="0" stop-color="#485000" stop-opacity="0.55"/><stop offset="0.55" stop-color="#485000" stop-opacity="0"/></linearGradient>
<linearGradient id="foil1" x1="0" y1="0" x2="1" y2="0"><stop offset="0" stop-color="#84868a"/><stop offset="0.3" stop-color="#a4a4ac"/><stop offset="0.8" stop-color="#b4b4c0"/><stop offset="1" stop-color="#d8d4e2"/></linearGradient>
<linearGradient id="foil2" x1="0" y1="0" x2="1" y2="0"><stop offset="0" stop-color="#848c88"/><stop offset="0.35" stop-color="#a4aeaa"/><stop offset="0.6" stop-color="#a6aa80"/><stop offset="0.85" stop-color="#a4a440"/><stop offset="1" stop-color="#8a8a1c"/></linearGradient>
<linearGradient id="foilB" x1="0" y1="0" x2="1" y2="0"><stop offset="0" stop-color="#d8d8b0"/><stop offset="0.1" stop-color="#7e7c52"/><stop offset="0.45" stop-color="#8c8668"/><stop offset="0.85" stop-color="#9c9286"/><stop offset="1" stop-color="#d4c8d4"/></linearGradient>
<linearGradient id="foilC" gradientUnits="userSpaceOnUse" x1="8" y1="0" x2="58" y2="0"><stop offset="0" stop-color="#d4d4ac"/><stop offset="0.1" stop-color="#7e7c4c"/><stop offset="0.4" stop-color="#908868"/><stop offset="0.8" stop-color="#a09482"/><stop offset="1" stop-color="#ac9e9a"/></linearGradient>
<linearGradient id="foilD" gradientUnits="userSpaceOnUse" x1="8" y1="0" x2="108" y2="0"><stop offset="0" stop-color="#d4d4ac"/><stop offset="0.05" stop-color="#807c52"/><stop offset="0.2" stop-color="#968a6e"/><stop offset="0.4" stop-color="#a4967e"/><stop offset="0.5" stop-color="#a89a88"/><stop offset="0.64" stop-color="#a0949c"/><stop offset="1" stop-color="#a89cac"/></linearGradient>
</defs>
<text x="717.4" y="381.6" font-size="19" font-weight="bold" fill="#000" stroke="#000" stroke-width="0.8">f</text>
<line x1="747.90" y1="384.60" x2="1262.00" y2="384.60" stroke="#111" stroke-width="1.2"/>
<path d="M1269 384.6 L1259.5 380.6 L1261.5 384.6 L1259.5 388.6Z" fill="#111"/>
<text x="813.7" y="377.7" font-size="14.3" text-anchor="middle" textLength="36.0" lengthAdjust="spacing" fill="#1a1a1a">0 min</text>
<text x="944.2" y="377.7" font-size="14.3" text-anchor="middle" textLength="44.0" lengthAdjust="spacing" fill="#1a1a1a">20 min</text>
<text x="1078.9" y="377.7" font-size="14.3" text-anchor="middle" textLength="44.0" lengthAdjust="spacing" fill="#1a1a1a">40 min</text>
<text x="1205.8" y="377.7" font-size="14.3" text-anchor="middle" textLength="44.0" lengthAdjust="spacing" fill="#1a1a1a">60 min</text>
<text x="728.5" y="467.8" font-size="14.3" text-anchor="middle" textLength="123.0" lengthAdjust="spacing" transform="rotate(-90 728.5 467.8)" fill="#1a1a1a">NaDCA electrolyte</text>
<text x="728.5" y="632.5" font-size="14.3" text-anchor="middle" textLength="102.5" lengthAdjust="spacing" transform="rotate(-90 728.5 632.5)" fill="#1a1a1a">NaCl electrolyte</text>
<g transform="translate(738 393)" clip-path="url(#fclip)"><rect width="125" height="150" fill="url(#yel1)"/><rect x="95" y="-5" width="40" height="70" fill="#cac600" opacity="0.6" filter="url(#fb8)"/><polygon points="0,0 8.6,0 14,150 0,150" fill="#20261a"/><polygon points="0,0 3,0 5,150 0,150" fill="#3c4430" filter="url(#fb1)"/><g filter="url(#fspk)"><polygon points="8.4,0 43.9,0 50.9,150 13.8,150" fill="url(#foil1)"/></g><polygon points="7.2,0 9.4,0 14.8,150 12.6,150" fill="#50543c" filter="url(#fb1)"/><text x="11.5" y="76" font-size="14.3" textLength="109.5" lengthAdjust="spacing" fill="#fff" stroke="#2a2a2a" stroke-width="2" stroke-linejoin="round" paint-order="stroke">Al foil Electrolyte</text><rect x="93.4" y="139.8" width="26.2" height="3.2" fill="#fff"/></g>
<g transform="translate(874.3 393)" clip-path="url(#fclip)"><rect width="125" height="150" fill="url(#yel2)"/><rect width="125" height="150" fill="url(#yel2d)"/><g filter="url(#fb8)"><ellipse cx="94" cy="16" rx="14" ry="11" fill="#7e8a2c" opacity="0.85"/><ellipse cx="80" cy="100" rx="13" ry="30" fill="#8a7a00" opacity="0.6"/><ellipse cx="108" cy="130" rx="26" ry="30" fill="#a6aa00" opacity="0.8"/></g><polygon points="0,0 7.4,0 18,150 0,150" fill="#1c2216"/><polygon points="0,0 3,0 2,60 0,80" fill="#3a4630" filter="url(#fb1)"/><g filter="url(#fspk)"><polygon points="7,0 45.7,0 50,50 54.5,100 60.5,150 17.6,150" fill="url(#foil2)"/></g><g filter="url(#fb4)"><ellipse cx="24" cy="66" rx="7" ry="14" fill="#b8c4c0" opacity="0.75"/><ellipse cx="50" cy="132" rx="8" ry="16" fill="#c4cc40" opacity="0.7"/></g><g filter="url(#fb1)"><polygon points="44.5,0 47.5,0 62,150 58,150" fill="#6c6a14" opacity="0.7"/><polygon points="5,0 9,0 20,150 15.5,150" fill="#2c3424" opacity="0.9"/></g><rect x="93.9" y="139.8" width="26.2" height="3.2" fill="#fff"/></g>
<g transform="translate(1011 393)" clip-path="url(#fclip)"><rect width="125" height="150" fill="#8a9402"/><g filter="url(#fb8)"><ellipse cx="110" cy="15" rx="22" ry="20" fill="#94a20c" opacity="0.8"/><ellipse cx="70" cy="50" rx="10" ry="22" fill="#949c2c" opacity="0.7"/><ellipse cx="92" cy="75" rx="20" ry="30" fill="#848c00" opacity="0.7"/><ellipse cx="95" cy="138" rx="30" ry="14" fill="#869000" opacity="0.6"/></g><polygon points="0,0 14,0 24,150 0,150" fill="#5c6838"/><g filter="url(#fb4)"><ellipse cx="6" cy="60" rx="6" ry="20" fill="#8c9870" opacity="0.8"/><ellipse cx="2" cy="15" rx="4" ry="20" fill="#3c4820" opacity="0.8"/></g><g filter="url(#fspk2)"><polygon points="0,82 6,80 11,100 13,150 0,150" fill="#3c3e34"/></g><g filter="url(#fspkr)"><g filter="url(#fwav)"><polygon points="11,-5 54,-5 65.5,155 21,155" fill="#a8d4b4"/><g filter="url(#fb1)"><polygon points="10.3,-5 15.3,-5 26.0,155 21.0,155" fill="#b8e0c8" opacity="0.9"/><polygon points="14.7,-5 18.7,-5 29.5,155 25.5,155" fill="#c8e890" opacity="0.9"/><polygon points="18.4,-5 21.9,-5 26.3,60 22.8,60" fill="#e87880" opacity="0.95"/><polygon points="25.3,50 29.3,50 36.5,155 32.5,155" fill="#ea7076" opacity="0.95"/><polygon points="26.0,90 29.0,90 33.4,155 30.4,155" fill="#e8c890" opacity="0.8"/><polygon points="22.5,-5 31.5,-5 36.0,60 27.0,60" fill="#8a98e6" opacity="0.9"/><polygon points="27.9,50 38.9,50 43.8,120 32.8,120" fill="#6a84e6" opacity="0.95"/><polygon points="33.5,115 40.5,115 43.3,155 36.3,155" fill="#98a8e0" opacity="0.8"/><polygon points="32.7,-5 36.7,-5 48.0,155 44.0,155" fill="#c8dce0" opacity="0.8"/><polygon points="37.3,10 40.3,10 48.1,120 45.1,120" fill="#f2f044" opacity="0.98"/><polygon points="34.9,-5 37.9,-5 40.4,30 37.4,30" fill="#e8e880" opacity="0.8"/><polygon points="47.8,118 51.3,118 53.9,155 50.4,155" fill="#e8ec60" opacity="0.8"/><polygon points="40.0,-5 45.0,-5 56.4,155 51.4,155" fill="#80e0b0" opacity="0.9"/><polygon points="44.4,-5 47.4,-5 58.9,155 55.9,155" fill="#e8a0b0" opacity="0.7"/><polygon points="46.5,-5 50.5,-5 62.1,155 58.1,155" fill="#98e4a8" opacity="0.9"/><polygon points="49.9,-5 53.9,-5 65.6,155 61.6,155" fill="#dcecd0" opacity="0.9"/></g></g></g><g filter="url(#fb2)"><polygon points="53,0 59.5,0 70.5,150 64,150" fill="#b0c070" opacity="0.75"/><ellipse cx="43" cy="121" rx="5" ry="7" fill="#8c9c70" opacity="0.8"/></g><rect x="93.9" y="139.8" width="26.2" height="3.2" fill="#fff"/></g>
<g transform="translate(1147.1 393)" clip-path="url(#fclip)"><rect width="125" height="150" fill="#7e8c02"/><g filter="url(#fb8)"><ellipse cx="80" cy="12" rx="22" ry="16" fill="#8a9a10" opacity="0.8"/><ellipse cx="100" cy="70" rx="22" ry="35" fill="#768200" opacity="0.6"/><ellipse cx="100" cy="138" rx="28" ry="14" fill="#7c8800" opacity="0.6"/></g><polygon points="0,0 13,0 22,150 0,150" fill="#5a7030"/><g filter="url(#fb4)"><ellipse cx="5" cy="70" rx="5" ry="25" fill="#7c9860" opacity="0.7"/></g><g filter="url(#fspk2)"><polygon points="0,96 5,95 9,120 10,150 0,150" fill="#3c3e34"/></g><g filter="url(#fspkr)"><g filter="url(#fwav)"><polygon points="9.4,-5 56,-5 66,155 17.8,155" fill="#8ccc9c"/><g filter="url(#fb1)"><polygon points="8.9,-5 13.9,-5 23.0,155 18.0,155" fill="#98c8a8" opacity="0.9"/><polygon points="13.2,-5 17.2,-5 26.3,155 22.3,155" fill="#b4dcb8" opacity="0.9"/><polygon points="17.1,-5 20.6,-5 29.9,155 26.4,155" fill="#e8946c" opacity="0.9"/><polygon points="24.0,60 27.0,60 32.5,155 29.5,155" fill="#e87c78" opacity="0.8"/><polygon points="21.5,-5 27.5,-5 31.9,70 25.9,70" fill="#78a4e0" opacity="0.9"/><polygon points="26.6,65 31.6,65 36.8,155 31.8,155" fill="#80c4c8" opacity="0.9"/><polygon points="27.1,-5 32.1,-5 41.6,155 36.6,155" fill="#88d8c0" opacity="0.9"/><polygon points="33.0,30 36.0,30 43.5,155 40.5,155" fill="#e8a080" opacity="0.7"/><polygon points="34.2,-5 37.2,-5 46.8,155 43.8,155" fill="#f4f25c" opacity="0.98"/><polygon points="36.9,-5 40.9,-5 50.7,155 46.7,155" fill="#a0e4b0" opacity="0.9"/><polygon points="40.6,-5 46.6,-5 56.5,155 50.5,155" fill="#74dc98" opacity="0.9"/><polygon points="46.2,-5 50.2,-5 60.3,155 56.3,155" fill="#b0e8a0" opacity="0.9"/><polygon points="49.5,-5 52.5,-5 62.6,155 59.6,155" fill="#e0a890" opacity="0.6"/><polygon points="51.8,-5 55.8,-5 66.0,155 62.0,155" fill="#c8e4b8" opacity="0.9"/></g></g></g><g filter="url(#fb2)"><polygon points="55,0 60.5,0 71,150 65,150" fill="#a0b860" opacity="0.7"/></g><text x="47.6" y="47.9" font-size="14.3" textLength="74" lengthAdjust="spacing" fill="#fff" stroke="#2a2a2a" stroke-width="2" stroke-linejoin="round" paint-order="stroke">Uniform Na</text><text x="47.6" y="63.1" font-size="14.3" textLength="67.6" lengthAdjust="spacing" fill="#fff" stroke="#2a2a2a" stroke-width="2" stroke-linejoin="round" paint-order="stroke">deposition</text><g stroke="#fff" stroke-width="1.5" fill="#fff"><line x1="81.3" y1="37.1" x2="63" y2="24"/><path d="M58.8 20.9 L66.6 22.6 L63.2 27.2Z" stroke="none"/><line x1="82" y1="66.6" x2="66.8" y2="84.2"/><path d="M63.7 87.7 L65 79.9 L69.4 83.6Z" stroke="none"/></g><rect x="92.9" y="139.8" width="26.2" height="3.2" fill="#fff"/></g>
<g transform="translate(738 557)" clip-path="url(#fclip)"><rect width="125" height="150" fill="#11130e"/><g filter="url(#fb8)"><ellipse cx="70" cy="144" rx="11" ry="9" fill="#6e5e3c" opacity="0.85"/><ellipse cx="116" cy="18" rx="6" ry="14" fill="#0c2c3c" opacity="0.7"/><ellipse cx="58" cy="120" rx="5" ry="25" fill="#2c2c10" opacity="0.8"/></g><polygon points="0,30 4,40 17,150 0,150" fill="#1f261a" filter="url(#fb1)"/><g filter="url(#fspkb)"><polygon points="0.5,0 37.8,0 52.6,150 16.7,150 0,22" fill="url(#foilB)"/></g><g filter="url(#fb1)"><polygon points="37.8,0 39,0 53.6,150 52.4,150" fill="#b888cc" opacity="0.6"/><ellipse cx="32" cy="112" rx="3.5" ry="14" fill="#4c4638" opacity="0.7"/><ellipse cx="18" cy="75" rx="5" ry="40" fill="#8c8c48" opacity="0.35"/></g><rect x="95" y="140.8" width="23.7" height="3.4" fill="#fff"/></g>
<g transform="translate(874.3 557)" clip-path="url(#fclip)"><rect width="125" height="150" fill="#11130e"/><g filter="url(#fb4)"><polygon points="58,112 94,134 80,154 60,154" fill="#54441f" opacity="0.85"/><ellipse cx="63.5" cy="137" rx="3.5" ry="12" fill="#946a20" opacity="0.75"/><ellipse cx="118" cy="30" rx="6" ry="10" fill="#0c2838" opacity="0.8"/></g><polygon points="0,0 3.7,0 20,150 0,150" fill="#191d14"/><g filter="url(#fspkb)"><g filter="url(#frough)"><polygon points="3.7,0 44.5,0 47,20 51,42 53,62 60,64 67,70 62,82 58,84 58.5,100 59.3,150 19.9,150" fill="url(#foilC)"/></g></g><g filter="url(#fb1)"><polygon points="3,0 5.2,0 21,150 18.8,150" fill="#dcdcb8" opacity="0.85"/><ellipse cx="34" cy="108" rx="3.5" ry="12" fill="#4c4434" opacity="0.7"/><ellipse cx="62" cy="74" rx="4" ry="5" fill="#c8bcc8" opacity="0.7"/></g><rect x="95" y="140.8" width="23.7" height="3.4" fill="#fff"/></g>
<g transform="translate(1011 557)" clip-path="url(#fclip)"><rect width="125" height="150" fill="#14150f"/><g filter="url(#fb4)"><polygon points="59,98 84,108 108,113 94,124 84,152 58,152" fill="#7c6e4c" opacity="0.9"/><ellipse cx="63" cy="125" rx="4" ry="20" fill="#9a7424" opacity="0.8"/><ellipse cx="67" cy="74" rx="8" ry="8" fill="#b4a484" opacity="0.9"/></g><g filter="url(#fb1)"><path d="M94 152 Q100 136 125 132" stroke="#c4d4b8" stroke-width="2" fill="none"/><path d="M97 152 Q103 139 125 135.5" stroke="#b088b0" stroke-width="1" fill="none"/></g><polygon points="0,0 2,0 20,150 0,150" fill="#191d14"/><g filter="url(#fspkb)"><g filter="url(#frough)"><polygon points="1.9,0 47.6,0 52,18 57,30 57.5,48 62,56 69,59 75,53 79,44 80,32 83,25 89,26 93,36 92,48 94,56 92,66 93,72 88,77 78,77 70,75 62,81 59,96 59.6,150 19.5,150" fill="url(#foilD)"/></g></g><g filter="url(#fb1)"><polygon points="1.2,0 3.4,0 21,150 18.8,150" fill="#dcdcb8" opacity="0.85"/><ellipse cx="40" cy="25" rx="4" ry="3" fill="#b08850" opacity="0.6"/></g><rect x="96" y="140.8" width="23.5" height="3.4" fill="#fff"/></g>
<g transform="translate(1147.1 557)" clip-path="url(#fclip)"><rect width="125" height="150" fill="#17181a"/><g filter="url(#fb4)"><path d="M58 100 Q90 112 127 102 L127 116 Q84 116 80 152 L58 152Z" fill="#626858" opacity="0.85"/><ellipse cx="63" cy="128" rx="4" ry="18" fill="#6a5a28" opacity="0.8"/><ellipse cx="68" cy="92" rx="8" ry="5" fill="#8c8878" opacity="0.8"/></g><ellipse cx="124" cy="153" rx="40" ry="33.5" fill="#0d0f0d"/><g fill="none" filter="url(#fb05)"><ellipse cx="124" cy="153" rx="40" ry="33.5" stroke="#c8d4c8" stroke-width="1.3"/><ellipse cx="124" cy="153" rx="42.3" ry="35.8" stroke="#a878b0" stroke-width="0.9"/><ellipse cx="124" cy="153" rx="37.8" ry="31.3" stroke="#5c7060" stroke-width="0.9"/><ellipse cx="124" cy="153" rx="44.3" ry="37.8" stroke="#90a888" stroke-width="0.7"/></g><polygon points="0,0 2.3,0 19.5,150 0,150" fill="#191d14"/><g filter="url(#fspkb)"><g filter="url(#frough)"><polygon points="2.3,0 50.2,0 54,20 60,38 63,44 70,38 75.5,35 86,35 95.2,37.8 106.4,46.2 121.9,54.7 123.3,64.5 113.5,75.8 109.3,87 103.6,95.5 95.2,97.6 83.9,89.9 72.7,87 64.2,92.7 61,110 58.6,150 19.2,150" fill="url(#foilD)"/></g></g><ellipse cx="71" cy="56.5" rx="9.5" ry="5.5" fill="#17181a" filter="url(#fb1)" transform="rotate(-8 71 56.5)"/><g filter="url(#fb1)"><polygon points="1.6,0 3.8,0 20.5,150 18.3,150" fill="#dcdcb8" opacity="0.85"/></g><text x="43.3" y="15" font-size="14.3" textLength="79.5" lengthAdjust="spacing" fill="#fff">Dendritic Na</text><text x="49.7" y="30.8" font-size="14.3" textLength="67.5" lengthAdjust="spacing" fill="#fff">deposition</text><g stroke="#fff" stroke-width="1.5" fill="#fff"><line x1="90.9" y1="35" x2="91.2" y2="53"/><path d="M91.4 59.6 L88.3 52 L94.3 52Z" stroke="none"/></g><rect x="94.6" y="140.8" width="23.3" height="3.4" fill="#fff"/></g>
</g>
<g id="pg">
<text x="10.5" y="774.2" font-size="19" font-weight="bold" fill="#000" stroke="#000" stroke-width="0.8">g</text>
<line x1="69.60" y1="773.40" x2="69.60" y2="1055.00" stroke="#5a5a5a" stroke-width="1.05"/>
<line x1="69.10" y1="1054.50" x2="398.50" y2="1054.50" stroke="#5a5a5a" stroke-width="1.1"/>
<line x1="64.10" y1="1009.55" x2="69.60" y2="1009.55" stroke="#444" stroke-width="1"/><line x1="64.10" y1="953.30" x2="69.60" y2="953.30" stroke="#444" stroke-width="1"/><line x1="64.10" y1="897.05" x2="69.60" y2="897.05" stroke="#444" stroke-width="1"/><line x1="64.10" y1="840.80" x2="69.60" y2="840.80" stroke="#444" stroke-width="1"/><line x1="64.10" y1="784.55" x2="69.60" y2="784.55" stroke="#444" stroke-width="1"/><line x1="66.60" y1="1037.67" x2="69.60" y2="1037.67" stroke="#444" stroke-width="1"/><line x1="66.60" y1="981.42" x2="69.60" y2="981.42" stroke="#444" stroke-width="1"/><line x1="66.60" y1="925.17" x2="69.60" y2="925.17" stroke="#444" stroke-width="1"/><line x1="66.60" y1="868.92" x2="69.60" y2="868.92" stroke="#444" stroke-width="1"/><line x1="66.60" y1="812.67" x2="69.60" y2="812.67" stroke="#444" stroke-width="1"/>
<line x1="84.70" y1="1054.50" x2="84.70" y2="1059.80" stroke="#444" stroke-width="1"/><line x1="144.52" y1="1054.50" x2="144.52" y2="1059.80" stroke="#444" stroke-width="1"/><line x1="204.34" y1="1054.50" x2="204.34" y2="1059.80" stroke="#444" stroke-width="1"/><line x1="264.16" y1="1054.50" x2="264.16" y2="1059.80" stroke="#444" stroke-width="1"/><line x1="323.98" y1="1054.50" x2="323.98" y2="1059.80" stroke="#444" stroke-width="1"/><line x1="383.80" y1="1054.50" x2="383.80" y2="1059.80" stroke="#444" stroke-width="1"/><line x1="114.61" y1="1054.50" x2="114.61" y2="1057.50" stroke="#444" stroke-width="1"/><line x1="174.43" y1="1054.50" x2="174.43" y2="1057.50" stroke="#444" stroke-width="1"/><line x1="234.25" y1="1054.50" x2="234.25" y2="1057.50" stroke="#444" stroke-width="1"/><line x1="294.07" y1="1054.50" x2="294.07" y2="1057.50" stroke="#444" stroke-width="1"/><line x1="353.89" y1="1054.50" x2="353.89" y2="1057.50" stroke="#444" stroke-width="1"/>
<text x="58.5" y="1014.4" font-size="14.3" text-anchor="end" fill="#1a1a1a">–1.0</text>
<text x="58.5" y="958.2" font-size="14.3" text-anchor="end" fill="#1a1a1a">0</text>
<text x="58.5" y="901.9" font-size="14.3" text-anchor="end" fill="#1a1a1a">1.0</text>
<text x="58.5" y="845.7" font-size="14.3" text-anchor="end" fill="#1a1a1a">2.0</text>
<text x="58.5" y="789.4" font-size="14.3" text-anchor="end" fill="#1a1a1a">3.0</text>
<text x="84.7" y="1077.2" font-size="14.3" text-anchor="middle" fill="#1a1a1a">0</text>
<text x="144.5" y="1077.2" font-size="14.3" text-anchor="middle" fill="#1a1a1a">0.2</text>
<text x="204.3" y="1077.2" font-size="14.3" text-anchor="middle" fill="#1a1a1a">0.4</text>
<text x="264.2" y="1077.2" font-size="14.3" text-anchor="middle" fill="#1a1a1a">0.6</text>
<text x="324.0" y="1077.2" font-size="14.3" text-anchor="middle" fill="#1a1a1a">0.8</text>
<text x="383.8" y="1077.2" font-size="14.3" text-anchor="middle" fill="#1a1a1a">1.0</text>
<text x="19.5" y="914.0" font-size="14.3" text-anchor="middle" textLength="69.0" lengthAdjust="spacing" transform="rotate(-90 19.5 914.0)" fill="#1a1a1a">Voltage (V)</text>
<text x="234.4" y="1100.0" font-size="14.3" text-anchor="middle" letter-spacing="0.15" fill="#1a1a1a">Capacity (mAh cm<tspan dy="-5.6" font-size="9.6" letter-spacing="-0.3">−2</tspan><tspan dy="5.6" font-size="1"> </tspan>)</text>
<line x1="83.70" y1="798.60" x2="99.50" y2="798.60" stroke="#5a5a5a" stroke-width="1.4"/>
<text x="107.2" y="803.2" font-size="14.3" letter-spacing="0.15" fill="#1a1a1a">10 mA cm<tspan dy="-5.6" font-size="9.6" letter-spacing="-0.3">−2</tspan><tspan dy="5.6" font-size="1"> </tspan></text>
<line x1="83.70" y1="818.70" x2="99.50" y2="818.70" stroke="#1f6fdc" stroke-width="1.4"/>
<text x="107.2" y="823.3" font-size="14.3" letter-spacing="0.15" fill="#1a1a1a">30 mA cm<tspan dy="-5.6" font-size="9.6" letter-spacing="-0.3">−2</tspan><tspan dy="5.6" font-size="1"> </tspan></text>
<line x1="83.70" y1="838.70" x2="99.50" y2="838.70" stroke="#b374e6" stroke-width="1.4"/>
<text x="107.2" y="843.3" font-size="14.3" letter-spacing="0.15" fill="#1a1a1a">50 mA cm<tspan dy="-5.6" font-size="9.6" letter-spacing="-0.3">−2</tspan><tspan dy="5.6" font-size="1"> </tspan></text>
<line x1="217.00" y1="798.60" x2="232.10" y2="798.60" stroke="#d9282a" stroke-width="1.4"/>
<text x="239.1" y="803.2" font-size="14.3" letter-spacing="0.15" fill="#1a1a1a">20 mA cm<tspan dy="-5.6" font-size="9.6" letter-spacing="-0.3">−2</tspan><tspan dy="5.6" font-size="1"> </tspan></text>
<line x1="217.00" y1="818.70" x2="232.10" y2="818.70" stroke="#35a567" stroke-width="1.4"/>
<text x="239.1" y="823.3" font-size="14.3" letter-spacing="0.15" fill="#1a1a1a">40 mA cm<tspan dy="-5.6" font-size="9.6" letter-spacing="-0.3">−2</tspan><tspan dy="5.6" font-size="1"> </tspan></text>
<line x1="217.00" y1="838.70" x2="232.10" y2="838.70" stroke="#f5a900" stroke-width="1.4"/>
<text x="239.1" y="843.3" font-size="14.3" letter-spacing="0.15" fill="#1a1a1a">60 mA cm<tspan dy="-5.6" font-size="9.6" letter-spacing="-0.3">−2</tspan><tspan dy="5.6" font-size="1"> </tspan></text>
<path d="M84.7 929.1 L87.2 929.5 L89.8 929.9 L92.3 930.1 L94.9 930.3 L97.5 930.5 L100.0 930.7 L102.6 930.8 L105.2 931.0 L107.8 931.1 L110.3 931.2 L112.9 931.3 L115.5 931.4 L118.0 931.5 L120.6 931.5 L123.2 931.6 L125.7 931.6 L128.3 931.7 L130.9 931.7 L133.5 931.8 L136.0 931.8 L138.6 931.8 L141.2 931.9 L143.8 931.9 L146.3 932.0 L148.9 932.0 L151.5 932.0 L154.0 932.1 L156.6 932.1 L159.2 932.1 L161.8 932.2 L164.3 932.2 L166.9 932.3 L169.5 932.3 L172.0 932.3 L174.6 932.4 L177.2 932.4 L179.8 932.4 L182.3 932.5 L184.9 932.5 L187.5 932.5 L190.0 932.5 L192.6 932.6 L195.2 932.6 L197.8 932.6 L200.3 932.6 L202.9 932.6 L205.5 932.6 L208.1 932.6 L210.6 932.6 L213.2 932.6 L215.8 932.6 L218.3 932.6 L220.9 932.6 L223.5 932.5 L226.1 932.5 L228.6 932.5 L231.2 932.5 L233.8 932.5 L236.3 932.5 L238.9 932.4 L241.5 932.4 L244.1 932.4 L246.6 932.3 L249.2 932.3 L251.8 932.2 L254.4 932.2 L256.9 932.1 L259.5 932.0 L262.1 932.0 L264.6 931.9 L267.2 931.9 L269.8 931.8 L272.4 931.7 L274.9 931.7 L277.5 931.6 L280.1 931.5 L282.6 931.5 L285.2 931.4 L287.8 931.3 L290.4 931.2 L292.9 931.1 L295.5 931.0 L298.1 930.9 L300.6 930.8 L303.2 930.7 L305.8 930.5 L308.3 930.4 L310.9 930.2 L313.5 930.0 L316.0 929.8 L318.6 929.6 L321.2 929.4 L323.7 929.1 L326.3 928.9 L328.8 928.6 L331.4 928.2 L333.9 927.8 L336.5 927.4 L339.0 926.9 L341.5 926.3 L344.0 925.5 L346.4 924.7 L348.7 923.7 L351.0 922.4 L353.1 920.8 L354.9 919.1 L356.5 917.0 L357.9 914.8 L359.1 912.5 L360.1 910.2 L361.0 907.7 L361.8 905.3 L362.4 902.8 L362.8 900.2 L363.0 897.7 L363.1 895.1 L363.2 892.6 L363.2 890.0 L363.3 887.4 L363.4 884.8 L363.4 882.3 L363.5 879.7 L363.5 877.1 L363.6 874.5 L363.7 872.0 L363.8 869.4 L363.8 866.8 L363.9 864.3 L363.9 861.7 L364.0 859.1 L364.1 856.5 L364.1 854.0 L364.2 851.4 L364.3 848.8 L364.4 846.3 L364.4 843.7 L364.5 841.1 L364.6 838.5 L364.7 836.0 L364.9 833.4 L365.0 830.8 L365.1 828.3 L365.2 825.7 L365.3 823.1 L365.4 820.6 L365.5 818.0 L365.6 815.4 L365.7 812.8 L365.7 810.3 L365.8 807.7 L365.8 805.1 L365.9 802.6 L365.9 800.0 L365.9 797.4 L365.9 794.8 L365.9 792.3 L365.9 789.7 L365.9 787.1 L365.9 784.5" fill="none" stroke="#5a5a5a" stroke-width="1.3" stroke-linejoin="round" stroke-linecap="round"/>
<path d="M84.7 917.3 L87.1 918.0 L89.5 918.5 L92.0 918.8 L94.5 919.0 L96.9 919.1 L99.4 919.2 L101.9 919.3 L104.4 919.4 L106.9 919.4 L109.4 919.5 L111.9 919.5 L114.3 919.5 L116.8 919.6 L119.3 919.6 L121.8 919.7 L124.3 919.7 L126.8 919.7 L129.3 919.8 L131.7 919.8 L134.2 919.8 L136.7 919.9 L139.2 919.9 L141.7 919.9 L144.2 919.9 L146.7 920.0 L149.1 920.0 L151.6 920.0 L154.1 920.0 L156.6 920.1 L159.1 920.1 L161.6 920.1 L164.0 920.1 L166.5 920.2 L169.0 920.2 L171.5 920.2 L174.0 920.2 L176.5 920.3 L179.0 920.3 L181.4 920.3 L183.9 920.3 L186.4 920.3 L188.9 920.3 L191.4 920.4 L193.9 920.4 L196.4 920.4 L198.8 920.4 L201.3 920.4 L203.8 920.4 L206.3 920.4 L208.8 920.4 L211.3 920.4 L213.8 920.4 L216.2 920.3 L218.7 920.3 L221.2 920.3 L223.7 920.3 L226.2 920.2 L228.7 920.2 L231.2 920.2 L233.6 920.1 L236.1 920.1 L238.6 920.0 L241.1 920.0 L243.6 919.9 L246.1 919.9 L248.6 919.8 L251.0 919.7 L253.5 919.6 L256.0 919.6 L258.5 919.5 L261.0 919.4 L263.5 919.3 L265.9 919.2 L268.4 919.1 L270.9 919.0 L273.4 918.9 L275.9 918.7 L278.4 918.6 L280.8 918.5 L283.3 918.3 L285.8 918.2 L288.3 918.0 L290.8 917.8 L293.2 917.6 L295.7 917.5 L298.2 917.2 L300.7 917.0 L303.1 916.8 L305.6 916.5 L308.1 916.3 L310.6 916.0 L313.0 915.7 L315.5 915.4 L318.0 915.1 L320.4 914.7 L322.9 914.4 L325.3 914.0 L327.8 913.6 L330.3 913.2 L332.7 912.7 L335.1 912.2 L337.6 911.6 L340.1 910.9 L342.6 910.1 L344.9 909.2 L346.7 908.0 L348.2 906.3 L349.4 903.9 L350.6 901.6 L351.7 899.4 L352.8 897.1 L353.9 894.9 L354.9 892.6 L355.9 890.3 L357.1 888.0 L357.8 885.7 L358.0 883.3 L358.2 880.9 L358.3 878.5 L358.4 876.0 L358.5 873.5 L358.6 871.0 L358.7 868.5 L358.7 865.9 L358.8 863.4 L358.9 860.9 L358.9 858.4 L359.0 855.9 L359.1 853.4 L359.2 851.0 L359.3 848.5 L359.4 846.0 L359.5 843.5 L359.6 841.0 L359.7 838.5 L359.8 836.0 L359.8 833.6 L359.9 831.1 L360.0 828.6 L360.1 826.1 L360.2 823.6 L360.3 821.1 L360.4 818.7 L360.4 816.2 L360.5 813.7 L360.6 811.2 L360.7 808.7 L360.8 806.2 L360.8 803.8 L360.9 801.3 L361.0 798.8 L361.1 796.3 L361.2 793.8 L361.3 791.3 L361.4 788.9 L361.6 786.4 L361.7 783.9 L361.8 781.4 L362.0 778.9" fill="none" stroke="#d9282a" stroke-width="1.3" stroke-linejoin="round" stroke-linecap="round"/>
<path d="M84.7 906.3 L87.0 906.7 L89.3 907.1 L91.7 907.2 L94.0 907.4 L96.3 907.5 L98.6 907.6 L101.0 907.7 L103.3 907.8 L105.7 907.8 L108.0 907.9 L110.4 907.9 L112.7 908.0 L115.0 908.0 L117.4 908.1 L119.7 908.1 L122.0 908.1 L124.4 908.2 L126.7 908.2 L129.1 908.2 L131.4 908.2 L133.7 908.3 L136.1 908.3 L138.4 908.3 L140.8 908.3 L143.1 908.3 L145.4 908.3 L147.8 908.3 L150.1 908.3 L152.5 908.3 L154.8 908.3 L157.1 908.3 L159.5 908.3 L161.8 908.3 L164.1 908.3 L166.5 908.3 L168.8 908.3 L171.2 908.3 L173.5 908.3 L175.8 908.3 L178.2 908.3 L180.5 908.3 L182.9 908.3 L185.2 908.3 L187.5 908.3 L189.9 908.3 L192.2 908.3 L194.6 908.3 L196.9 908.3 L199.2 908.3 L201.6 908.3 L203.9 908.3 L206.2 908.3 L208.6 908.3 L210.9 908.3 L213.3 908.2 L215.6 908.2 L217.9 908.1 L220.3 908.1 L222.6 908.0 L225.0 908.0 L227.3 907.9 L229.6 907.9 L232.0 907.8 L234.3 907.7 L236.6 907.7 L239.0 907.6 L241.3 907.5 L243.7 907.5 L246.0 907.4 L248.3 907.3 L250.7 907.2 L253.0 907.1 L255.3 907.0 L257.7 906.9 L260.0 906.8 L262.4 906.7 L264.7 906.6 L267.0 906.5 L269.4 906.3 L271.7 906.2 L274.0 906.1 L276.4 905.9 L278.7 905.8 L281.0 905.6 L283.4 905.5 L285.7 905.3 L288.0 905.1 L290.4 905.0 L292.7 904.8 L295.0 904.6 L297.4 904.4 L299.7 904.1 L302.0 903.9 L304.4 903.7 L306.7 903.4 L309.0 903.1 L311.3 902.9 L313.7 902.6 L316.0 902.2 L318.3 901.9 L320.6 901.6 L322.9 901.2 L325.2 900.8 L327.5 900.3 L329.8 899.7 L332.1 899.1 L334.3 898.4 L336.5 897.7 L338.8 896.9 L341.0 895.8 L342.9 894.7 L344.4 893.2 L345.6 891.2 L346.7 889.0 L347.6 886.7 L348.4 884.5 L349.1 882.3 L349.7 880.0 L350.3 877.7 L350.8 875.4 L351.3 873.1 L351.6 870.8 L352.0 868.5 L352.3 866.2 L352.6 863.9 L352.9 861.6 L353.2 859.2 L353.4 856.9 L353.7 854.6 L353.9 852.2 L354.1 849.9 L354.2 847.6 L354.4 845.3 L354.6 842.9 L354.7 840.6 L354.9 838.2 L355.0 835.9 L355.1 833.6 L355.3 831.2 L355.4 828.9 L355.6 826.6 L355.7 824.2 L355.8 821.9 L355.9 819.6 L356.0 817.2 L356.2 814.9 L356.3 812.6 L356.4 810.2 L356.5 807.9 L356.6 805.6 L356.8 803.2 L356.9 800.9 L357.1 798.5 L357.2 796.2 L357.4 793.9 L357.5 791.5 L357.7 789.2 L357.9 786.9 L358.1 784.5" fill="none" stroke="#1f6fdc" stroke-width="1.3" stroke-linejoin="round" stroke-linecap="round"/>
<path d="M84.7 895.4 L86.9 895.6 L89.2 895.8 L91.4 896.0 L93.7 896.1 L95.9 896.3 L98.2 896.4 L100.4 896.5 L102.6 896.6 L104.9 896.7 L107.1 896.8 L109.4 896.9 L111.6 897.0 L113.9 897.0 L116.1 897.1 L118.4 897.2 L120.6 897.2 L122.9 897.3 L125.1 897.3 L127.4 897.4 L129.6 897.4 L131.9 897.5 L134.1 897.5 L136.4 897.6 L138.6 897.6 L140.9 897.6 L143.1 897.6 L145.4 897.6 L147.6 897.6 L149.9 897.6 L152.1 897.6 L154.4 897.6 L156.6 897.6 L158.9 897.6 L161.1 897.6 L163.4 897.6 L165.6 897.6 L167.9 897.6 L170.1 897.6 L172.4 897.5 L174.6 897.5 L176.9 897.5 L179.1 897.5 L181.4 897.5 L183.6 897.5 L185.9 897.5 L188.1 897.5 L190.4 897.4 L192.6 897.4 L194.8 897.4 L197.1 897.4 L199.3 897.4 L201.6 897.4 L203.8 897.3 L206.1 897.3 L208.3 897.3 L210.6 897.2 L212.8 897.2 L215.1 897.1 L217.3 897.1 L219.6 897.0 L221.8 896.9 L224.1 896.9 L226.3 896.8 L228.6 896.7 L230.8 896.6 L233.1 896.5 L235.3 896.4 L237.6 896.4 L239.8 896.3 L242.1 896.2 L244.3 896.1 L246.6 896.0 L248.8 895.9 L251.0 895.8 L253.3 895.7 L255.5 895.6 L257.8 895.4 L260.0 895.3 L262.3 895.2 L264.5 895.1 L266.8 894.9 L269.0 894.8 L271.3 894.7 L273.5 894.5 L275.8 894.4 L278.0 894.2 L280.2 894.0 L282.5 893.9 L284.7 893.7 L287.0 893.5 L289.2 893.3 L291.4 893.1 L293.7 892.9 L295.9 892.6 L298.2 892.4 L300.4 892.1 L302.6 891.8 L304.9 891.5 L307.1 891.2 L309.3 890.9 L311.6 890.5 L313.8 890.1 L316.0 889.7 L318.2 889.3 L320.4 888.8 L322.6 888.4 L324.8 887.9 L326.9 887.3 L329.1 886.6 L331.2 885.8 L333.3 885.0 L335.4 884.1 L337.4 883.1 L339.4 882.0 L341.4 880.8 L343.1 879.4 L344.5 877.8 L345.9 875.9 L347.1 873.9 L347.9 871.8 L348.4 869.7 L348.9 867.6 L349.3 865.3 L349.6 863.1 L349.9 860.8 L350.2 858.5 L350.5 856.3 L350.7 854.1 L351.0 851.8 L351.2 849.6 L351.4 847.4 L351.6 845.1 L351.8 842.9 L352.0 840.6 L352.1 838.4 L352.3 836.1 L352.5 833.9 L352.7 831.7 L352.8 829.4 L353.0 827.2 L353.1 824.9 L353.3 822.7 L353.4 820.4 L353.5 818.2 L353.7 815.9 L353.8 813.7 L354.0 811.5 L354.1 809.2 L354.2 807.0 L354.3 804.7 L354.5 802.5 L354.6 800.2 L354.7 798.0 L354.9 795.7 L355.0 793.5 L355.2 791.3 L355.5 789.0 L355.7 786.8 L356.0 784.5" fill="none" stroke="#35a567" stroke-width="1.3" stroke-linejoin="round" stroke-linecap="round"/>
<path d="M84.7 883.5 L86.9 883.9 L89.0 884.2 L91.2 884.4 L93.4 884.6 L95.6 884.7 L97.8 884.9 L100.0 885.0 L102.2 885.1 L104.3 885.2 L106.5 885.3 L108.7 885.4 L110.9 885.4 L113.1 885.5 L115.3 885.5 L117.5 885.6 L119.7 885.6 L121.9 885.6 L124.1 885.7 L126.3 885.7 L128.5 885.7 L130.7 885.7 L132.9 885.7 L135.1 885.8 L137.2 885.8 L139.4 885.8 L141.6 885.8 L143.8 885.8 L146.0 885.8 L148.2 885.8 L150.4 885.8 L152.6 885.8 L154.8 885.8 L157.0 885.8 L159.2 885.8 L161.4 885.7 L163.6 885.7 L165.8 885.7 L168.0 885.7 L170.1 885.7 L172.3 885.7 L174.5 885.6 L176.7 885.6 L178.9 885.6 L181.1 885.6 L183.3 885.5 L185.5 885.5 L187.7 885.5 L189.9 885.5 L192.1 885.4 L194.3 885.4 L196.5 885.4 L198.7 885.3 L200.9 885.3 L203.0 885.3 L205.2 885.2 L207.4 885.2 L209.6 885.1 L211.8 885.1 L214.0 885.0 L216.2 884.9 L218.4 884.8 L220.6 884.8 L222.8 884.7 L225.0 884.6 L227.2 884.5 L229.3 884.4 L231.5 884.2 L233.7 884.1 L235.9 884.0 L238.1 883.9 L240.3 883.8 L242.5 883.6 L244.7 883.5 L246.9 883.3 L249.0 883.1 L251.2 883.0 L253.4 882.8 L255.6 882.6 L257.8 882.4 L260.0 882.2 L262.2 882.0 L264.3 881.8 L266.5 881.6 L268.7 881.4 L270.9 881.2 L273.1 881.0 L275.3 880.8 L277.4 880.6 L279.6 880.3 L281.8 880.1 L284.0 879.8 L286.2 879.5 L288.3 879.3 L290.5 879.0 L292.7 878.7 L294.9 878.4 L297.0 878.1 L299.2 877.7 L301.4 877.4 L303.6 877.0 L305.7 876.7 L307.9 876.3 L310.1 875.8 L312.2 875.4 L314.3 874.9 L316.4 874.4 L318.5 873.8 L320.6 873.2 L322.7 872.5 L324.8 871.7 L326.9 870.9 L328.9 869.9 L330.9 869.0 L332.7 867.9 L334.6 866.8 L336.4 865.5 L338.2 864.0 L339.7 862.5 L341.0 860.8 L342.1 859.0 L343.1 857.0 L344.0 854.9 L344.7 852.8 L345.3 850.7 L345.8 848.6 L346.2 846.5 L346.6 844.3 L347.0 842.1 L347.3 839.9 L347.6 837.7 L347.9 835.6 L348.2 833.4 L348.4 831.2 L348.7 829.0 L348.9 826.9 L349.1 824.7 L349.3 822.5 L349.5 820.3 L349.7 818.1 L349.9 815.9 L350.1 813.8 L350.3 811.6 L350.5 809.4 L350.7 807.2 L350.9 805.0 L351.1 802.8 L351.3 800.6 L351.5 798.5 L351.7 796.3 L351.8 794.1 L352.0 791.9 L352.2 789.7 L352.4 787.5 L352.6 785.3 L352.8 783.2 L353.0 781.0 L353.2 778.8 L353.4 776.6 L353.6 774.4" fill="none" stroke="#b374e6" stroke-width="1.3" stroke-linejoin="round" stroke-linecap="round"/>
<path d="M84.7 920.1 L86.5 920.6 L88.3 921.2 L90.1 921.7 L92.0 921.9 L93.9 921.9 L95.7 922.0 L97.6 922.0 L99.5 922.1 L101.4 922.2 L103.3 922.4 L105.2 922.7 L107.0 922.9 L108.9 922.9 L110.8 922.9 L112.7 922.9 L114.6 922.9 L116.4 922.9 L118.3 922.9 L120.2 923.0 L122.1 923.0 L124.0 923.0 L125.9 923.0 L127.7 923.1 L129.6 923.1 L131.5 923.2 L133.4 923.2 L135.3 923.3 L137.2 923.3 L139.0 923.4 L140.9 923.4 L142.8 923.4 L144.7 923.5 L146.6 923.5 L148.5 923.6 L150.3 923.6 L152.2 923.7 L154.1 923.7 L156.0 923.8 L157.9 923.8 L159.7 923.9 L161.6 923.9 L163.5 924.0 L165.4 924.0 L167.3 924.1 L169.2 924.1 L171.0 924.2 L172.9 924.2 L174.8 924.3 L176.7 924.4 L178.6 924.4 L180.5 924.5 L182.3 924.5 L184.2 924.6 L186.1 924.6 L188.0 924.7 L189.9 924.8 L191.7 924.8 L193.6 924.9 L195.5 924.9 L197.4 925.0 L199.3 925.0 L201.2 925.1 L203.0 925.1 L204.9 925.2 L206.8 925.2 L208.7 925.3 L210.6 925.4 L212.5 925.4 L214.3 925.5 L216.2 925.5 L218.1 925.6 L220.0 925.6 L221.9 925.7 L223.8 925.7 L225.6 925.8 L227.5 925.8 L229.4 925.9 L231.3 926.0 L233.2 926.0 L235.0 926.1 L236.9 926.1 L238.8 926.2 L240.7 926.2 L242.6 926.3 L244.5 926.3 L246.3 926.4 L248.2 926.4 L250.1 926.5 L252.0 926.5 L253.9 926.6 L255.8 926.6 L257.6 926.7 L259.5 926.7 L261.4 926.8 L263.3 926.8 L265.2 926.9 L267.1 926.9 L268.9 927.0 L270.8 927.0 L272.7 927.1 L274.6 927.1 L276.5 927.2 L278.4 927.2 L280.2 927.3 L282.1 927.3 L284.0 927.4 L285.9 927.4 L287.8 927.5 L289.6 927.5 L291.5 927.5 L293.4 927.6 L295.3 927.6 L297.2 927.7 L299.1 927.7 L300.9 927.8 L302.8 927.8 L304.7 927.9 L306.6 927.9 L308.5 927.9 L310.4 928.0 L312.2 928.0 L314.1 928.1 L316.0 928.1 L317.9 928.1 L319.8 928.2 L321.7 928.2 L323.5 928.3 L325.4 928.3 L327.3 928.3 L329.2 928.4 L331.1 928.4 L333.0 928.5 L334.8 928.5 L336.7 928.5 L338.6 928.6 L340.5 928.6 L342.4 928.6 L344.3 928.7 L346.1 928.7 L348.0 928.7 L349.9 928.8 L351.8 928.8 L353.7 928.8 L355.6 928.9 L357.4 928.9 L359.3 928.9 L361.2 928.9 L363.1 928.9 L365.0 929.0 L366.9 929.0 L368.7 929.0 L370.6 929.0 L372.5 929.0 L374.4 929.1 L376.3 929.1 L378.1 929.1 L380.0 929.1 L381.9 929.1 L383.8 929.1" fill="none" stroke="#f5a900" stroke-width="1.3" stroke-linejoin="round" stroke-linecap="round"/>
<path d="M84.7 978.6 L85.3 976.6 L86.4 975.4 L88.3 974.8 L90.1 974.7 L92.0 974.7 L93.9 974.7 L95.9 974.7 L97.8 974.7 L99.7 974.7 L101.6 974.7 L103.5 974.7 L105.4 974.7 L107.3 974.7 L109.2 974.7 L111.1 974.7 L113.0 974.8 L114.9 974.8 L116.7 974.8 L118.6 974.8 L120.5 974.9 L122.4 974.9 L124.3 974.9 L126.2 975.0 L128.1 975.0 L130.0 975.0 L131.9 975.1 L133.8 975.1 L135.7 975.1 L137.6 975.1 L139.5 975.2 L141.4 975.2 L143.3 975.2 L145.2 975.2 L147.1 975.3 L149.0 975.3 L150.9 975.3 L152.8 975.3 L154.6 975.3 L156.5 975.4 L158.4 975.4 L160.3 975.4 L162.2 975.4 L164.1 975.4 L166.0 975.4 L167.9 975.4 L169.8 975.5 L171.7 975.5 L173.6 975.5 L175.5 975.5 L177.4 975.5 L179.3 975.5 L181.2 975.5 L183.1 975.6 L185.0 975.6 L186.9 975.6 L188.8 975.6 L190.7 975.6 L192.6 975.7 L194.4 975.7 L196.3 975.7 L198.2 975.7 L200.1 975.7 L202.0 975.8 L203.9 975.8 L205.8 975.8 L207.7 975.9 L209.6 975.9 L211.5 975.9 L213.4 976.0 L215.3 976.0 L217.2 976.0 L219.1 976.1 L221.0 976.1 L222.9 976.2 L224.8 976.2 L226.7 976.3 L228.6 976.3 L230.4 976.4 L232.3 976.4 L234.2 976.5 L236.1 976.6 L238.0 976.6 L239.9 976.7 L241.8 976.7 L243.7 976.8 L245.6 976.9 L247.5 976.9 L249.4 977.0 L251.3 977.1 L253.2 977.1 L255.1 977.2 L257.0 977.2 L258.9 977.3 L260.8 977.4 L262.7 977.4 L264.5 977.5 L266.4 977.6 L268.3 977.6 L270.2 977.7 L272.1 977.8 L274.0 977.8 L275.9 977.9 L277.8 978.0 L279.7 978.0 L281.6 978.1 L283.5 978.2 L285.4 978.3 L287.3 978.3 L289.2 978.4 L291.1 978.5 L293.0 978.6 L294.8 978.6 L296.7 978.7 L298.6 978.8 L300.5 978.9 L302.4 979.0 L304.3 979.1 L306.2 979.2 L308.1 979.2 L310.0 979.3 L311.9 979.4 L313.8 979.6 L315.7 979.7 L317.6 979.8 L319.5 979.9 L321.3 980.1 L323.2 980.2 L325.1 980.4 L327.0 980.6 L328.9 980.8 L330.8 981.0 L332.7 981.1 L334.6 981.3 L336.4 981.5 L338.3 981.6 L340.2 981.8 L342.1 981.9 L344.0 982.0 L345.9 982.0 L347.8 982.0 L349.7 982.0 L351.6 982.0 L353.5 982.0 L355.4 982.0 L357.3 982.0 L359.2 981.9 L361.1 981.9 L363.0 981.8 L364.9 981.8 L366.7 981.8 L368.6 981.7 L370.5 981.7 L372.4 981.6 L374.3 981.6 L376.2 981.6 L378.1 981.5 L380.0 981.5 L381.9 981.5 L383.8 981.4" fill="none" stroke="#5a5a5a" stroke-width="1.3" stroke-linejoin="round" stroke-linecap="round"/>
<path d="M84.7 993.8 L85.2 991.9 L86.0 990.2 L87.1 988.4 L88.4 987.3 L90.1 987.0 L92.1 986.8 L94.1 986.8 L96.0 986.8 L97.9 986.8 L99.8 986.8 L101.7 986.8 L103.6 986.8 L105.5 986.8 L107.4 986.8 L109.4 986.8 L111.3 986.8 L113.2 986.8 L115.1 986.8 L117.0 986.8 L118.9 986.9 L120.8 986.9 L122.7 986.9 L124.6 986.9 L126.5 986.9 L128.4 986.9 L130.4 986.9 L132.3 986.9 L134.2 987.0 L136.1 987.0 L138.0 987.0 L139.9 987.0 L141.8 987.0 L143.7 987.0 L145.6 987.1 L147.5 987.1 L149.4 987.1 L151.3 987.1 L153.3 987.1 L155.2 987.2 L157.1 987.2 L159.0 987.2 L160.9 987.3 L162.8 987.3 L164.7 987.3 L166.6 987.4 L168.5 987.4 L170.4 987.4 L172.3 987.5 L174.2 987.5 L176.1 987.5 L178.0 987.6 L180.0 987.6 L181.9 987.7 L183.8 987.7 L185.7 987.7 L187.6 987.8 L189.5 987.8 L191.4 987.9 L193.3 987.9 L195.2 988.0 L197.1 988.0 L199.0 988.1 L200.9 988.1 L202.8 988.1 L204.7 988.2 L206.7 988.2 L208.6 988.3 L210.5 988.3 L212.4 988.4 L214.3 988.4 L216.2 988.5 L218.1 988.5 L220.0 988.6 L221.9 988.6 L223.8 988.7 L225.7 988.7 L227.6 988.8 L229.5 988.8 L231.4 988.9 L233.3 988.9 L235.3 989.0 L237.2 989.0 L239.1 989.1 L241.0 989.1 L242.9 989.2 L244.8 989.3 L246.7 989.3 L248.6 989.4 L250.5 989.4 L252.4 989.5 L254.3 989.5 L256.2 989.6 L258.1 989.7 L260.0 989.7 L261.9 989.8 L263.9 989.9 L265.8 989.9 L267.7 990.0 L269.6 990.0 L271.5 990.1 L273.4 990.2 L275.3 990.2 L277.2 990.3 L279.1 990.4 L281.0 990.5 L282.9 990.5 L284.8 990.6 L286.7 990.7 L288.6 990.8 L290.5 990.8 L292.4 990.9 L294.4 991.0 L296.3 991.1 L298.2 991.2 L300.1 991.2 L302.0 991.3 L303.9 991.4 L305.8 991.5 L307.7 991.6 L309.6 991.6 L311.5 991.7 L313.4 991.8 L315.3 991.9 L317.2 992.1 L319.1 992.2 L321.0 992.3 L322.9 992.5 L324.8 992.7 L326.7 992.9 L328.6 993.1 L330.5 993.3 L332.4 993.6 L334.3 994.0 L336.2 994.3 L338.0 994.6 L339.9 994.7 L341.8 994.9 L343.7 995.0 L345.7 995.0 L347.6 995.0 L349.5 995.0 L351.4 995.0 L353.3 994.9 L355.2 994.9 L357.1 994.9 L359.0 994.8 L360.9 994.8 L362.8 994.8 L364.7 994.7 L366.6 994.7 L368.5 994.6 L370.4 994.6 L372.4 994.6 L374.3 994.5 L376.2 994.5 L378.1 994.5 L380.0 994.4 L381.9 994.4 L383.8 994.4" fill="none" stroke="#d9282a" stroke-width="1.3" stroke-linejoin="round" stroke-linecap="round"/>
<path d="M84.7 1005.6 L85.3 1003.8 L86.3 1002.1 L87.5 1000.5 L89.0 999.5 L90.7 999.2 L92.6 999.0 L94.6 998.9 L96.6 998.9 L98.5 998.9 L100.4 998.9 L102.3 998.9 L104.2 998.9 L106.1 998.9 L108.0 998.9 L109.9 998.9 L111.8 998.9 L113.7 998.9 L115.6 998.9 L117.5 998.9 L119.5 998.9 L121.4 998.9 L123.3 998.9 L125.2 998.9 L127.1 998.9 L129.0 998.9 L130.9 998.9 L132.8 998.9 L134.7 998.9 L136.6 998.9 L138.5 998.9 L140.4 998.9 L142.3 998.9 L144.2 998.9 L146.1 998.9 L148.0 998.9 L149.9 998.9 L151.8 998.9 L153.7 998.9 L155.6 998.9 L157.6 998.9 L159.5 998.9 L161.4 999.0 L163.3 999.0 L165.2 999.0 L167.1 999.0 L169.0 999.1 L170.9 999.1 L172.8 999.1 L174.7 999.2 L176.6 999.2 L178.5 999.2 L180.4 999.3 L182.3 999.3 L184.2 999.3 L186.1 999.4 L188.0 999.4 L189.9 999.4 L191.8 999.5 L193.7 999.5 L195.6 999.5 L197.5 999.6 L199.5 999.6 L201.4 999.7 L203.3 999.7 L205.2 999.7 L207.1 999.8 L209.0 999.8 L210.9 999.8 L212.8 999.9 L214.7 999.9 L216.6 999.9 L218.5 1000.0 L220.4 1000.0 L222.3 1000.0 L224.2 1000.1 L226.1 1000.1 L228.0 1000.2 L229.9 1000.2 L231.8 1000.2 L233.7 1000.3 L235.6 1000.3 L237.5 1000.4 L239.4 1000.4 L241.3 1000.5 L243.3 1000.5 L245.2 1000.6 L247.1 1000.6 L249.0 1000.7 L250.9 1000.7 L252.8 1000.8 L254.7 1000.8 L256.6 1000.9 L258.5 1000.9 L260.4 1001.0 L262.3 1001.1 L264.2 1001.1 L266.1 1001.2 L268.0 1001.2 L269.9 1001.3 L271.8 1001.4 L273.7 1001.5 L275.6 1001.6 L277.5 1001.7 L279.4 1001.8 L281.3 1001.9 L283.2 1002.0 L285.1 1002.1 L287.0 1002.2 L288.9 1002.3 L290.8 1002.4 L292.7 1002.5 L294.6 1002.5 L296.5 1002.6 L298.4 1002.7 L300.3 1002.8 L302.2 1002.9 L304.2 1003.0 L306.1 1003.1 L308.0 1003.2 L309.9 1003.3 L311.8 1003.4 L313.7 1003.5 L315.6 1003.7 L317.4 1003.9 L319.3 1004.1 L321.2 1004.3 L323.1 1004.6 L325.0 1005.0 L326.8 1005.4 L328.7 1005.9 L330.6 1006.3 L332.4 1006.6 L334.3 1007.0 L336.2 1007.2 L338.1 1007.3 L340.0 1007.4 L341.9 1007.4 L343.8 1007.4 L345.7 1007.4 L347.6 1007.4 L349.5 1007.4 L351.4 1007.3 L353.3 1007.3 L355.2 1007.3 L357.1 1007.2 L359.0 1007.2 L360.9 1007.1 L362.8 1007.1 L364.8 1007.0 L366.7 1007.0 L368.6 1007.0 L370.5 1007.0 L372.4 1007.0 L374.3 1007.0 L376.2 1007.0 L378.1 1007.0 L380.0 1007.0 L381.9 1007.0 L383.8 1007.0" fill="none" stroke="#1f6fdc" stroke-width="1.3" stroke-linejoin="round" stroke-linecap="round"/>
<path d="M84.7 1016.0 L85.7 1014.4 L87.0 1013.0 L88.4 1011.6 L90.0 1010.7 L91.8 1010.3 L93.7 1010.0 L95.7 1009.9 L97.6 1009.8 L99.5 1009.8 L101.4 1009.8 L103.3 1009.7 L105.2 1009.7 L107.0 1009.7 L108.9 1009.7 L110.8 1009.7 L112.7 1009.7 L114.6 1009.6 L116.6 1009.6 L118.5 1009.6 L120.4 1009.6 L122.3 1009.6 L124.2 1009.6 L126.1 1009.6 L128.0 1009.6 L129.9 1009.6 L131.8 1009.6 L133.7 1009.6 L135.6 1009.6 L137.5 1009.6 L139.4 1009.6 L141.3 1009.6 L143.2 1009.6 L145.1 1009.6 L147.0 1009.6 L148.9 1009.6 L150.8 1009.6 L152.7 1009.6 L154.6 1009.6 L156.5 1009.6 L158.4 1009.6 L160.3 1009.6 L162.2 1009.6 L164.1 1009.6 L166.0 1009.6 L167.9 1009.7 L169.8 1009.7 L171.7 1009.7 L173.6 1009.7 L175.5 1009.7 L177.4 1009.8 L179.3 1009.8 L181.2 1009.8 L183.1 1009.8 L185.0 1009.8 L186.9 1009.9 L188.8 1009.9 L190.7 1009.9 L192.6 1009.9 L194.5 1010.0 L196.4 1010.0 L198.3 1010.0 L200.2 1010.1 L202.1 1010.1 L204.0 1010.1 L205.9 1010.1 L207.8 1010.2 L209.7 1010.2 L211.6 1010.2 L213.5 1010.3 L215.4 1010.3 L217.3 1010.4 L219.2 1010.4 L221.1 1010.4 L223.0 1010.5 L224.9 1010.5 L226.8 1010.6 L228.7 1010.7 L230.6 1010.7 L232.5 1010.8 L234.4 1010.8 L236.3 1010.9 L238.2 1010.9 L240.1 1011.0 L242.0 1011.1 L243.9 1011.1 L245.8 1011.2 L247.7 1011.3 L249.6 1011.3 L251.5 1011.4 L253.4 1011.4 L255.3 1011.5 L257.2 1011.6 L259.1 1011.6 L261.0 1011.7 L262.9 1011.8 L264.8 1011.8 L266.7 1011.9 L268.6 1012.0 L270.5 1012.0 L272.4 1012.1 L274.3 1012.2 L276.2 1012.2 L278.1 1012.3 L280.0 1012.4 L281.9 1012.4 L283.8 1012.5 L285.7 1012.6 L287.6 1012.7 L289.5 1012.7 L291.4 1012.8 L293.3 1012.9 L295.2 1013.0 L297.1 1013.0 L299.0 1013.1 L300.9 1013.2 L302.8 1013.3 L304.7 1013.3 L306.6 1013.4 L308.5 1013.5 L310.4 1013.7 L312.3 1013.8 L314.2 1014.0 L316.1 1014.2 L318.0 1014.6 L319.9 1014.9 L321.7 1015.4 L323.5 1016.0 L325.2 1016.8 L327.0 1017.4 L328.8 1018.1 L330.6 1018.7 L332.5 1019.1 L334.4 1019.2 L336.3 1019.4 L338.2 1019.5 L340.1 1019.5 L342.0 1019.6 L343.9 1019.6 L345.8 1019.6 L347.7 1019.6 L349.6 1019.6 L351.5 1019.6 L353.4 1019.6 L355.3 1019.6 L357.2 1019.6 L359.1 1019.6 L361.0 1019.6 L362.9 1019.6 L364.8 1019.6 L366.7 1019.6 L368.6 1019.6 L370.5 1019.6 L372.4 1019.6 L374.3 1019.6 L376.2 1019.6 L378.1 1019.6 L380.0 1019.6 L381.9 1019.6 L383.8 1019.6" fill="none" stroke="#35a567" stroke-width="1.3" stroke-linejoin="round" stroke-linecap="round"/>
<path d="M84.7 1028.7 L85.6 1027.0 L86.8 1025.5 L88.3 1024.2 L90.0 1023.4 L91.7 1023.0 L93.6 1022.8 L95.6 1022.6 L97.5 1022.6 L99.4 1022.6 L101.3 1022.5 L103.2 1022.5 L105.1 1022.5 L107.0 1022.5 L108.9 1022.5 L110.8 1022.5 L112.7 1022.5 L114.6 1022.4 L116.5 1022.4 L118.4 1022.4 L120.3 1022.4 L122.2 1022.4 L124.1 1022.4 L126.0 1022.4 L127.9 1022.4 L129.8 1022.4 L131.7 1022.4 L133.6 1022.4 L135.5 1022.4 L137.4 1022.4 L139.3 1022.4 L141.2 1022.4 L143.1 1022.4 L145.0 1022.4 L146.9 1022.4 L148.8 1022.4 L150.7 1022.4 L152.6 1022.4 L154.5 1022.4 L156.4 1022.4 L158.3 1022.4 L160.2 1022.4 L162.1 1022.4 L164.0 1022.4 L165.8 1022.4 L167.7 1022.5 L169.6 1022.5 L171.5 1022.5 L173.4 1022.5 L175.3 1022.5 L177.2 1022.5 L179.1 1022.5 L181.0 1022.5 L182.9 1022.6 L184.8 1022.6 L186.7 1022.6 L188.6 1022.6 L190.5 1022.6 L192.4 1022.6 L194.3 1022.7 L196.2 1022.7 L198.1 1022.7 L200.0 1022.7 L201.9 1022.7 L203.8 1022.8 L205.7 1022.8 L207.6 1022.8 L209.5 1022.8 L211.4 1022.9 L213.3 1022.9 L215.2 1022.9 L217.1 1022.9 L219.0 1023.0 L220.9 1023.0 L222.8 1023.1 L224.7 1023.1 L226.6 1023.1 L228.5 1023.2 L230.4 1023.2 L232.3 1023.3 L234.2 1023.3 L236.1 1023.4 L238.0 1023.4 L239.9 1023.4 L241.8 1023.5 L243.7 1023.6 L245.6 1023.6 L247.5 1023.7 L249.4 1023.7 L251.3 1023.8 L253.2 1023.8 L255.1 1023.9 L257.0 1023.9 L258.9 1024.0 L260.8 1024.1 L262.7 1024.1 L264.6 1024.2 L266.5 1024.3 L268.3 1024.3 L270.2 1024.4 L272.1 1024.5 L274.0 1024.6 L275.9 1024.7 L277.8 1024.7 L279.7 1024.8 L281.6 1024.9 L283.5 1025.0 L285.4 1025.1 L287.3 1025.2 L289.2 1025.3 L291.1 1025.4 L293.0 1025.5 L294.9 1025.6 L296.8 1025.7 L298.7 1025.8 L300.6 1025.9 L302.5 1026.0 L304.4 1026.1 L306.3 1026.2 L308.2 1026.4 L310.1 1026.5 L311.9 1026.8 L313.8 1027.1 L315.7 1027.4 L317.6 1027.8 L319.4 1028.1 L321.3 1028.5 L323.2 1028.8 L325.0 1029.1 L326.9 1029.4 L328.8 1029.7 L330.7 1029.9 L332.6 1030.1 L334.5 1030.2 L336.3 1030.3 L338.2 1030.3 L340.1 1030.4 L342.0 1030.5 L343.9 1030.5 L345.8 1030.6 L347.7 1030.6 L349.6 1030.7 L351.5 1030.8 L353.4 1030.8 L355.3 1030.9 L357.2 1030.9 L359.1 1031.0 L361.0 1031.0 L362.9 1031.1 L364.8 1031.1 L366.7 1031.2 L368.6 1031.2 L370.5 1031.2 L372.4 1031.3 L374.3 1031.3 L376.2 1031.4 L378.1 1031.4 L380.0 1031.4 L381.9 1031.5 L383.8 1031.5" fill="none" stroke="#b374e6" stroke-width="1.3" stroke-linejoin="round" stroke-linecap="round"/>
<path d="M84.7 1042.7 L85.2 1041.9 L85.8 1041.2 L86.4 1040.6 L87.1 1040.1 L87.9 1039.6 L88.7 1039.2 L89.6 1038.8 L90.4 1038.6 L91.3 1038.4 L92.2 1038.2 L93.1 1038.1 L94.0 1038.0 L94.9 1037.8 L95.8 1037.7 L96.7 1037.6 L97.6 1037.6 L98.5 1037.5 L99.4 1037.4 L100.3 1037.3 L101.2 1037.3 L102.1 1037.2 L103.0 1037.1 L104.0 1037.1 L104.9 1037.0 L105.8 1037.0 L106.7 1036.9 L107.6 1036.9 L108.5 1036.8 L109.4 1036.8 L110.3 1036.7 L111.2 1036.7 L112.1 1036.6 L113.0 1036.6 L113.9 1036.6 L114.8 1036.5 L115.7 1036.5 L116.6 1036.5 L117.5 1036.5 L118.5 1036.4 L119.4 1036.4 L120.3 1036.4 L121.2 1036.3 L122.1 1036.3 L123.0 1036.3 L123.9 1036.3 L124.8 1036.2 L125.7 1036.2 L126.6 1036.2 L127.5 1036.2 L128.4 1036.1 L129.3 1036.1 L130.2 1036.1 L131.1 1036.1 L132.1 1036.0 L133.0 1036.0 L133.9 1036.0 L134.8 1036.0 L135.7 1036.0 L136.6 1036.0 L137.5 1035.9 L138.4 1035.9 L139.3 1035.9 L140.2 1035.9 L141.1 1035.9 L142.0 1035.9 L142.9 1035.9 L143.8 1035.9 L144.7 1035.9 L145.7 1035.9 L146.6 1035.9 L147.5 1035.9 L148.4 1035.9 L149.3 1035.9 L150.2 1035.9 L151.1 1035.9 L152.0 1035.8 L152.9 1035.8 L153.8 1035.8 L154.7 1035.8 L155.6 1035.8 L156.5 1035.8 L157.4 1035.8 L158.4 1035.8 L159.3 1035.8 L160.2 1035.8 L161.1 1035.8 L162.0 1035.8 L162.9 1035.8 L163.8 1035.8 L164.7 1035.8 L165.6 1035.8 L166.5 1035.8 L167.4 1035.8 L168.3 1035.8 L169.2 1035.8 L170.1 1035.8 L171.1 1035.8 L172.0 1035.8 L172.9 1035.8 L173.8 1035.8 L174.7 1035.8 L175.6 1035.8 L176.5 1035.8 L177.4 1035.8 L178.3 1035.8 L179.2 1035.8 L180.1 1035.8 L181.0 1035.8 L181.9 1035.8 L182.8 1035.8 L183.7 1035.8 L184.7 1035.8 L185.6 1035.8 L186.5 1035.8 L187.4 1035.8 L188.3 1035.8 L189.2 1035.8 L190.1 1035.8 L191.0 1035.8 L191.9 1035.8 L192.8 1035.8 L193.7 1035.8 L194.6 1035.8 L195.5 1035.8 L196.4 1035.8 L197.4 1035.8 L198.3 1035.8 L199.2 1035.8 L200.1 1035.8 L201.0 1035.8 L201.9 1035.8 L202.8 1035.8 L203.7 1035.8 L204.6 1035.8 L205.5 1035.8 L206.4 1035.8 L207.3 1035.8 L208.2 1035.8 L209.1 1035.8 L210.1 1035.8 L211.0 1035.8 L211.9 1035.8 L212.8 1035.8 L213.7 1035.8 L214.6 1035.8 L215.5 1035.8 L216.4 1035.8 L217.3 1035.8 L218.2 1035.8 L219.1 1035.8 L220.0 1035.8 L220.9 1035.8 L221.8 1035.8 L222.7 1035.8 L223.7 1035.8 L224.6 1035.8 L225.5 1035.9 L226.4 1035.9 L227.3 1035.9 L228.2 1035.9 L229.1 1035.9 L230.0 1035.9 L230.9 1035.9 L231.8 1035.9 L232.7 1035.9 L233.6 1035.9 L234.5 1035.9 L235.4 1035.9 L236.4 1036.0 L237.3 1036.0 L238.2 1036.0 L239.1 1036.0 L240.0 1036.0 L240.9 1036.0 L241.8 1036.0 L242.7 1036.0 L243.6 1036.0 L244.5 1036.1 L245.4 1036.1 L246.3 1036.1 L247.2 1036.1 L248.1 1036.1 L249.1 1036.1 L250.0 1036.1 L250.9 1036.1 L251.8 1036.2 L252.7 1036.2 L253.6 1036.2 L254.5 1036.2 L255.4 1036.2 L256.3 1036.2 L257.2 1036.2 L258.1 1036.2 L259.0 1036.3 L259.9 1036.3 L260.8 1036.3 L261.7 1036.3 L262.7 1036.3 L263.6 1036.3" fill="none" stroke="#f5a900" stroke-width="1.3" stroke-linejoin="round" stroke-linecap="round"/>
<path d="M263.6 1036.3 L267.2 1026.4 L270.1 1012.4 L273.7 997.7 L277.6 994.9 L282.1 992.1 L285.7 992.7 L289.6 996.6 L291.7 988.2 L294.1 986.8 L298.6 987.0 L301.5 989.3 L306.0 988.7 L310.5 987.6 L314.4 992.1 L318.0 990.4 L322.5 988.5 L327.0 987.6 L331.5 988.7 L335.9 987.0 L341.9 985.6 L347.9 985.4 L352.4 985.9 L355.4 987.9 L359.9 986.8 L365.9 986.2 L370.3 984.0 L374.8 984.5 L379.3 985.1 L383.8 985.6" fill="none" stroke="#f5a900" stroke-width="1.3" stroke-linejoin="round" stroke-linecap="round"/>
<text x="305.4" y="1044.7" font-size="14.3" textLength="79.0" lengthAdjust="spacing" fill="#1a1a1a">Short circuit</text>
<line x1="302.30" y1="1039.30" x2="275.00" y2="1037.90" stroke="#111" stroke-width="1.3"/>
<path d="M267.6 1037.5 L276.4 1034.3 L274.8 1037.9 L275.9 1041.6 Z" fill="#111"/>
</g>
<g id="ph">
<text x="435" y="772.8" font-size="19" font-weight="bold" fill="#000" stroke="#000" stroke-width="0.8">h</text>
<line x1="496.60" y1="772.80" x2="496.60" y2="1055.00" stroke="#5a5a5a" stroke-width="1.1"/>
<line x1="496.10" y1="1054.50" x2="826.20" y2="1054.50" stroke="#5a5a5a" stroke-width="1.1"/>
<line x1="491.10" y1="1036.98" x2="496.60" y2="1036.98" stroke="#444" stroke-width="1"/><line x1="491.10" y1="966.50" x2="496.60" y2="966.50" stroke="#444" stroke-width="1"/><line x1="491.10" y1="896.02" x2="496.60" y2="896.02" stroke="#444" stroke-width="1"/><line x1="491.10" y1="825.54" x2="496.60" y2="825.54" stroke="#444" stroke-width="1"/><line x1="493.60" y1="1001.74" x2="496.60" y2="1001.74" stroke="#444" stroke-width="1"/><line x1="493.60" y1="931.26" x2="496.60" y2="931.26" stroke="#444" stroke-width="1"/><line x1="493.60" y1="860.78" x2="496.60" y2="860.78" stroke="#444" stroke-width="1"/><line x1="493.60" y1="790.30" x2="496.60" y2="790.30" stroke="#444" stroke-width="1"/>
<line x1="509.40" y1="1054.50" x2="509.40" y2="1059.80" stroke="#444" stroke-width="1"/><line x1="560.04" y1="1054.50" x2="560.04" y2="1059.80" stroke="#444" stroke-width="1"/><line x1="610.68" y1="1054.50" x2="610.68" y2="1059.80" stroke="#444" stroke-width="1"/><line x1="661.32" y1="1054.50" x2="661.32" y2="1059.80" stroke="#444" stroke-width="1"/><line x1="711.96" y1="1054.50" x2="711.96" y2="1059.80" stroke="#444" stroke-width="1"/><line x1="762.60" y1="1054.50" x2="762.60" y2="1059.80" stroke="#444" stroke-width="1"/><line x1="813.24" y1="1054.50" x2="813.24" y2="1059.80" stroke="#444" stroke-width="1"/><line x1="534.72" y1="1054.50" x2="534.72" y2="1057.50" stroke="#444" stroke-width="1"/><line x1="585.36" y1="1054.50" x2="585.36" y2="1057.50" stroke="#444" stroke-width="1"/><line x1="636.00" y1="1054.50" x2="636.00" y2="1057.50" stroke="#444" stroke-width="1"/><line x1="686.64" y1="1054.50" x2="686.64" y2="1057.50" stroke="#444" stroke-width="1"/><line x1="737.28" y1="1054.50" x2="737.28" y2="1057.50" stroke="#444" stroke-width="1"/><line x1="787.92" y1="1054.50" x2="787.92" y2="1057.50" stroke="#444" stroke-width="1"/>
<text x="485.5" y="1041.9" font-size="14.3" text-anchor="end" fill="#1a1a1a">–0.4</text>
<text x="485.5" y="971.4" font-size="14.3" text-anchor="end" fill="#1a1a1a">0</text>
<text x="485.5" y="900.9" font-size="14.3" text-anchor="end" fill="#1a1a1a">0.4</text>
<text x="485.5" y="830.4" font-size="14.3" text-anchor="end" fill="#1a1a1a">0.8</text>
<text x="509.4" y="1077.2" font-size="14.3" text-anchor="middle" fill="#1a1a1a">0</text>
<text x="560.0" y="1077.2" font-size="14.3" text-anchor="middle" fill="#1a1a1a">2</text>
<text x="610.7" y="1077.2" font-size="14.3" text-anchor="middle" fill="#1a1a1a">4</text>
<text x="661.3" y="1077.2" font-size="14.3" text-anchor="middle" fill="#1a1a1a">6</text>
<text x="712.0" y="1077.2" font-size="14.3" text-anchor="middle" fill="#1a1a1a">8</text>
<text x="762.6" y="1077.2" font-size="14.3" text-anchor="middle" fill="#1a1a1a">10</text>
<text x="813.2" y="1077.2" font-size="14.3" text-anchor="middle" fill="#1a1a1a">12</text>
<text x="446.5" y="914.0" font-size="14.3" text-anchor="middle" textLength="69.0" lengthAdjust="spacing" transform="rotate(-90 446.5 914.0)" fill="#1a1a1a">Voltage (V)</text>
<text x="660.5" y="1100.0" font-size="14.3" text-anchor="middle" letter-spacing="0.15" fill="#1a1a1a">Capacity (mAh cm<tspan dy="-5.6" font-size="9.6" letter-spacing="-0.3">−2</tspan><tspan dy="5.6" font-size="1"> </tspan>)</text>
<line x1="506.40" y1="791.20" x2="521.50" y2="791.20" stroke="#6a6a6a" stroke-width="1.4"/>
<text x="529.5" y="795.7" font-size="14.3" letter-spacing="0.15" fill="#1a1a1a">5 mAh cm<tspan dy="-5.6" font-size="9.6" letter-spacing="-0.3">−2</tspan><tspan dy="5.6" font-size="1"> </tspan></text>
<line x1="506.40" y1="810.60" x2="521.50" y2="810.60" stroke="#d9282a" stroke-width="1.4"/>
<text x="529.5" y="815.1" font-size="14.3" letter-spacing="0.15" fill="#1a1a1a">8 mAh cm<tspan dy="-5.6" font-size="9.6" letter-spacing="-0.3">−2</tspan><tspan dy="5.6" font-size="1"> </tspan></text>
<line x1="506.40" y1="830.40" x2="521.50" y2="830.40" stroke="#1f6fdc" stroke-width="1.4"/>
<text x="529.5" y="834.9" font-size="14.3" letter-spacing="0.15" fill="#1a1a1a">10 mAh cm<tspan dy="-5.6" font-size="9.6" letter-spacing="-0.3">−2</tspan><tspan dy="5.6" font-size="1"> </tspan></text>
<line x1="506.40" y1="849.80" x2="521.50" y2="849.80" stroke="#f5b100" stroke-width="1.4"/>
<text x="529.5" y="854.3" font-size="14.3" letter-spacing="0.15" fill="#1a1a1a">12 mAh cm<tspan dy="-5.6" font-size="9.6" letter-spacing="-0.3">−2</tspan><tspan dy="5.6" font-size="1"> </tspan></text>
<path d="M509.4 922.5 L509.4 923.7 L509.5 924.9 L509.7 926.1 L509.8 927.3 L510.0 928.5 L510.3 929.7 L510.6 930.8 L511.0 932.0 L511.5 933.1 L512.0 934.2 L512.6 935.2 L513.4 936.2 L514.2 937.1 L515.0 938.0 L515.9 938.7 L516.9 939.5 L518.0 940.1 L519.0 940.7 L520.1 941.2 L521.2 941.7 L522.4 942.1 L523.5 942.4 L524.7 942.8 L525.9 943.0 L527.1 943.2 L528.3 943.4 L529.5 943.6 L530.7 943.7 L531.9 943.8 L533.1 943.9 L534.3 943.9 L535.6 943.9 L536.8 943.9 L538.0 943.9 L539.2 943.9 L540.4 943.9 L541.6 943.9 L542.8 943.9 L544.0 943.9 L545.2 943.9 L546.4 943.9 L547.7 943.9 L548.9 943.9 L550.1 943.9 L551.3 943.9 L552.5 943.8 L553.7 943.8 L554.9 943.7 L556.1 943.6 L557.3 943.6 L558.5 943.5 L559.7 943.4 L561.0 943.4 L562.2 943.3 L563.4 943.2 L564.6 943.1 L565.8 943.1 L567.0 943.0 L568.2 942.9 L569.4 942.8 L570.6 942.7 L571.8 942.6 L573.0 942.5 L574.2 942.4 L575.4 942.3 L576.6 942.2 L577.9 942.1 L579.1 942.0 L580.3 941.9 L581.5 941.8 L582.7 941.6 L583.9 941.5 L585.1 941.3 L586.3 941.2 L587.5 941.0 L588.7 940.8 L589.9 940.6 L591.1 940.4 L592.2 940.2 L593.4 940.0 L594.6 939.7 L595.8 939.5 L597.0 939.2 L598.2 939.0 L599.4 938.7 L600.5 938.4 L601.7 938.1 L602.9 937.8 L604.0 937.4 L605.2 937.0 L606.3 936.6 L607.4 936.2 L608.6 935.7 L609.7 935.2 L610.8 934.7 L611.9 934.1 L612.9 933.6 L613.9 932.9 L615.0 932.3 L616.0 931.6 L616.9 930.8 L617.8 930.0 L618.6 929.1 L619.3 928.2 L620.0 927.2 L620.7 926.1 L621.3 925.0 L621.8 923.9 L622.3 922.8 L622.7 921.7 L623.1 920.6 L623.5 919.4 L623.9 918.3 L624.2 917.1 L624.5 915.9 L624.8 914.7 L625.0 913.6 L625.2 912.4 L625.4 911.2 L625.7 910.0 L625.8 908.8 L626.0 907.6 L626.2 906.4 L626.3 905.2 L626.5 904.0 L626.6 902.8 L626.7 901.6 L626.9 900.4 L627.0 899.2 L627.1 898.0 L627.2 896.8 L627.3 895.5 L627.4 894.3 L627.5 893.1 L627.6 891.9 L627.6 890.7 L627.7 889.5 L627.8 888.3 L627.9 887.1 L627.9 885.9 L628.0 884.7 L628.0 883.5 L628.1 882.3 L628.2 881.1 L628.2 879.8 L628.3 878.6 L628.3 877.4 L628.4 876.2 L628.4 875.0 L628.4 873.8 L628.5 872.6 L628.5 871.4 L628.6 870.2 L628.6 869.0 L628.6 867.7 L628.7 866.5 L628.7 865.3 L628.8 864.1 L628.8 862.9 L628.8 861.7 L628.8 860.5 L628.9 859.3 L628.9 858.1 L628.9 856.9 L628.9 855.6 L629.0 854.4 L629.0 853.2 L629.0 852.0 L629.0 850.8 L629.0 849.6 L629.1 848.4 L629.1 847.2 L629.1 846.0 L629.1 844.8 L629.1 843.5 L629.1 842.3 L629.2 841.1 L629.2 839.9 L629.2 838.7 L629.2 837.5 L629.2 836.3 L629.2 835.1 L629.2 833.9 L629.2 832.7 L629.2 831.4 L629.3 830.2 L629.3 829.0 L629.3 827.8 L629.3 826.6 L629.3 825.4 L629.3 824.2 L629.3 823.0 L629.3 821.8 L629.3 820.6 L629.3 819.3 L629.3 818.1 L629.3 816.9 L629.3 815.7 L629.3 814.5 L629.4 813.3 L629.4 812.1 L629.4 810.9 L629.4 809.7 L629.4 808.5 L629.4 807.2 L629.4 806.0 L629.4 804.8 L629.4 803.6 L629.4 802.4 L629.4 801.2 L629.4 800.0 L629.4 798.8 L629.4 797.6 L629.4 796.4 L629.4 795.1 L629.4 793.9 L629.4 792.7 L629.4 791.5 L629.4 790.3" fill="none" stroke="#6a6a6a" stroke-width="1.3" stroke-linejoin="round" stroke-linecap="round"/>
<path d="M509.4 923.3 L509.6 924.9 L509.8 926.4 L510.1 927.8 L510.6 929.3 L511.2 930.7 L511.8 932.1 L512.6 933.4 L513.5 934.7 L514.5 935.7 L515.7 936.7 L517.0 937.5 L518.4 938.2 L519.8 938.8 L521.2 939.3 L522.7 939.7 L524.2 940.2 L525.7 940.5 L527.2 940.8 L528.7 941.0 L530.2 941.2 L531.7 941.4 L533.2 941.6 L534.7 941.7 L536.2 941.7 L537.7 941.8 L539.3 941.8 L540.8 941.9 L542.3 941.9 L543.8 942.0 L545.3 942.0 L546.9 942.0 L548.4 942.1 L549.9 942.1 L551.4 942.1 L553.0 942.1 L554.5 942.2 L556.0 942.2 L557.5 942.2 L559.0 942.2 L560.6 942.2 L562.1 942.2 L563.6 942.2 L565.1 942.2 L566.7 942.1 L568.2 942.1 L569.7 942.1 L571.2 942.1 L572.7 942.1 L574.3 942.0 L575.8 942.0 L577.3 942.0 L578.8 941.9 L580.3 941.9 L581.9 941.9 L583.4 941.9 L584.9 941.8 L586.4 941.8 L587.9 941.8 L589.5 941.8 L591.0 941.8 L592.5 941.7 L594.0 941.7 L595.5 941.7 L597.1 941.7 L598.6 941.7 L600.1 941.6 L601.6 941.6 L603.2 941.6 L604.7 941.6 L606.2 941.6 L607.7 941.5 L609.2 941.5 L610.8 941.5 L612.3 941.4 L613.8 941.4 L615.3 941.4 L616.8 941.4 L618.4 941.3 L619.9 941.3 L621.4 941.2 L622.9 941.2 L624.4 941.2 L626.0 941.1 L627.5 941.1 L629.0 941.0 L630.5 941.0 L632.0 940.9 L633.6 940.9 L635.1 940.8 L636.6 940.8 L638.1 940.7 L639.6 940.6 L641.2 940.5 L642.7 940.5 L644.2 940.4 L645.7 940.3 L647.2 940.2 L648.8 940.1 L650.3 940.0 L651.8 939.9 L653.3 939.7 L654.8 939.6 L656.4 939.5 L657.9 939.4 L659.4 939.2 L660.9 939.1 L662.4 938.9 L663.9 938.7 L665.4 938.5 L666.9 938.3 L668.4 938.0 L669.9 937.8 L671.4 937.5 L672.9 937.1 L674.4 936.8 L675.8 936.4 L677.3 936.0 L678.8 935.4 L680.2 934.9 L681.6 934.3 L683.0 933.6 L684.3 932.9 L685.6 932.1 L686.8 931.2 L688.0 930.2 L689.1 929.1 L690.2 928.0 L691.1 926.9 L692.0 925.7 L692.8 924.4 L693.6 923.0 L694.3 921.7 L694.9 920.3 L695.5 918.9 L696.1 917.5 L696.6 916.0 L697.1 914.6 L697.6 913.1 L698.0 911.7 L698.4 910.2 L698.7 908.7 L699.0 907.2 L699.3 905.7 L699.5 904.2 L699.8 902.7 L700.0 901.2 L700.2 899.7 L700.4 898.2 L700.6 896.7 L700.7 895.2 L700.9 893.7 L701.0 892.1 L701.2 890.6 L701.3 889.1 L701.4 887.6 L701.6 886.1 L701.7 884.6 L701.8 883.0 L701.9 881.5 L702.0 880.0 L702.1 878.5 L702.2 877.0 L702.2 875.5 L702.3 873.9 L702.4 872.4 L702.5 870.9 L702.5 869.4 L702.6 867.9 L702.7 866.3 L702.7 864.8 L702.8 863.3 L702.8 861.8 L702.9 860.3 L702.9 858.7 L703.0 857.2 L703.0 855.7 L703.0 854.2 L703.1 852.7 L703.1 851.1 L703.1 849.6 L703.2 848.1 L703.2 846.6 L703.2 845.1 L703.3 843.5 L703.3 842.0 L703.3 840.5 L703.4 839.0 L703.4 837.4 L703.4 835.9 L703.4 834.4 L703.5 832.9 L703.5 831.4 L703.5 829.8 L703.5 828.3 L703.6 826.8 L703.6 825.3 L703.6 823.8 L703.6 822.2 L703.7 820.7 L703.7 819.2 L703.7 817.7 L703.7 816.2 L703.7 814.6 L703.7 813.1 L703.7 811.6 L703.8 810.1 L703.8 808.6 L703.8 807.0 L703.8 805.5 L703.8 804.0 L703.8 802.5 L703.8 800.9 L703.8 799.4 L703.8 797.9 L703.8 796.4 L703.8 794.9 L703.9 793.3 L703.9 791.8 L703.9 790.3" fill="none" stroke="#d9282a" stroke-width="1.3" stroke-linejoin="round" stroke-linecap="round"/>
<path d="M509.4 920.7 L509.6 922.4 L509.9 924.1 L510.3 925.8 L510.9 927.5 L511.6 929.1 L512.5 930.6 L513.6 932.0 L514.7 933.3 L516.1 934.3 L517.6 935.3 L519.2 936.1 L520.8 936.7 L522.4 937.2 L524.1 937.7 L525.9 938.1 L527.6 938.4 L529.3 938.6 L531.0 938.8 L532.8 939.0 L534.5 939.2 L536.2 939.3 L538.0 939.4 L539.7 939.5 L541.4 939.6 L543.2 939.7 L544.9 939.8 L546.7 939.9 L548.4 940.0 L550.2 940.1 L551.9 940.2 L553.6 940.2 L555.4 940.3 L557.1 940.3 L558.9 940.4 L560.6 940.4 L562.3 940.5 L564.1 940.5 L565.8 940.5 L567.6 940.6 L569.3 940.6 L571.1 940.6 L572.8 940.7 L574.5 940.7 L576.3 940.7 L578.0 940.7 L579.8 940.8 L581.5 940.8 L583.3 940.8 L585.0 940.8 L586.7 940.8 L588.5 940.8 L590.2 940.8 L592.0 940.8 L593.7 940.8 L595.5 940.8 L597.2 940.8 L598.9 940.8 L600.7 940.8 L602.4 940.8 L604.2 940.7 L605.9 940.7 L607.7 940.7 L609.4 940.7 L611.1 940.7 L612.9 940.7 L614.6 940.7 L616.4 940.7 L618.1 940.7 L619.9 940.7 L621.6 940.7 L623.3 940.7 L625.1 940.7 L626.8 940.6 L628.6 940.6 L630.3 940.6 L632.1 940.6 L633.8 940.6 L635.5 940.6 L637.3 940.6 L639.0 940.6 L640.8 940.6 L642.5 940.6 L644.2 940.5 L646.0 940.5 L647.7 940.5 L649.5 940.5 L651.2 940.5 L653.0 940.4 L654.7 940.4 L656.5 940.4 L658.2 940.4 L659.9 940.3 L661.7 940.3 L663.4 940.3 L665.2 940.2 L666.9 940.2 L668.7 940.2 L670.4 940.1 L672.1 940.1 L673.9 940.1 L675.6 940.0 L677.4 940.0 L679.1 939.9 L680.8 939.9 L682.6 939.8 L684.3 939.8 L686.1 939.7 L687.8 939.7 L689.5 939.6 L691.3 939.5 L693.0 939.5 L694.8 939.4 L696.5 939.3 L698.3 939.1 L700.0 939.0 L701.7 938.9 L703.5 938.8 L705.2 938.6 L707.0 938.5 L708.7 938.3 L710.4 938.1 L712.1 937.9 L713.9 937.7 L715.6 937.5 L717.3 937.2 L719.1 936.9 L720.8 936.6 L722.5 936.2 L724.2 935.8 L725.8 935.3 L727.5 934.8 L729.2 934.1 L730.8 933.4 L732.4 932.6 L733.9 931.8 L735.3 930.9 L736.7 929.9 L738.0 928.7 L739.2 927.4 L740.4 926.0 L741.4 924.7 L742.3 923.2 L743.1 921.7 L743.9 920.1 L744.6 918.4 L745.2 916.8 L745.8 915.2 L746.4 913.5 L746.9 911.9 L747.4 910.2 L747.8 908.5 L748.3 906.8 L748.6 905.1 L748.9 903.4 L749.2 901.7 L749.5 900.0 L749.8 898.2 L750.0 896.5 L750.2 894.8 L750.5 893.0 L750.6 891.3 L750.8 889.6 L751.0 887.8 L751.1 886.1 L751.3 884.4 L751.4 882.6 L751.6 880.9 L751.7 879.1 L751.8 877.4 L751.9 875.7 L752.0 873.9 L752.1 872.2 L752.2 870.4 L752.3 868.7 L752.4 867.0 L752.4 865.2 L752.5 863.5 L752.6 861.7 L752.6 860.0 L752.7 858.3 L752.7 856.5 L752.8 854.8 L752.8 853.0 L752.9 851.3 L752.9 849.5 L753.0 847.8 L753.0 846.1 L753.0 844.3 L753.1 842.6 L753.1 840.8 L753.1 839.1 L753.2 837.3 L753.2 835.6 L753.2 833.9 L753.3 832.1 L753.3 830.4 L753.3 828.6 L753.4 826.9 L753.4 825.2 L753.4 823.4 L753.4 821.7 L753.5 819.9 L753.5 818.2 L753.5 816.4 L753.5 814.7 L753.6 813.0 L753.6 811.2 L753.6 809.5 L753.6 807.7 L753.6 806.0 L753.6 804.2 L753.7 802.5 L753.7 800.8 L753.7 799.0 L753.7 797.3 L753.7 795.5 L753.7 793.8 L753.7 792.0 L753.7 790.3" fill="none" stroke="#1f6fdc" stroke-width="1.3" stroke-linejoin="round" stroke-linecap="round"/>
<path d="M509.4 915.4 L509.6 917.4 L509.8 919.3 L510.2 921.2 L510.7 923.2 L511.4 925.0 L512.3 926.7 L513.4 928.4 L514.8 929.8 L516.3 931.1 L517.9 932.2 L519.7 933.1 L521.5 933.8 L523.3 934.4 L525.3 934.9 L527.2 935.3 L529.1 935.7 L531.0 936.0 L533.0 936.3 L534.9 936.6 L536.9 936.8 L538.8 937.0 L540.8 937.1 L542.7 937.3 L544.7 937.4 L546.7 937.6 L548.6 937.7 L550.6 937.8 L552.6 938.0 L554.5 938.1 L556.5 938.2 L558.4 938.2 L560.4 938.3 L562.4 938.4 L564.3 938.5 L566.3 938.5 L568.2 938.6 L570.2 938.7 L572.2 938.7 L574.1 938.8 L576.1 938.9 L578.1 938.9 L580.0 938.9 L582.0 939.0 L583.9 939.0 L585.9 939.0 L587.9 939.0 L589.8 939.0 L591.8 939.1 L593.8 939.1 L595.7 939.1 L597.7 939.1 L599.7 939.1 L601.6 939.1 L603.6 939.1 L605.5 939.1 L607.5 939.1 L609.5 939.1 L611.4 939.1 L613.4 939.2 L615.4 939.2 L617.3 939.2 L619.3 939.2 L621.2 939.2 L623.2 939.2 L625.2 939.2 L627.1 939.2 L629.1 939.2 L631.1 939.2 L633.0 939.2 L635.0 939.2 L637.0 939.2 L638.9 939.2 L640.9 939.2 L642.8 939.2 L644.8 939.2 L646.8 939.2 L648.7 939.1 L650.7 939.1 L652.7 939.1 L654.6 939.1 L656.6 939.1 L658.6 939.1 L660.5 939.0 L662.5 939.0 L664.4 939.0 L666.4 939.0 L668.4 938.9 L670.3 938.9 L672.3 938.9 L674.3 938.8 L676.2 938.8 L678.2 938.8 L680.1 938.8 L682.1 938.7 L684.1 938.7 L686.0 938.7 L688.0 938.6 L690.0 938.6 L691.9 938.6 L693.9 938.5 L695.9 938.5 L697.8 938.5 L699.8 938.4 L701.7 938.4 L703.7 938.3 L705.7 938.3 L707.6 938.3 L709.6 938.2 L711.6 938.2 L713.5 938.1 L715.5 938.1 L717.5 938.0 L719.4 937.9 L721.4 937.9 L723.3 937.8 L725.3 937.7 L727.3 937.7 L729.2 937.6 L731.2 937.5 L733.1 937.4 L735.1 937.3 L737.1 937.3 L739.0 937.2 L741.0 937.0 L742.9 936.9 L744.9 936.8 L746.9 936.6 L748.8 936.4 L750.8 936.2 L752.7 936.0 L754.7 935.8 L756.6 935.6 L758.6 935.3 L760.5 935.1 L762.5 934.8 L764.4 934.5 L766.3 934.2 L768.3 933.8 L770.2 933.3 L772.1 932.9 L774.0 932.3 L775.9 931.8 L777.7 931.1 L779.5 930.3 L781.3 929.4 L783.0 928.4 L784.6 927.4 L786.2 926.2 L787.6 924.8 L789.0 923.4 L790.2 921.8 L791.4 920.3 L792.5 918.6 L793.5 916.9 L794.4 915.1 L795.1 913.3 L795.8 911.5 L796.4 909.7 L797.0 907.8 L797.4 905.8 L797.9 903.9 L798.3 902.0 L798.6 900.1 L798.9 898.1 L799.2 896.2 L799.5 894.2 L799.7 892.3 L799.9 890.3 L800.1 888.4 L800.3 886.4 L800.5 884.5 L800.7 882.5 L800.8 880.6 L801.0 878.6 L801.1 876.6 L801.3 874.7 L801.4 872.7 L801.5 870.8 L801.6 868.8 L801.7 866.8 L801.8 864.9 L801.9 862.9 L802.0 861.0 L802.1 859.0 L802.2 857.0 L802.3 855.1 L802.4 853.1 L802.5 851.1 L802.5 849.2 L802.6 847.2 L802.7 845.3 L802.7 843.3 L802.8 841.3 L802.8 839.4 L802.9 837.4 L802.9 835.4 L803.0 833.5 L803.0 831.5 L803.1 829.6 L803.1 827.6 L803.2 825.6 L803.2 823.7 L803.2 821.7 L803.3 819.7 L803.3 817.8 L803.3 815.8 L803.4 813.9 L803.4 811.9 L803.4 809.9 L803.4 808.0 L803.5 806.0 L803.5 804.0 L803.5 802.1 L803.5 800.1 L803.5 798.2 L803.6 796.2 L803.6 794.2 L803.6 792.3 L803.6 790.3" fill="none" stroke="#f5b100" stroke-width="1.3" stroke-linejoin="round" stroke-linecap="round"/>
<path d="M509.4 1021.1 L509.4 1020.4 L509.4 1019.6 L509.4 1018.9 L509.4 1018.2 L509.4 1017.4 L509.4 1016.7 L509.4 1016.0 L509.4 1015.2 L509.4 1014.5 L509.4 1013.8 L509.4 1013.0 L509.4 1012.3 L509.5 1011.5 L509.5 1010.8 L509.5 1010.1 L509.5 1009.3 L509.5 1008.6 L509.5 1007.9 L509.5 1007.1 L509.5 1006.4 L509.5 1005.6 L509.5 1004.9 L509.5 1004.2 L509.5 1003.4 L509.5 1002.7 L509.6 1001.9 L509.6 1001.2 L509.6 1000.5 L509.6 999.7 L509.6 999.0 L509.7 998.3 L509.7 997.5 L509.8 996.7 L509.9 995.9 L510.1 995.2 L510.3 994.5 L510.6 993.9 L511.0 993.5 L511.6 993.1 L512.4 992.8 L513.2 992.6 L513.9 992.5 L514.6 992.4 L515.3 992.4 L516.0 992.3 L516.8 992.3 L517.5 992.2 L518.2 992.2 L519.0 992.1 L519.7 992.1 L520.5 992.1 L521.2 992.1 L522.0 992.1 L522.7 992.0 L523.5 992.0 L524.2 992.0 L524.9 992.0 L525.7 992.0 L526.4 992.0 L527.1 991.9 L527.9 991.9 L528.6 991.9 L529.3 991.9 L530.1 991.9 L530.8 991.9 L531.6 991.9 L532.3 991.9 L533.0 991.9 L533.8 991.9 L534.5 991.9 L535.2 991.9 L536.0 991.9 L536.7 991.9 L537.4 991.9 L538.2 991.9 L538.9 991.9 L539.7 991.9 L540.4 991.9 L541.1 992.0 L541.9 992.0 L542.6 992.0 L543.3 992.0 L544.1 992.1 L544.8 992.1 L545.6 992.1 L546.3 992.2 L547.0 992.2 L547.8 992.2 L548.5 992.3 L549.2 992.3 L550.0 992.3 L550.7 992.4 L551.4 992.4 L552.2 992.5 L552.9 992.5 L553.6 992.5 L554.4 992.6 L555.1 992.6 L555.9 992.7 L556.6 992.7 L557.3 992.8 L558.1 992.8 L558.8 992.9 L559.5 992.9 L560.3 992.9 L561.0 993.0 L561.7 993.0 L562.5 993.1 L563.2 993.2 L563.9 993.2 L564.7 993.3 L565.4 993.4 L566.1 993.4 L566.9 993.5 L567.6 993.6 L568.3 993.7 L569.1 993.8 L569.8 993.8 L570.5 993.9 L571.3 994.0 L572.0 994.1 L572.7 994.2 L573.5 994.2 L574.2 994.3 L574.9 994.4 L575.7 994.5 L576.4 994.6 L577.1 994.7 L577.8 994.8 L578.6 994.9 L579.3 995.0 L580.0 995.1 L580.8 995.1 L581.5 995.2 L582.2 995.3 L583.0 995.4 L583.7 995.5 L584.4 995.6 L585.2 995.7 L585.9 995.8 L586.6 995.9 L587.3 996.0 L588.1 996.1 L588.8 996.2 L589.5 996.3 L590.3 996.4 L591.0 996.5 L591.7 996.6 L592.5 996.7 L593.2 996.8 L593.9 996.9 L594.6 997.0 L595.4 997.1 L596.1 997.3 L596.8 997.4 L597.6 997.5 L598.3 997.7 L599.0 997.8 L599.7 997.9 L600.5 998.1 L601.2 998.3 L601.9 998.4 L602.6 998.6 L603.3 998.8 L604.0 999.0 L604.7 999.3 L605.4 999.5 L606.1 999.8 L606.8 1000.1 L607.5 1000.4 L608.1 1000.7 L608.8 1001.0 L609.4 1001.4 L610.0 1001.8 L610.6 1002.2 L611.2 1002.6 L611.8 1003.1 L612.4 1003.6 L612.9 1004.1 L613.4 1004.6 L613.9 1005.2 L614.3 1005.7 L614.8 1006.3 L615.2 1006.9 L615.6 1007.6 L616.0 1008.2 L616.4 1008.8 L616.8 1009.4 L617.3 1010.0 L617.7 1010.6 L618.1 1011.3 L618.5 1011.9 L618.9 1012.5 L619.3 1013.1 L619.7 1013.7 L620.2 1014.3 L620.6 1014.9 L621.1 1015.5 L621.6 1016.0 L622.2 1016.5 L622.8 1016.8 L623.5 1017.0 L624.2 1017.2 L625.0 1017.3 L625.7 1017.3 L626.5 1017.4 L627.2 1017.4 L627.9 1017.4 L628.7 1017.4 L629.4 1017.4 L630.1 1017.3 L630.9 1017.2 L631.6 1017.1 L632.3 1017.1 L633.1 1017.0 L633.8 1016.9 L634.5 1016.9 L635.3 1016.8 L636.0 1016.7" fill="none" stroke="#6a6a6a" stroke-width="1.3" stroke-linejoin="round" stroke-linecap="round"/>
<path d="M509.4 1021.1 L509.4 1020.0 L509.4 1018.9 L509.4 1017.8 L509.4 1016.7 L509.4 1015.6 L509.4 1014.5 L509.4 1013.4 L509.4 1012.3 L509.5 1011.2 L509.5 1010.1 L509.5 1009.0 L509.5 1007.9 L509.5 1006.8 L509.5 1005.7 L509.5 1004.6 L509.5 1003.5 L509.5 1002.4 L509.5 1001.2 L509.6 1000.1 L509.6 999.0 L509.6 997.9 L509.6 996.8 L509.7 995.7 L509.8 994.5 L510.0 993.3 L510.3 992.4 L510.8 991.7 L511.9 991.1 L513.0 990.9 L514.0 990.9 L515.1 990.8 L516.2 990.8 L517.3 990.7 L518.5 990.7 L519.6 990.7 L520.7 990.7 L521.8 990.6 L522.9 990.6 L524.0 990.6 L525.1 990.6 L526.2 990.6 L527.3 990.5 L528.4 990.5 L529.5 990.5 L530.7 990.5 L531.8 990.5 L532.9 990.5 L534.0 990.5 L535.1 990.5 L536.2 990.5 L537.3 990.5 L538.4 990.5 L539.5 990.5 L540.6 990.5 L541.7 990.5 L542.8 990.5 L543.9 990.5 L545.0 990.5 L546.1 990.6 L547.2 990.6 L548.3 990.6 L549.4 990.6 L550.5 990.6 L551.6 990.7 L552.7 990.7 L553.8 990.7 L554.9 990.7 L556.0 990.7 L557.1 990.8 L558.2 990.8 L559.3 990.8 L560.4 990.8 L561.5 990.8 L562.6 990.9 L563.7 990.9 L564.8 990.9 L566.0 990.9 L567.1 990.9 L568.2 991.0 L569.3 991.0 L570.4 991.0 L571.5 991.0 L572.6 991.0 L573.7 991.1 L574.8 991.1 L575.9 991.1 L577.0 991.1 L578.1 991.2 L579.2 991.2 L580.3 991.2 L581.4 991.2 L582.5 991.3 L583.6 991.3 L584.7 991.3 L585.8 991.4 L586.9 991.4 L588.0 991.4 L589.1 991.4 L590.2 991.5 L591.3 991.5 L592.4 991.6 L593.5 991.6 L594.6 991.6 L595.7 991.7 L596.8 991.7 L597.9 991.7 L599.0 991.8 L600.1 991.8 L601.2 991.9 L602.3 991.9 L603.4 991.9 L604.5 992.0 L605.7 992.0 L606.8 992.1 L607.9 992.1 L609.0 992.2 L610.1 992.2 L611.2 992.2 L612.3 992.3 L613.4 992.3 L614.5 992.4 L615.6 992.4 L616.7 992.4 L617.8 992.5 L618.9 992.5 L620.0 992.6 L621.1 992.6 L622.2 992.7 L623.3 992.7 L624.4 992.7 L625.5 992.8 L626.6 992.8 L627.7 992.9 L628.8 992.9 L629.9 993.0 L631.0 993.0 L632.1 993.1 L633.2 993.1 L634.3 993.2 L635.4 993.3 L636.5 993.3 L637.6 993.4 L638.7 993.4 L639.8 993.5 L640.9 993.6 L642.0 993.6 L643.1 993.7 L644.2 993.8 L645.3 993.8 L646.4 993.9 L647.5 994.0 L648.6 994.1 L649.7 994.1 L650.8 994.2 L651.9 994.3 L653.0 994.4 L654.1 994.5 L655.2 994.6 L656.3 994.7 L657.4 994.8 L658.5 994.9 L659.6 995.0 L660.7 995.2 L661.8 995.3 L662.9 995.4 L664.0 995.6 L665.1 995.7 L666.2 995.9 L667.3 996.1 L668.4 996.3 L669.5 996.5 L670.6 996.7 L671.6 996.9 L672.7 997.2 L673.8 997.5 L674.8 997.7 L675.9 998.1 L676.9 998.4 L678.0 998.8 L679.0 999.2 L680.0 999.6 L681.1 1000.1 L682.0 1000.6 L683.0 1001.1 L683.9 1001.7 L684.8 1002.3 L685.7 1003.0 L686.6 1003.7 L687.4 1004.4 L688.2 1005.2 L689.0 1006.0 L689.7 1006.8 L690.4 1007.6 L691.1 1008.5 L691.7 1009.4 L692.3 1010.4 L692.9 1011.3 L693.4 1012.3 L694.0 1013.2 L694.4 1014.2 L694.9 1015.2 L695.5 1016.2 L696.0 1017.2 L696.6 1018.2 L697.2 1019.1 L697.9 1019.8 L698.9 1020.4 L700.0 1020.6 L701.1 1020.5 L702.2 1020.3 L703.3 1020.1 L704.3 1019.8 L705.4 1019.5 L706.5 1019.3 L707.6 1019.1 L708.7 1018.9 L709.8 1018.8 L710.9 1018.7 L712.0 1018.7" fill="none" stroke="#d9282a" stroke-width="1.3" stroke-linejoin="round" stroke-linecap="round"/>
<path d="M509.4 1021.1 L509.4 1019.8 L509.4 1018.5 L509.4 1017.2 L509.4 1015.8 L509.4 1014.5 L509.5 1013.2 L509.5 1011.9 L509.5 1010.6 L509.5 1009.3 L509.5 1007.9 L509.5 1006.6 L509.5 1005.3 L509.6 1004.0 L509.6 1002.6 L509.6 1001.3 L509.7 1000.0 L509.8 998.6 L510.0 997.1 L510.4 995.9 L511.1 995.3 L512.5 994.8 L513.8 994.6 L515.1 994.4 L516.4 994.3 L517.8 994.2 L519.1 994.1 L520.4 994.1 L521.7 994.0 L523.1 993.9 L524.4 993.9 L525.7 993.8 L527.0 993.7 L528.3 993.7 L529.7 993.6 L531.0 993.6 L532.3 993.5 L533.6 993.5 L534.9 993.5 L536.2 993.4 L537.6 993.4 L538.9 993.3 L540.2 993.3 L541.5 993.3 L542.8 993.2 L544.2 993.2 L545.5 993.2 L546.8 993.1 L548.1 993.1 L549.4 993.1 L550.7 993.0 L552.1 993.0 L553.4 993.0 L554.7 993.0 L556.0 993.0 L557.3 992.9 L558.7 992.9 L560.0 992.9 L561.3 992.9 L562.6 992.9 L563.9 992.9 L565.2 992.9 L566.6 992.9 L567.9 992.9 L569.2 992.9 L570.5 992.9 L571.8 992.9 L573.2 992.9 L574.5 992.9 L575.8 992.9 L577.1 992.9 L578.4 992.9 L579.8 992.9 L581.1 992.9 L582.4 992.9 L583.7 992.9 L585.0 992.9 L586.3 992.9 L587.7 992.9 L589.0 992.9 L590.3 992.9 L591.6 992.9 L592.9 992.9 L594.3 992.9 L595.6 992.9 L596.9 992.9 L598.2 992.9 L599.5 992.9 L600.9 992.9 L602.2 992.9 L603.5 992.9 L604.8 992.9 L606.1 992.9 L607.4 992.9 L608.8 992.9 L610.1 992.9 L611.4 992.9 L612.7 992.9 L614.0 992.9 L615.4 992.9 L616.7 992.9 L618.0 992.9 L619.3 992.9 L620.6 992.9 L622.0 993.0 L623.3 993.0 L624.6 993.0 L625.9 993.0 L627.2 993.0 L628.5 993.0 L629.9 993.0 L631.2 993.0 L632.5 993.0 L633.8 993.0 L635.1 993.0 L636.5 993.0 L637.8 993.0 L639.1 993.1 L640.4 993.1 L641.7 993.1 L643.1 993.1 L644.4 993.1 L645.7 993.1 L647.0 993.1 L648.3 993.1 L649.6 993.2 L651.0 993.2 L652.3 993.2 L653.6 993.2 L654.9 993.2 L656.2 993.2 L657.6 993.2 L658.9 993.3 L660.2 993.3 L661.5 993.3 L662.8 993.3 L664.2 993.3 L665.5 993.3 L666.8 993.4 L668.1 993.4 L669.4 993.4 L670.7 993.5 L672.1 993.5 L673.4 993.5 L674.7 993.6 L676.0 993.6 L677.3 993.6 L678.7 993.7 L680.0 993.7 L681.3 993.8 L682.6 993.8 L683.9 993.9 L685.2 993.9 L686.6 994.0 L687.9 994.0 L689.2 994.1 L690.5 994.2 L691.8 994.2 L693.2 994.3 L694.5 994.3 L695.8 994.4 L697.1 994.5 L698.4 994.6 L699.8 994.7 L701.1 994.8 L702.4 994.9 L703.7 995.0 L705.0 995.1 L706.3 995.2 L707.6 995.3 L709.0 995.4 L710.3 995.6 L711.6 995.7 L712.9 995.9 L714.2 996.0 L715.5 996.3 L716.8 996.5 L718.1 996.8 L719.4 997.1 L720.7 997.4 L721.9 997.8 L723.2 998.1 L724.4 998.5 L725.7 998.9 L726.9 999.4 L728.1 1000.0 L729.3 1000.6 L730.5 1001.2 L731.6 1001.9 L732.7 1002.6 L733.7 1003.4 L734.7 1004.3 L735.6 1005.3 L736.5 1006.3 L737.4 1007.3 L738.2 1008.3 L739.0 1009.3 L739.8 1010.4 L740.5 1011.5 L741.2 1012.6 L741.9 1013.7 L742.6 1014.9 L743.2 1016.0 L743.9 1017.2 L744.6 1018.3 L745.3 1019.5 L746.1 1020.6 L747.0 1021.4 L748.2 1022.1 L749.5 1022.2 L750.8 1022.0 L752.1 1021.9 L753.4 1021.8 L754.7 1021.6 L756.0 1021.5 L757.4 1021.3 L758.7 1021.2 L760.0 1021.0 L761.3 1020.9 L762.6 1020.8" fill="none" stroke="#1f6fdc" stroke-width="1.3" stroke-linejoin="round" stroke-linecap="round"/>
<path d="M509.4 1021.1 L509.4 1019.6 L509.4 1018.0 L509.4 1016.5 L509.4 1014.9 L509.4 1013.4 L509.5 1011.8 L509.5 1010.3 L509.5 1008.7 L509.5 1007.2 L509.5 1005.6 L509.6 1004.1 L509.6 1002.5 L509.6 1001.0 L509.8 999.4 L510.2 997.7 L510.8 996.6 L512.3 996.0 L513.8 995.7 L515.4 995.5 L516.9 995.4 L518.5 995.3 L520.0 995.2 L521.6 995.1 L523.1 995.0 L524.7 994.9 L526.2 994.8 L527.8 994.7 L529.3 994.6 L530.9 994.5 L532.4 994.4 L533.9 994.4 L535.5 994.3 L537.0 994.3 L538.6 994.2 L540.1 994.2 L541.7 994.1 L543.2 994.1 L544.8 994.1 L546.3 994.0 L547.9 994.0 L549.4 994.0 L551.0 993.9 L552.5 993.9 L554.1 993.9 L555.6 993.9 L557.2 993.8 L558.7 993.8 L560.3 993.8 L561.8 993.8 L563.4 993.8 L564.9 993.8 L566.4 993.8 L568.0 993.8 L569.5 993.8 L571.1 993.7 L572.6 993.7 L574.2 993.7 L575.7 993.7 L577.3 993.7 L578.8 993.7 L580.4 993.7 L581.9 993.7 L583.5 993.7 L585.0 993.7 L586.6 993.7 L588.1 993.7 L589.7 993.7 L591.2 993.7 L592.8 993.7 L594.3 993.7 L595.9 993.7 L597.4 993.6 L599.0 993.6 L600.5 993.6 L602.1 993.6 L603.6 993.6 L605.1 993.6 L606.7 993.6 L608.2 993.6 L609.8 993.6 L611.3 993.6 L612.9 993.6 L614.4 993.6 L616.0 993.6 L617.5 993.6 L619.1 993.6 L620.6 993.6 L622.2 993.6 L623.7 993.6 L625.3 993.6 L626.8 993.6 L628.4 993.6 L629.9 993.6 L631.5 993.6 L633.0 993.6 L634.6 993.6 L636.1 993.6 L637.7 993.6 L639.2 993.6 L640.7 993.6 L642.3 993.6 L643.8 993.6 L645.4 993.6 L646.9 993.6 L648.5 993.6 L650.0 993.6 L651.6 993.6 L653.1 993.6 L654.7 993.6 L656.2 993.6 L657.8 993.6 L659.3 993.6 L660.9 993.6 L662.4 993.6 L664.0 993.6 L665.5 993.6 L667.1 993.6 L668.6 993.6 L670.2 993.6 L671.7 993.7 L673.3 993.7 L674.8 993.7 L676.4 993.7 L677.9 993.7 L679.4 993.7 L681.0 993.7 L682.5 993.7 L684.1 993.7 L685.6 993.7 L687.2 993.7 L688.7 993.7 L690.3 993.8 L691.8 993.8 L693.4 993.8 L694.9 993.8 L696.5 993.8 L698.0 993.8 L699.6 993.8 L701.1 993.9 L702.7 993.9 L704.2 993.9 L705.8 993.9 L707.3 993.9 L708.9 993.9 L710.4 994.0 L711.9 994.0 L713.5 994.0 L715.0 994.0 L716.6 994.1 L718.1 994.1 L719.7 994.1 L721.2 994.2 L722.8 994.2 L724.3 994.3 L725.9 994.3 L727.4 994.4 L729.0 994.5 L730.5 994.5 L732.1 994.6 L733.6 994.7 L735.2 994.8 L736.7 994.8 L738.2 994.9 L739.8 995.0 L741.3 995.1 L742.9 995.3 L744.4 995.4 L746.0 995.6 L747.5 995.8 L749.1 996.0 L750.6 996.2 L752.1 996.4 L753.6 996.6 L755.2 996.8 L756.7 997.1 L758.2 997.4 L759.7 997.7 L761.3 998.1 L762.8 998.5 L764.3 998.9 L765.7 999.3 L767.2 999.8 L768.6 1000.3 L770.1 1000.9 L771.5 1001.6 L772.9 1002.3 L774.2 1003.1 L775.5 1003.9 L776.8 1004.8 L778.0 1005.7 L779.2 1006.7 L780.4 1007.7 L781.5 1008.8 L782.6 1009.9 L783.6 1011.0 L784.7 1012.2 L785.6 1013.4 L786.6 1014.6 L787.5 1015.9 L788.5 1017.1 L789.4 1018.4 L790.3 1019.6 L791.2 1020.9 L792.1 1022.1 L793.0 1023.4 L794.0 1024.6 L795.1 1025.7 L796.4 1026.7 L797.8 1027.0 L799.4 1027.1 L800.9 1027.0 L802.4 1026.7 L804.0 1026.5 L805.5 1026.4 L807.1 1026.3 L808.6 1026.2 L810.1 1026.1 L811.7 1026.1 L813.2 1026.1" fill="none" stroke="#f5b100" stroke-width="1.3" stroke-linejoin="round" stroke-linecap="round"/>
</g>
<g id="pi">
<text x="861.5" y="773.3" font-size="19" font-weight="bold" fill="#000" stroke="#000" stroke-width="0.8">i</text>
<line x1="918.50" y1="773.00" x2="918.50" y2="1054.90" stroke="#5a5a5a" stroke-width="1"/>
<line x1="918.00" y1="1054.40" x2="1269.80" y2="1054.40" stroke="#5a5a5a" stroke-width="1.1"/>
<line x1="912.90" y1="1050.10" x2="918.50" y2="1050.10" stroke="#444" stroke-width="1"/><line x1="912.90" y1="1008.64" x2="918.50" y2="1008.64" stroke="#444" stroke-width="1"/><line x1="912.90" y1="967.18" x2="918.50" y2="967.18" stroke="#444" stroke-width="1"/><line x1="912.90" y1="925.72" x2="918.50" y2="925.72" stroke="#444" stroke-width="1"/><line x1="912.90" y1="884.26" x2="918.50" y2="884.26" stroke="#444" stroke-width="1"/><line x1="912.90" y1="842.80" x2="918.50" y2="842.80" stroke="#444" stroke-width="1"/><line x1="912.90" y1="801.34" x2="918.50" y2="801.34" stroke="#444" stroke-width="1"/><line x1="915.70" y1="1029.37" x2="918.50" y2="1029.37" stroke="#444" stroke-width="1"/><line x1="915.70" y1="987.91" x2="918.50" y2="987.91" stroke="#444" stroke-width="1"/><line x1="915.70" y1="946.45" x2="918.50" y2="946.45" stroke="#444" stroke-width="1"/><line x1="915.70" y1="904.99" x2="918.50" y2="904.99" stroke="#444" stroke-width="1"/><line x1="915.70" y1="863.53" x2="918.50" y2="863.53" stroke="#444" stroke-width="1"/><line x1="915.70" y1="822.07" x2="918.50" y2="822.07" stroke="#444" stroke-width="1"/><line x1="915.70" y1="780.61" x2="918.50" y2="780.61" stroke="#444" stroke-width="1"/>
<line x1="921.30" y1="1054.40" x2="921.30" y2="1059.00" stroke="#444" stroke-width="1"/><line x1="983.50" y1="1054.40" x2="983.50" y2="1059.00" stroke="#444" stroke-width="1"/><line x1="1045.70" y1="1054.40" x2="1045.70" y2="1059.00" stroke="#444" stroke-width="1"/><line x1="1107.90" y1="1054.40" x2="1107.90" y2="1059.00" stroke="#444" stroke-width="1"/><line x1="1170.10" y1="1054.40" x2="1170.10" y2="1059.00" stroke="#444" stroke-width="1"/><line x1="1232.30" y1="1054.40" x2="1232.30" y2="1059.00" stroke="#444" stroke-width="1"/><line x1="952.40" y1="1054.40" x2="952.40" y2="1057.00" stroke="#444" stroke-width="1"/><line x1="1014.60" y1="1054.40" x2="1014.60" y2="1057.00" stroke="#444" stroke-width="1"/><line x1="1076.80" y1="1054.40" x2="1076.80" y2="1057.00" stroke="#444" stroke-width="1"/><line x1="1139.00" y1="1054.40" x2="1139.00" y2="1057.00" stroke="#444" stroke-width="1"/><line x1="1201.20" y1="1054.40" x2="1201.20" y2="1057.00" stroke="#444" stroke-width="1"/><line x1="1263.40" y1="1054.40" x2="1263.40" y2="1057.00" stroke="#444" stroke-width="1"/>
<text x="907.6" y="1055.2" font-size="14.3" text-anchor="end" fill="#1a1a1a">0</text>
<text x="907.6" y="1013.7" font-size="14.3" text-anchor="end" fill="#1a1a1a">2</text>
<text x="907.6" y="972.3" font-size="14.3" text-anchor="end" fill="#1a1a1a">4</text>
<text x="907.6" y="930.8" font-size="14.3" text-anchor="end" fill="#1a1a1a">6</text>
<text x="907.6" y="889.4" font-size="14.3" text-anchor="end" fill="#1a1a1a">8</text>
<text x="907.6" y="847.9" font-size="14.3" text-anchor="end" fill="#1a1a1a">10</text>
<text x="907.6" y="806.4" font-size="14.3" text-anchor="end" fill="#1a1a1a">12</text>
<text x="921.3" y="1076.1" font-size="14.3" text-anchor="middle" fill="#1a1a1a">0</text>
<text x="983.5" y="1076.1" font-size="14.3" text-anchor="middle" fill="#1a1a1a">10</text>
<text x="1045.7" y="1076.1" font-size="14.3" text-anchor="middle" fill="#1a1a1a">20</text>
<text x="1107.9" y="1076.1" font-size="14.3" text-anchor="middle" fill="#1a1a1a">30</text>
<text x="1170.1" y="1076.1" font-size="14.3" text-anchor="middle" fill="#1a1a1a">40</text>
<text x="1232.3" y="1076.1" font-size="14.3" text-anchor="middle" fill="#1a1a1a">50</text>
<text x="880.0" y="913.3" font-size="14.3" text-anchor="middle" letter-spacing="0.15" transform="rotate(-90 880.0 913.3)" fill="#1a1a1a">Capacity (mAh cm<tspan dy="-5.6" font-size="9.6" letter-spacing="-0.3">−2</tspan><tspan dy="5.6" font-size="1"> </tspan>)</text>
<text x="1093.4" y="1099.8" font-size="14.3" text-anchor="middle" letter-spacing="0.15" fill="#1a1a1a">Current density (mA cm<tspan dy="-5.6" font-size="9.6" letter-spacing="-0.3">−2</tspan><tspan dy="5.6" font-size="1"> </tspan>)</text>
<rect x="928.4" y="780.7" width="11" height="11" fill="#8b8b00"/>
<text x="946.3" y="790.8" font-size="14.3" textLength="46.0" lengthAdjust="spacing" fill="#1a1a1a">Ref. 18</text>
<rect x="928.4" y="800.6" width="11" height="11" fill="#3aa96b"/>
<text x="946.3" y="810.7" font-size="14.3" textLength="46.0" lengthAdjust="spacing" fill="#1a1a1a">Ref. 19</text>
<rect x="928.4" y="820.2" width="11" height="11" fill="#cf9b00"/>
<text x="946.3" y="830.3" font-size="14.3" textLength="46.0" lengthAdjust="spacing" fill="#1a1a1a">Ref. 20</text>
<rect x="928.4" y="839.5" width="11" height="11" fill="#1a6be0"/>
<text x="946.3" y="849.6" font-size="14.3" textLength="46.0" lengthAdjust="spacing" fill="#1a1a1a">Ref. 21</text>
<rect x="928.4" y="858.4" width="11" height="11" fill="#555555"/>
<text x="946.3" y="868.5" font-size="14.3" textLength="46.0" lengthAdjust="spacing" fill="#1a1a1a">Ref. 22</text>
<rect x="928.3" y="1024.0" width="11.5" height="10.9" fill="#8b8b00"/>
<rect x="922.1" y="1024.0" width="11.5" height="10.9" fill="#cf9b00"/>
<rect x="928.1" y="1003.2" width="11.5" height="10.9" fill="#3aa96b"/>
<rect x="928.1" y="941.0" width="11.5" height="10.9" fill="#1a6be0"/>
<rect x="978.0" y="1024.0" width="11.5" height="10.9" fill="#555555"/>
<polygon points="1232.30,793.10 1234.59,798.84 1240.76,799.25 1236.01,803.21 1237.53,809.20 1232.30,805.90 1227.07,809.20 1228.59,803.21 1223.84,799.25 1230.01,798.84" fill="#e0282e"/>
<text x="1227.6" y="789.9" font-size="14.3" text-anchor="middle" textLength="62.0" lengthAdjust="spacing" fill="#1a1a1a">This work</text>
</g>
</svg>
</body></html>
